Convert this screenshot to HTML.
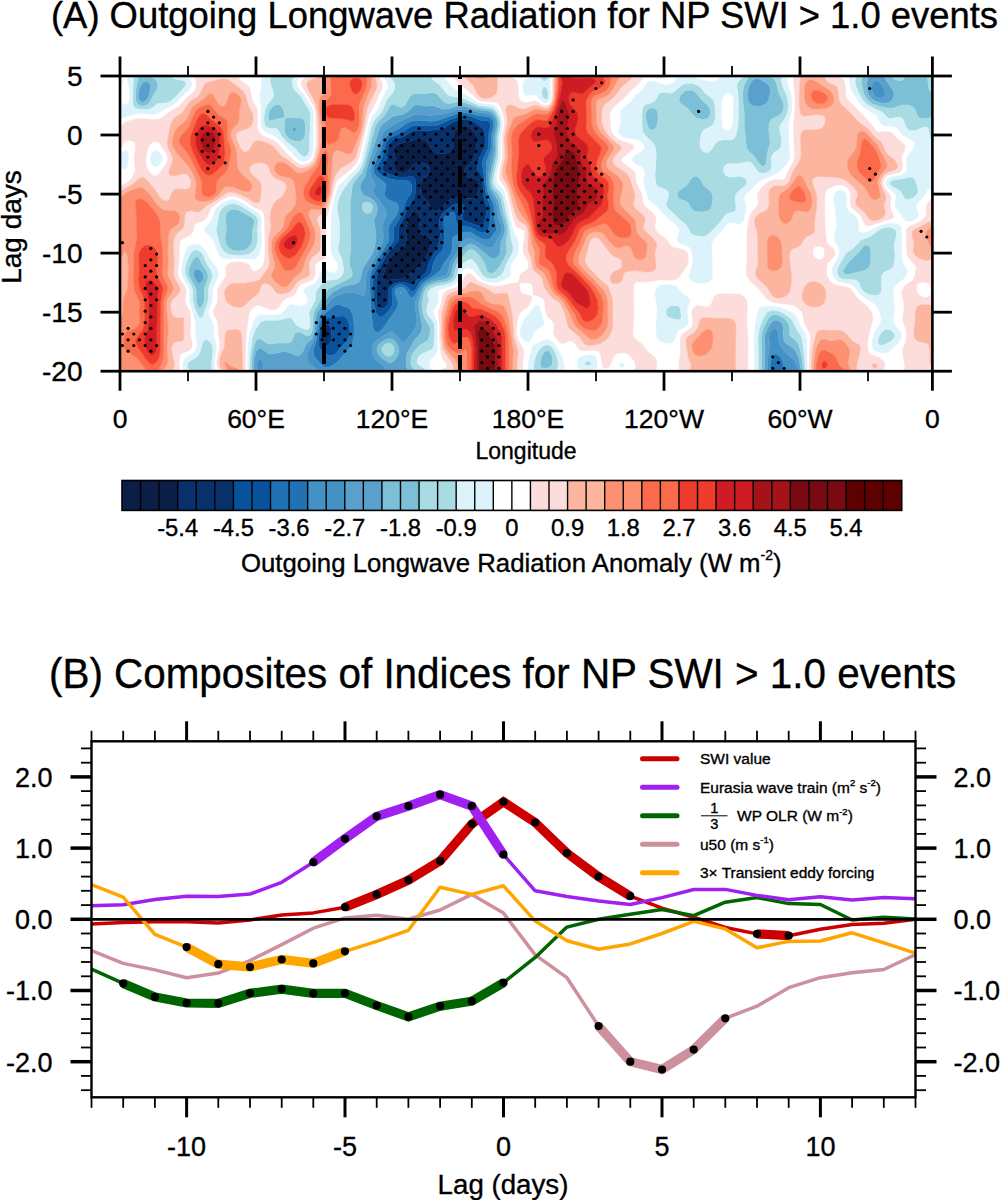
<!DOCTYPE html><html><head><meta charset="utf-8"><style>html,body{margin:0;padding:0;background:#fff;overflow:hidden}svg{display:block}</style></head><body>
<svg width="1000" height="1200" viewBox="0 0 1000 1200" >
<style>text{font-family:"Liberation Sans",sans-serif;stroke:#000;stroke-width:0.35px}</style>
<defs><clipPath id="pc"><rect x="120.0" y="76.0" width="812.4" height="295.2"/></clipPath></defs>
<g clip-path="url(#pc)"><rect x="120.0" y="76.0" width="812.4" height="295.2" fill="#ffffff"/><path fill="#0a1e48" stroke="#0a1e48" stroke-width="0.5" fill-rule="evenodd" d="M459.4 127.0 463.9 126.0 466.9 126.3 469.1 127.2 474.1 131.7 476.7 136.2 477.4 139.3 477.3 142.3 473.9 157.3 471.4 162.0 465.2 167.9 464.2 172.4 465.3 175.4 466.9 176.8 469.9 177.8 474.4 178.4 477.4 180.1 479.1 184.4 478.4 192.0 475.9 197.4 472.9 199.1 459.4 197.3 451.9 198.5 447.4 201.2 442.1 207.0 438.4 210.3 435.3 211.6 433.8 211.2 432.3 209.8 428.2 202.5 422.2 196.5 420.5 190.5 420.4 185.9 421.6 181.4 423.3 179.0 427.8 175.2 429.8 172.4 430.1 169.4 428.9 166.4 427.5 164.9 424.8 163.4 421.8 162.8 417.3 163.1 413.5 164.9 408.3 170.6 405.4 172.4 402.3 173.0 397.8 172.1 395.9 170.9 394.1 167.9 394.1 164.9 395.5 158.8 393.9 151.3 394.1 148.3 396.2 145.3 399.3 143.7 415.8 139.5 420.3 139.4 424.8 140.3 427.8 142.1 431.8 149.8 435.3 153.1 439.9 154.1 447.4 153.1 450.4 151.7 452.0 149.8 453.1 146.8 453.2 136.2 453.8 133.2 455.4 130.2 459.0 127.2ZM412.8 211.5 414.3 211.0 415.8 211.3 417.8 213.1 419.3 216.1 419.7 219.1 418.9 228.1 420.1 232.6 423.3 235.4 429.3 237.6 430.8 239.1 431.2 243.2 429.0 250.7 426.3 256.1 418.8 267.1 412.4 271.8 406.8 277.4 400.8 279.0 388.8 280.1 385.8 279.9 383.9 277.8 383.8 273.3 385.7 267.3 388.8 261.2 394.8 253.0 403.8 246.2 406.3 243.2 407.0 240.2 405.9 231.1 406.3 226.6 409.6 216.1 412.8 211.6Z"/><path fill="#08306b" stroke="#08306b" stroke-width="0.5" fill-rule="evenodd" d="M460.9 119.5 466.9 119.3 472.7 121.2 481.9 127.4 483.4 128.8 484.4 131.7 485.3 140.8 485.2 145.3 484.2 148.3 479.6 157.3 477.0 167.9 477.3 169.4 480.4 173.8 481.9 177.5 482.8 182.9 483.6 196.5 486.4 207.0 486.5 213.1 484.6 222.1 482.6 225.1 480.4 226.0 477.4 225.4 463.9 220.5 462.6 219.1 462.1 217.6 462.6 214.6 464.4 210.0 464.5 207.0 463.8 205.5 460.9 203.6 457.9 203.2 454.9 203.9 447.4 209.3 441.9 214.6 439.5 219.1 439.2 223.6 440.4 234.1 439.4 241.7 437.6 246.2 428.9 262.8 426.9 270.3 425.5 273.3 417.3 279.2 412.8 284.8 411.3 284.7 405.3 282.6 400.8 282.3 394.8 283.5 391.3 285.4 389.8 286.9 388.4 289.9 388.7 300.4 387.9 303.4 385.9 306.4 384.3 307.9 381.3 308.8 379.8 308.3 377.5 304.9 376.2 298.9 376.2 280.8 377.5 273.3 380.7 265.8 387.3 254.1 397.9 241.7 398.8 238.7 398.2 231.1 398.7 228.1 403.2 219.1 408.3 206.7 414.5 198.0 415.7 192.0 415.3 179.9 414.1 176.9 411.3 176.4 402.3 177.3 396.3 176.7 385.9 172.4 383.7 170.9 382.8 169.6 383.0 166.4 386.7 158.8 387.4 149.8 388.5 145.3 390.4 142.3 393.3 140.0 403.8 136.4 412.8 131.0 417.3 130.3 427.8 130.8 441.4 129.0 444.4 127.8 453.4 122.1 460.2 119.7ZM459.0 127.2 455.4 130.2 453.8 133.2 453.2 136.2 453.1 146.8 452.0 149.8 450.4 151.7 447.4 153.1 439.9 154.1 435.3 153.1 431.8 149.8 427.8 142.1 424.8 140.3 420.3 139.4 415.8 139.5 399.3 143.7 396.2 145.3 394.1 148.3 393.9 151.3 395.5 158.8 394.1 164.9 394.1 167.9 395.9 170.9 397.8 172.1 402.3 173.0 405.4 172.4 408.3 170.6 413.5 164.9 417.3 163.1 421.8 162.8 424.8 163.4 427.5 164.9 428.9 166.4 430.1 169.4 429.8 172.4 427.8 175.2 423.3 179.0 421.6 181.4 420.4 185.9 420.5 190.5 422.2 196.5 428.2 202.5 432.3 209.8 433.8 211.2 435.3 211.6 438.4 210.3 442.1 207.0 447.4 201.2 451.9 198.5 459.4 197.3 472.9 199.1 475.9 197.4 478.4 192.0 479.1 184.4 477.4 180.1 474.4 178.4 469.9 177.8 466.9 176.8 465.3 175.4 464.2 172.4 465.2 167.9 471.4 162.0 473.9 157.3 477.3 142.3 477.4 139.3 476.7 136.2 474.1 131.7 469.1 127.2 466.9 126.3 463.9 126.0 459.4 127.0ZM412.8 211.6 409.6 216.1 406.3 226.6 405.9 231.1 407.0 240.2 406.3 243.2 403.8 246.2 394.8 253.0 388.8 261.2 385.7 267.3 383.8 273.3 383.9 277.8 385.8 279.9 388.8 280.1 400.8 279.0 406.8 277.4 412.4 271.8 418.8 267.1 426.3 256.1 429.0 250.7 431.2 243.2 430.8 239.1 429.3 237.6 423.3 235.4 420.1 232.6 418.9 228.1 419.7 219.1 419.3 216.1 417.8 213.1 415.8 211.3 414.3 211.0 412.8 211.5ZM327.2 324.3 328.7 324.7 330.9 327.5 331.6 333.5 331.3 339.6 330.5 342.6 328.7 344.7 327.2 345.2 324.2 344.7 322.7 343.5 321.5 341.1 320.9 338.1 321.1 333.5 322.3 329.0 324.2 325.6 325.9 324.5Z"/><path fill="#08519c" stroke="#08519c" stroke-width="0.5" fill-rule="evenodd" d="M459.4 116.3 463.9 115.7 468.4 115.9 471.6 116.7 480.4 120.2 487.9 120.7 489.4 121.6 490.6 124.2 488.5 134.7 488.7 143.8 488.1 148.3 483.4 158.0 482.2 163.4 484.0 175.4 485.5 192.0 486.7 196.5 490.4 205.5 491.0 208.5 489.8 223.6 489.0 228.1 487.2 231.1 484.9 232.6 483.4 232.9 480.4 232.5 471.4 227.7 468.4 226.9 460.9 226.2 458.5 225.1 457.2 223.6 455.9 220.6 454.9 213.5 453.4 212.1 450.4 212.6 446.8 214.6 444.2 217.6 443.3 220.6 444.7 234.1 443.5 247.7 442.1 250.7 436.9 256.3 434.8 259.7 433.0 264.3 432.0 270.3 430.8 273.3 428.0 276.3 420.3 281.5 415.8 288.9 414.3 290.8 412.8 291.6 411.3 291.2 407.4 286.9 403.8 284.8 399.3 284.6 396.3 285.4 394.0 286.9 392.7 288.4 391.8 291.4 392.9 301.9 391.6 306.4 388.8 310.6 385.8 314.0 382.8 316.5 379.8 317.2 378.3 316.3 376.0 312.5 373.7 303.4 372.9 282.3 373.7 274.8 376.7 267.3 384.2 253.7 393.1 241.7 393.9 238.7 393.3 231.1 393.7 228.1 401.0 216.1 405.9 201.0 410.7 193.5 411.9 189.0 411.5 184.4 409.4 181.4 406.8 180.6 396.3 180.1 390.3 179.0 381.4 175.4 377.9 172.4 376.9 169.4 377.4 166.4 382.4 157.3 385.6 143.8 387.3 140.7 390.3 137.6 401.0 133.2 411.3 126.4 417.3 125.2 429.3 125.9 436.9 125.2 441.4 123.8 450.4 119.6 457.9 116.7ZM460.2 119.7 453.4 122.1 444.4 127.8 441.4 129.0 427.8 130.8 417.3 130.3 412.8 131.0 403.8 136.4 393.3 140.0 390.4 142.3 388.5 145.3 387.4 149.8 386.7 158.8 383.0 166.4 382.8 169.6 383.7 170.9 385.9 172.4 396.3 176.7 402.3 177.3 411.3 176.4 414.1 176.9 415.3 179.9 415.7 192.0 414.5 198.0 408.3 206.7 403.2 219.1 398.7 228.1 398.2 231.1 398.8 238.7 397.9 241.7 387.3 254.1 380.7 265.8 377.5 273.3 376.2 280.8 376.2 298.9 377.5 304.9 379.8 308.3 381.3 308.8 384.3 307.9 385.9 306.4 387.9 303.4 388.7 300.4 388.4 289.9 389.8 286.9 391.3 285.4 394.8 283.5 400.8 282.3 405.3 282.6 411.3 284.7 412.8 284.8 417.3 279.2 425.5 273.3 426.9 270.3 428.9 262.8 437.6 246.2 439.4 241.7 440.4 234.1 439.2 223.6 439.5 219.1 441.9 214.6 447.4 209.3 454.9 203.9 457.9 203.2 460.9 203.6 463.8 205.5 464.5 207.0 464.4 210.0 462.6 214.6 462.1 217.6 462.6 219.1 463.9 220.5 477.4 225.4 480.4 226.0 482.6 225.1 484.6 222.1 486.5 213.1 486.4 207.0 483.6 196.5 482.8 182.9 481.9 177.5 480.4 173.8 477.3 169.4 477.0 167.9 479.6 157.3 484.2 148.3 485.2 145.3 485.3 140.8 484.4 131.7 483.4 128.8 481.9 127.4 472.7 121.2 466.9 119.3 460.9 119.5ZM337.7 316.8 340.7 316.1 343.7 316.3 346.8 318.5 348.4 321.5 349.5 326.0 349.9 330.5 349.4 335.1 348.3 338.7 346.8 341.2 342.2 345.8 336.3 353.1 333.2 355.2 328.7 355.5 322.7 352.2 320.7 350.1 319.1 347.1 318.6 339.6 319.7 329.9 322.7 321.5 325.7 318.4 328.7 317.3 336.9 317.0ZM325.9 324.5 324.2 325.6 322.3 329.0 321.1 333.5 320.9 338.1 321.5 341.1 322.7 343.5 324.2 344.7 327.2 345.2 328.7 344.7 330.5 342.6 331.3 339.6 331.6 333.5 330.9 327.5 328.7 324.7 327.2 324.3Z"/><path fill="#2171b5" stroke="#2171b5" stroke-width="0.5" fill-rule="evenodd" d="M457.9 113.3 462.4 112.5 466.9 112.5 480.4 115.9 487.9 116.5 490.9 117.9 493.1 121.2 493.6 125.7 491.1 136.2 491.0 148.3 486.6 161.8 486.2 181.4 487.7 192.0 492.8 202.5 494.2 207.0 494.6 219.1 496.6 228.1 495.9 231.1 490.9 237.8 489.4 238.9 486.4 239.7 483.4 239.4 480.4 238.2 471.4 232.7 468.4 231.9 463.1 232.6 455.6 235.6 453.4 237.1 452.1 240.2 452.3 247.7 451.4 252.2 448.9 256.8 443.2 264.3 440.5 270.3 433.3 276.3 424.8 281.2 421.8 283.7 414.3 295.9 412.8 297.1 411.3 297.4 409.8 296.8 405.3 289.0 402.3 287.0 399.3 287.0 396.3 288.8 395.5 289.9 395.0 292.9 398.1 301.9 398.1 304.9 397.1 307.9 382.6 329.0 379.8 331.5 378.3 332.2 375.9 332.0 374.2 330.5 373.1 327.5 371.1 312.5 369.7 282.3 370.1 276.3 371.3 271.8 374.1 265.8 388.1 241.7 388.9 238.7 388.2 231.1 388.8 226.6 390.3 223.6 396.7 214.6 398.4 210.0 398.7 207.0 397.8 204.2 396.3 202.9 388.8 200.0 385.1 196.5 384.3 193.5 385.9 187.5 385.8 184.4 383.2 181.4 376.8 177.0 374.3 173.9 373.2 169.4 374.1 164.9 379.3 154.3 383.4 140.8 386.2 136.2 389.8 133.2 397.8 129.5 406.8 123.3 412.8 120.8 418.8 120.2 429.7 121.2 435.3 121.0 439.9 119.8 456.7 113.7ZM457.9 116.7 450.4 119.6 441.4 123.8 436.9 125.2 429.3 125.9 417.3 125.2 411.3 126.4 401.0 133.2 390.3 137.6 387.3 140.7 385.6 143.8 382.4 157.3 377.4 166.4 376.9 169.4 377.9 172.4 381.4 175.4 390.3 179.0 396.3 180.1 406.8 180.6 409.4 181.4 411.5 184.4 411.9 189.0 410.7 193.5 405.9 201.0 401.0 216.1 393.7 228.1 393.3 231.1 393.9 238.7 393.1 241.7 384.2 253.7 376.7 267.3 373.7 274.8 372.9 282.3 373.7 303.4 376.0 312.5 378.3 316.3 379.8 317.2 382.8 316.5 385.8 314.0 388.8 310.6 391.6 306.4 392.9 301.9 391.8 291.4 392.7 288.4 394.0 286.9 396.3 285.4 399.3 284.6 403.8 284.8 407.4 286.9 411.3 291.2 412.8 291.6 414.3 290.8 415.8 288.9 420.3 281.5 428.0 276.3 430.8 273.3 432.0 270.3 433.0 264.3 434.8 259.7 436.9 256.3 442.1 250.7 443.5 247.7 444.7 234.1 443.3 220.6 444.2 217.6 446.8 214.6 450.4 212.6 453.4 212.1 454.9 213.5 455.9 220.6 457.2 223.6 458.5 225.1 460.9 226.2 468.4 226.9 471.4 227.7 480.4 232.5 483.4 232.9 484.9 232.6 487.2 231.1 489.0 228.1 489.8 223.6 491.0 208.5 490.4 205.5 486.7 196.5 485.5 192.0 484.0 175.4 482.2 163.4 483.4 158.0 488.1 148.3 488.7 143.8 488.5 134.7 490.6 124.2 489.4 121.6 487.9 120.7 480.4 120.2 471.6 116.7 468.4 115.9 463.9 115.7 459.4 116.3ZM336.2 304.6 339.2 304.5 346.8 307.2 349.8 308.9 351.3 310.9 352.8 315.5 354.0 323.0 354.3 330.5 353.7 338.1 352.6 342.6 350.4 347.1 339.2 360.1 336.2 362.8 331.7 365.8 328.7 367.1 325.7 367.4 322.7 366.1 315.2 357.6 313.6 354.6 313.4 350.1 316.1 341.1 319.1 324.5 321.2 318.0 324.2 313.8 335.5 304.9ZM336.9 317.0 328.7 317.3 325.7 318.4 322.7 321.5 319.7 329.9 318.6 339.6 319.1 347.1 320.7 350.1 322.7 352.2 328.7 355.5 333.2 355.2 336.3 353.1 342.2 345.8 346.8 341.2 348.3 338.7 349.4 335.1 349.9 330.5 349.5 326.0 348.4 321.5 346.8 318.5 343.7 316.3 340.7 316.1 337.7 316.8ZM774.7 354.1 776.2 353.9 779.2 355.5 781.0 357.6 782.4 360.7 783.0 363.7 783.0 366.7 780.9 371.2 771.1 371.2 770.1 366.7 770.5 362.2 771.7 357.9 774.1 354.6Z"/><path fill="#4292c6" stroke="#4292c6" stroke-width="0.5" fill-rule="evenodd" d="M875.3 80.4 876.8 80.3 879.8 82.1 882.1 85.0 884.5 89.6 885.4 94.1 884.3 96.6 882.8 97.6 879.8 98.0 876.8 97.3 874.6 95.6 872.6 92.6 871.9 89.6 872.1 85.0 873.4 82.0 875.2 80.5ZM456.4 110.3 460.9 109.3 465.4 109.3 480.4 112.7 487.9 113.5 492.4 115.8 494.9 119.7 495.7 124.2 493.2 136.2 493.1 149.8 489.9 163.4 488.1 176.9 487.9 182.9 489.4 190.8 495.3 201.0 496.9 205.5 498.5 217.6 501.3 225.1 501.9 228.1 501.6 231.1 500.3 234.1 493.9 245.3 492.4 247.1 490.9 247.7 486.4 246.9 471.4 238.7 468.4 238.3 465.4 239.3 462.6 241.7 460.9 243.9 456.8 252.2 451.0 261.3 449.3 265.8 448.1 271.8 446.3 274.8 443.8 276.3 436.9 278.1 430.8 280.5 426.3 282.8 423.2 285.4 420.5 289.9 415.8 300.4 415.0 303.4 414.9 306.4 417.0 320.0 416.2 326.0 414.6 329.0 405.3 341.5 403.8 342.2 402.3 341.9 399.3 339.1 394.8 333.6 391.8 331.6 388.8 332.5 376.8 340.2 374.1 342.6 372.6 345.6 372.0 348.6 372.3 353.1 373.1 356.1 375.3 359.4 384.1 366.7 385.4 369.7 384.9 371.2 317.5 371.2 313.7 366.7 307.8 362.2 307.1 359.2 307.8 353.1 309.1 348.6 313.5 341.1 314.6 338.1 317.9 320.0 319.9 314.0 331.7 299.0 336.2 295.9 345.7 292.9 349.8 292.3 355.8 293.0 363.3 296.0 364.8 294.5 365.6 289.9 366.0 277.8 367.4 271.8 370.2 265.8 377.3 253.7 382.6 241.7 383.3 237.2 382.8 226.6 383.6 222.1 386.3 214.6 386.1 211.6 378.8 199.5 372.8 192.0 372.7 190.5 375.0 185.9 375.2 184.4 374.8 182.9 371.1 176.9 369.9 170.9 371.3 163.4 375.6 152.8 380.2 139.3 382.8 133.4 384.3 131.2 387.3 128.7 400.3 121.2 414.3 114.7 417.3 114.3 429.3 115.4 436.9 115.1 445.9 113.8 455.3 110.6ZM456.7 113.7 439.9 119.8 435.3 121.0 429.7 121.2 418.8 120.2 412.8 120.8 406.8 123.3 397.8 129.5 389.8 133.2 386.2 136.2 383.4 140.8 379.3 154.3 374.1 164.9 373.2 169.4 374.3 173.9 376.8 177.0 383.2 181.4 385.8 184.4 385.9 187.5 384.3 193.5 385.1 196.5 388.8 200.0 396.3 202.9 397.8 204.2 398.7 207.0 398.4 210.0 396.7 214.6 390.3 223.6 388.8 226.6 388.2 231.1 388.9 238.7 388.1 241.7 374.1 265.8 371.3 271.8 370.1 276.3 369.7 282.3 371.1 312.5 373.1 327.5 374.2 330.5 375.9 332.0 378.3 332.2 379.8 331.5 382.6 329.0 397.1 307.9 398.1 304.9 398.1 301.9 395.0 292.9 395.5 289.9 396.3 288.8 399.3 287.0 402.3 287.0 405.3 289.0 409.8 296.8 411.3 297.4 412.8 297.1 414.3 295.9 421.8 283.7 424.8 281.2 433.3 276.3 440.5 270.3 443.2 264.3 448.9 256.8 451.4 252.2 452.3 247.7 452.1 240.2 453.4 237.1 455.6 235.6 463.1 232.6 468.4 231.9 471.4 232.7 480.4 238.2 483.4 239.4 486.4 239.7 489.4 238.9 490.9 237.8 495.9 231.1 496.6 228.1 494.6 219.1 494.2 207.0 492.8 202.5 487.7 192.0 486.2 181.4 486.6 161.8 491.0 148.3 491.1 136.2 493.6 125.7 493.1 121.2 490.9 117.9 487.9 116.5 480.4 115.9 466.9 112.5 462.4 112.5 457.9 113.3ZM400.5 292.9 400.8 293.6 401.9 292.9 400.8 292.0ZM335.5 304.9 324.2 313.8 321.2 318.0 319.1 324.5 316.1 341.1 313.4 350.1 313.6 354.6 315.2 357.6 322.7 366.1 325.7 367.4 328.7 367.1 331.7 365.8 336.2 362.8 339.2 360.1 350.4 347.1 352.6 342.6 353.7 338.1 354.3 330.5 354.0 323.0 352.8 315.5 351.3 310.9 349.8 308.9 346.8 307.2 339.2 304.5 336.2 304.6ZM773.2 328.8 774.7 328.3 776.2 328.6 777.6 330.5 779.0 341.1 780.3 345.6 785.2 352.0 794.2 360.5 797.3 365.9 798.9 371.2 780.9 371.2 783.0 366.7 782.8 362.2 780.7 357.3 779.2 355.5 776.2 353.9 774.7 354.1 773.2 355.4 771.3 359.2 770.1 365.2 770.2 368.2 771.1 371.2 767.5 371.2 767.3 362.2 769.6 347.1 768.8 336.6 770.2 332.4 773.0 329.0ZM259.7 359.1 261.8 360.7 262.7 362.3 263.2 365.2 262.7 368.2 261.2 370.3 259.7 370.8 257.9 369.7 256.8 365.2 257.9 360.7 259.5 359.2Z"/><path fill="#5aa0cd" stroke="#5aa0cd" stroke-width="0.5" fill-rule="evenodd" d="M867.8 77.0 868.1 76.0 883.3 76.0 893.3 91.1 894.0 95.6 892.1 100.1 888.9 102.4 885.8 103.2 882.8 103.2 875.7 101.6 871.2 98.6 868.3 94.1 867.2 89.6 866.9 83.5 867.7 77.5ZM875.2 80.5 873.4 82.0 872.1 85.0 871.9 89.6 872.6 92.6 874.6 95.6 876.8 97.3 879.8 98.0 882.8 97.6 884.3 96.6 885.4 94.1 884.5 89.6 882.1 85.0 879.8 82.1 876.8 80.3 875.3 80.4ZM755.2 78.6 758.2 78.6 765.7 82.5 768.8 85.0 770.1 88.0 770.3 92.6 768.6 100.1 766.8 103.1 762.7 105.5 758.2 106.4 753.7 106.1 750.7 104.5 749.2 102.6 748.1 100.1 747.4 94.1 748.4 88.0 750.7 82.7 752.2 80.7 754.4 79.0ZM144.0 81.9 145.5 81.4 148.5 82.3 150.5 85.0 150.7 88.0 148.8 95.6 147.0 99.5 144.9 101.6 142.5 102.2 141.0 101.8 139.3 100.1 138.3 97.1 138.3 94.1 139.1 89.6 140.3 86.5 142.5 83.0 143.8 82.0ZM414.3 105.6 417.3 104.7 424.8 106.3 433.8 105.6 441.4 108.7 445.9 109.3 457.9 106.1 463.9 105.9 478.9 109.9 489.4 111.3 492.4 112.8 495.4 116.4 497.2 121.2 497.4 125.7 495.1 136.2 495.3 146.8 494.8 152.8 490.2 175.4 489.5 181.4 490.9 189.1 498.4 201.0 501.2 214.6 504.8 226.6 504.7 232.6 500.7 243.2 500.2 252.2 499.1 255.2 496.9 257.6 495.4 258.4 492.4 258.5 489.4 256.9 475.9 245.9 471.4 244.1 468.4 244.4 465.5 246.2 463.9 248.0 454.8 261.3 452.8 265.8 450.9 274.8 448.9 277.6 445.2 279.3 436.9 280.9 432.3 282.3 427.8 284.3 424.8 286.6 423.3 288.6 421.5 292.9 418.8 303.4 419.1 309.4 421.9 324.5 422.0 329.0 420.3 333.4 414.3 340.3 407.3 353.1 406.3 357.6 406.2 363.7 406.8 368.2 408.5 371.2 384.9 371.2 385.4 369.7 384.1 366.7 375.3 359.4 373.1 356.1 372.3 353.1 372.0 348.6 372.6 345.6 374.1 342.6 376.8 340.2 388.8 332.5 391.8 331.6 394.8 333.6 399.3 339.1 402.3 341.9 403.8 342.2 405.3 341.5 414.6 329.0 416.2 326.0 417.0 320.0 414.9 306.4 415.0 303.4 415.8 300.4 420.5 289.9 423.2 285.4 426.3 282.8 430.8 280.5 436.9 278.1 443.8 276.3 446.3 274.8 448.1 271.8 449.3 265.8 451.0 261.3 456.8 252.2 460.9 243.9 462.6 241.7 465.4 239.3 468.4 238.3 471.4 238.7 486.4 246.9 490.9 247.7 492.4 247.1 493.9 245.3 500.3 234.1 501.9 229.6 501.4 225.4 498.2 216.1 496.5 204.0 495.3 201.0 489.9 192.0 488.5 187.5 487.9 182.9 488.1 176.9 489.9 163.4 493.1 149.8 493.4 134.7 495.6 125.7 495.4 121.2 493.2 116.7 490.9 114.6 487.9 113.5 480.4 112.7 469.9 110.0 463.9 109.2 457.9 109.8 447.4 113.4 439.9 114.8 429.3 115.4 417.3 114.3 411.3 115.8 400.3 121.2 387.3 128.7 384.3 131.2 380.7 137.8 375.6 152.8 371.8 161.8 370.2 167.9 370.2 173.9 371.1 176.9 374.8 182.9 375.2 184.4 375.0 185.9 372.7 190.5 372.8 192.0 378.8 199.5 383.8 207.0 385.5 210.0 386.4 213.1 383.0 225.1 383.0 240.2 378.0 252.2 370.2 265.8 367.4 271.8 366.0 277.8 365.6 289.9 364.8 294.5 363.3 296.0 355.8 293.0 349.8 292.3 345.7 292.9 336.2 295.9 331.7 299.0 321.9 311.0 319.7 314.4 317.9 320.0 314.6 338.1 313.5 341.1 309.1 348.6 307.8 353.1 307.1 359.2 307.8 362.2 313.7 366.7 317.5 371.2 253.8 371.2 253.4 365.2 254.2 357.6 256.1 351.6 258.2 348.9 259.7 348.5 261.2 348.7 267.2 352.8 270.2 354.0 273.2 353.9 283.7 351.5 288.2 352.2 295.7 355.5 298.7 355.5 300.6 354.6 302.9 351.6 306.0 344.1 310.7 340.0 312.2 338.0 314.1 332.0 316.0 317.0 317.3 312.5 328.6 295.9 333.2 291.9 342.5 286.9 346.8 285.4 355.8 284.1 358.8 282.3 360.3 279.1 363.4 267.3 371.6 255.2 374.2 249.2 375.4 243.2 376.0 234.1 373.9 220.6 376.8 213.1 377.5 208.5 376.4 204.0 373.8 200.5 370.8 198.3 363.5 195.0 362.0 193.5 360.1 189.0 360.2 184.4 364.9 176.9 368.7 161.8 379.9 127.2 382.8 123.9 393.3 116.3 402.3 114.5 405.3 113.3 409.0 110.6 413.7 106.1ZM385.5 339.6 381.3 342.1 378.3 345.1 377.0 348.6 377.2 351.6 379.5 356.1 382.8 359.1 388.8 362.4 391.8 362.5 394.8 360.4 397.7 356.1 399.0 351.6 398.5 347.1 396.1 342.6 393.1 339.6 390.3 338.4 385.8 339.4ZM259.5 359.2 257.9 360.7 256.8 365.2 257.9 369.7 259.7 370.8 261.2 370.3 262.7 368.2 263.2 365.2 262.7 362.3 261.8 360.7 259.7 359.1ZM294.2 127.2 295.7 127.6 296.3 128.7 295.7 131.1 294.2 131.8 292.4 130.2 292.7 128.3 294.1 127.2ZM195.1 269.7 196.6 269.0 199.6 269.9 201.6 271.8 203.3 274.8 203.5 277.8 202.6 280.6 201.1 282.6 199.6 283.3 198.1 282.8 196.6 281.4 193.7 276.3 193.4 273.3 194.6 270.3ZM400.8 292.0 401.9 292.9 400.8 293.6 400.5 292.9ZM773.2 320.9 774.7 320.2 777.7 320.3 780.7 322.0 782.7 324.5 783.5 327.5 783.1 335.1 783.8 339.6 785.2 342.4 786.7 344.0 792.7 347.7 795.7 351.1 798.8 358.2 801.4 371.2 798.9 371.2 797.3 365.9 794.2 360.5 785.2 352.0 781.1 347.1 779.2 342.6 777.7 330.7 776.2 328.6 774.7 328.3 771.7 330.2 769.2 335.1 768.7 339.6 769.6 347.1 767.3 362.2 767.5 371.2 764.6 371.2 765.0 350.1 764.6 339.6 765.0 335.1 767.2 328.7 770.2 323.9 772.4 321.5Z"/><path fill="#7bc0d6" stroke="#7bc0d6" stroke-width="0.5" fill-rule="evenodd" d="M139.5 76.0 149.3 76.0 156.0 79.8 157.9 83.5 157.9 86.5 157.0 89.6 153.0 95.7 150.0 102.1 147.8 104.6 144.0 106.1 141.0 105.9 138.1 104.6 136.5 102.6 135.7 100.1 135.6 91.1 138.1 79.0 138.3 76.0ZM143.8 82.0 142.5 83.0 140.3 86.5 139.1 89.6 138.3 94.1 138.3 97.1 139.3 100.1 141.0 101.8 142.5 102.2 144.9 101.6 147.0 99.5 148.8 95.6 150.7 88.0 150.5 85.0 148.5 82.3 145.5 81.4 144.0 81.9ZM545.0 76.0 545.8 76.0 545.0 76.0 544.8 76.0ZM749.2 76.0 768.8 76.0 774.0 79.0 776.2 82.3 779.1 94.1 783.0 101.6 783.8 104.6 783.6 109.1 782.2 112.3 779.2 115.2 771.7 119.0 769.3 122.7 768.7 130.2 769.9 140.8 769.9 143.8 767.4 152.8 766.0 163.4 764.2 166.1 762.8 166.4 759.7 164.3 753.7 155.7 747.7 150.2 746.1 145.3 744.3 125.7 744.3 113.7 742.9 101.6 742.7 92.6 744.1 85.0 748.9 76.0ZM754.4 79.0 752.2 80.7 750.7 82.7 748.4 88.0 747.4 94.1 748.1 100.1 749.2 102.6 750.7 104.5 753.7 106.1 758.2 106.4 762.7 105.5 766.8 103.1 768.6 100.1 770.3 92.6 770.1 88.0 768.8 85.0 765.7 82.5 758.2 78.6 755.2 78.6ZM861.8 76.4 861.9 76.0 868.1 76.0 866.9 83.5 867.2 89.6 868.3 94.1 870.8 98.2 873.8 100.7 876.8 102.0 884.3 103.3 888.9 102.4 891.9 100.4 893.7 97.1 894.0 94.1 892.6 89.6 883.3 76.0 891.1 76.0 894.9 79.5 899.4 80.8 902.4 80.1 903.8 79.0 905.0 76.0 927.3 76.0 928.7 88.0 929.8 91.1 932.4 93.5 932.4 116.8 927.9 118.4 923.4 118.6 920.3 118.2 918.9 117.5 917.4 115.7 915.7 110.6 913.8 107.6 911.4 105.9 908.4 104.9 902.4 104.9 893.4 108.0 888.9 108.4 879.8 106.6 872.3 103.8 867.5 100.1 864.0 94.1 861.6 85.0 861.6 77.5ZM686.1 90.7 690.6 90.1 693.6 91.1 696.6 93.7 701.1 99.3 708.5 106.1 709.9 109.1 710.2 113.7 709.1 116.7 707.2 118.7 702.6 119.7 696.6 117.9 693.6 115.6 687.6 108.5 680.1 103.1 679.0 100.1 679.6 97.1 681.6 93.9 685.3 91.1ZM432.3 92.6 435.3 93.2 436.9 94.1 442.9 101.1 445.9 103.1 448.9 103.5 457.9 101.9 462.4 102.1 478.9 107.6 490.9 109.4 493.1 110.6 495.4 112.9 498.2 118.2 499.2 124.2 496.9 136.2 496.9 152.8 491.8 176.9 491.4 182.9 492.0 185.9 493.4 189.0 498.6 195.0 500.9 199.5 503.7 213.1 506.7 223.6 507.6 229.6 507.4 234.1 506.2 241.7 506.9 252.2 504.5 258.2 499.9 266.0 495.2 271.8 492.4 273.3 489.4 273.1 487.9 272.1 486.7 270.3 484.4 262.8 478.1 253.7 474.4 250.5 471.4 249.5 469.9 249.6 466.9 251.4 457.7 262.8 456.2 265.8 453.7 276.3 451.5 279.3 447.4 281.5 436.9 283.4 432.3 284.8 428.1 286.9 426.3 288.4 424.5 291.4 423.2 295.9 422.3 303.4 422.3 307.9 424.2 317.0 430.0 327.5 430.2 332.0 429.4 336.6 428.3 339.6 427.0 341.1 420.3 345.0 415.8 349.3 412.8 353.6 411.2 357.6 410.7 362.2 411.6 366.7 414.3 369.3 419.9 371.2 408.5 371.2 406.8 368.2 406.2 363.7 406.3 357.6 407.3 353.1 414.3 340.3 420.3 333.4 422.0 329.0 421.9 324.5 419.1 309.4 418.8 303.4 420.5 295.9 423.5 288.4 426.3 285.3 430.8 282.9 436.9 280.9 445.9 279.1 448.9 277.6 450.9 274.8 452.8 265.8 454.8 261.3 463.9 248.0 465.5 246.2 468.4 244.4 471.4 244.1 475.9 245.9 490.9 257.9 493.9 258.7 496.9 257.6 498.4 256.2 499.9 253.4 500.7 243.2 504.3 234.1 505.0 229.6 504.6 225.1 501.2 214.6 498.9 202.5 496.9 198.0 491.6 190.5 490.4 187.5 489.6 182.9 489.9 176.9 495.0 151.3 495.1 136.2 497.5 124.2 496.9 119.7 494.6 115.2 492.4 112.8 489.4 111.3 478.9 109.9 463.9 105.9 457.9 106.1 448.9 108.8 444.4 109.3 441.4 108.7 433.8 105.6 424.8 106.3 418.8 104.9 415.8 104.9 414.3 105.6 409.0 110.6 405.3 113.3 402.3 114.5 393.3 116.3 382.8 123.9 379.9 127.2 368.7 161.8 364.9 176.9 360.2 184.4 360.1 189.0 362.0 193.5 363.5 195.0 370.8 198.3 373.8 200.5 376.4 204.0 377.5 208.5 376.8 213.1 373.9 220.6 376.0 234.1 375.4 243.2 374.2 249.2 371.6 255.2 363.4 267.3 360.3 279.1 358.8 282.3 355.8 284.1 346.8 285.4 342.5 286.9 333.2 291.9 328.6 295.9 317.3 312.5 316.0 317.0 314.1 332.0 312.2 338.0 310.7 340.0 306.0 344.1 302.9 351.6 300.6 354.6 298.7 355.5 295.7 355.5 288.2 352.2 283.7 351.5 273.2 353.9 270.2 354.0 267.2 352.8 261.2 348.7 259.7 348.5 258.2 348.9 256.1 351.6 254.2 357.6 253.4 365.2 253.8 371.2 251.4 371.2 251.4 362.2 252.4 353.1 254.6 344.1 256.7 339.9 258.2 338.8 259.7 338.7 267.2 343.3 270.2 344.0 279.2 343.0 288.2 343.1 291.2 341.9 292.6 339.6 294.2 334.7 295.7 333.0 297.2 332.3 300.2 332.3 306.2 335.6 309.2 335.6 310.7 334.3 312.3 330.5 313.0 324.5 313.3 315.5 314.3 311.0 324.5 292.9 329.2 288.4 347.9 279.3 351.7 276.3 352.3 274.8 352.2 271.8 349.7 265.8 349.2 262.8 350.7 250.7 350.2 205.5 351.8 189.0 352.9 184.4 354.4 181.4 360.9 173.9 364.0 167.9 375.5 125.7 378.3 121.3 384.7 115.2 388.9 107.6 390.3 105.5 391.8 104.4 394.8 104.6 399.3 107.0 402.3 107.2 405.5 104.6 409.8 96.5 412.8 94.1 415.8 93.6 424.8 93.9 432.2 92.6ZM364.2 202.5 362.7 204.0 362.1 205.5 362.7 210.0 363.6 211.6 365.6 213.1 367.8 213.4 369.3 213.0 370.8 212.0 372.2 210.0 372.7 207.0 372.3 205.5 371.4 204.0 369.3 202.4 366.3 201.9 364.8 202.2ZM274.7 105.6 277.7 104.7 279.2 104.8 282.2 107.1 284.0 112.1 284.4 116.7 283.7 117.7 277.7 118.8 271.7 120.6 270.2 120.5 269.0 119.7 268.2 116.7 269.0 112.1 270.6 109.1 273.9 106.1ZM648.6 109.1 651.6 108.0 654.6 108.3 656.1 109.2 657.7 112.1 658.1 118.2 657.3 124.2 656.1 127.4 654.6 129.3 653.1 130.1 650.1 129.5 648.6 127.9 646.6 122.7 645.9 118.2 646.0 113.7 647.1 110.6 648.5 109.1ZM285.2 118.2 291.2 117.7 300.2 118.0 303.2 118.9 304.0 119.7 305.3 124.2 305.3 133.2 304.0 137.8 301.7 140.4 298.7 141.3 294.2 141.0 289.7 139.0 286.8 136.2 285.1 133.2 284.4 130.2 284.7 119.7 285.2 118.2ZM294.1 127.2 292.7 128.3 292.4 130.2 294.2 131.8 295.7 131.1 296.3 128.7 295.7 127.6 294.2 127.2ZM693.6 176.6 696.6 176.5 699.6 178.4 704.1 186.1 710.2 191.0 712.0 193.5 712.9 198.0 712.3 204.0 710.8 208.5 708.7 210.5 702.6 212.0 695.1 211.5 692.1 209.4 687.9 202.5 685.3 201.0 680.1 199.3 678.3 198.0 677.5 196.5 677.4 193.5 678.6 190.9 686.1 185.9 687.6 184.3 690.6 179.2 693.0 176.9ZM231.1 209.6 234.1 209.2 238.6 210.3 252.1 217.5 254.1 220.6 254.1 223.6 252.2 231.1 252.4 238.7 251.9 241.7 250.5 244.7 248.1 247.7 246.1 249.3 243.1 250.6 237.1 251.1 232.6 250.2 228.7 247.7 225.8 243.2 225.0 238.7 226.4 229.6 225.5 219.1 225.7 216.1 226.8 213.1 230.1 210.0ZM864.8 245.5 866.3 245.1 869.0 246.2 870.0 247.7 870.8 250.7 870.8 261.3 870.2 264.3 868.8 267.3 867.4 268.8 864.8 270.2 849.8 274.2 846.8 274.7 843.8 273.6 843.0 271.8 843.1 270.3 845.6 265.8 849.2 261.3 857.3 253.7 863.6 246.2ZM196.6 256.7 198.1 257.1 199.6 258.9 202.2 264.3 207.0 271.8 208.2 276.3 207.7 279.3 204.3 288.4 204.6 298.9 204.1 301.7 201.7 306.4 201.1 307.3 199.6 307.9 198.1 306.7 196.3 301.9 196.3 291.4 195.8 288.4 190.0 277.8 188.6 273.3 188.9 268.8 190.6 264.0 193.6 258.9 196.5 256.7ZM194.6 270.3 193.4 273.3 193.7 276.3 196.6 281.4 198.1 282.8 199.6 283.3 201.1 282.6 202.6 280.6 203.5 277.8 203.3 274.8 201.6 271.8 199.6 269.9 196.6 269.0 195.1 269.7ZM771.7 315.3 774.7 314.4 779.2 315.5 784.1 318.5 788.3 323.0 789.6 327.5 789.8 335.1 791.2 337.1 795.7 340.3 797.3 342.0 799.4 347.1 802.1 359.2 803.5 371.2 801.4 371.2 798.8 358.2 795.7 351.1 792.7 347.7 786.7 344.0 784.5 341.1 783.2 336.6 783.5 327.5 782.7 324.5 780.1 321.5 776.2 320.0 773.2 320.9 770.2 323.9 767.2 328.7 765.4 333.5 764.6 339.6 765.0 350.1 764.6 371.2 761.7 371.2 761.2 341.1 761.6 335.1 763.2 329.0 765.7 323.2 768.7 318.1 771.4 315.5ZM385.8 339.4 390.3 338.4 393.1 339.6 396.1 342.6 398.5 347.1 399.0 351.6 397.7 356.1 394.8 360.4 391.8 362.5 388.8 362.4 382.8 359.1 379.5 356.1 377.2 351.6 377.0 348.6 378.3 345.1 381.3 342.1 385.5 339.6ZM385.6 344.1 382.4 347.1 381.9 348.6 382.3 351.6 384.3 354.3 385.8 355.5 388.8 356.5 390.3 356.3 391.8 355.4 393.5 353.1 394.2 350.1 393.8 347.1 391.8 344.2 390.3 343.4 388.8 343.2 385.8 344.0ZM545.0 351.4 548.0 350.7 549.5 351.6 552.0 356.1 552.8 360.7 552.4 363.7 551.0 366.1 548.0 368.0 545.0 368.7 542.0 368.0 540.9 366.7 540.2 363.7 540.5 359.9 541.6 356.1 544.7 351.6Z"/><path fill="#a9dbe3" stroke="#a9dbe3" stroke-width="0.5" fill-rule="evenodd" d="M135.0 76.0 138.3 76.0 138.3 77.5 135.6 91.1 135.7 100.1 136.5 102.6 138.0 104.6 141.0 105.9 145.5 105.7 148.5 104.0 150.3 101.6 153.0 95.7 157.6 88.0 157.9 83.5 156.8 80.5 155.1 79.0 149.3 76.0 171.8 76.0 172.6 77.9 174.1 78.8 181.6 80.0 184.6 81.3 186.0 83.5 185.7 85.0 184.6 87.0 174.1 98.6 170.1 101.6 165.0 103.3 157.5 103.4 152.9 107.6 149.8 109.1 144.0 109.6 138.0 109.1 134.3 107.6 132.9 104.6 132.9 89.6 133.6 76.0ZM271.7 76.0 296.7 76.0 293.8 77.5 292.3 80.5 292.3 85.0 293.2 88.0 295.2 91.1 301.7 97.3 305.6 104.6 309.2 109.9 310.5 113.7 309.5 149.8 308.2 154.3 306.2 156.4 304.7 156.9 301.7 156.0 295.0 148.3 286.7 142.0 281.6 136.2 277.7 129.6 276.2 128.6 270.2 128.3 267.2 127.5 265.7 126.2 264.5 124.2 263.8 118.2 265.3 109.1 267.2 105.1 272.3 98.6 273.5 95.6 273.1 91.1 270.1 82.0 270.1 79.0 271.3 76.0ZM273.9 106.1 270.6 109.1 269.0 112.1 268.2 116.7 269.0 119.7 270.2 120.5 271.7 120.6 277.7 118.8 283.7 117.7 284.4 116.7 284.0 112.1 282.2 107.1 279.2 104.8 277.7 104.7 274.7 105.6ZM285.2 118.2 284.7 119.7 284.4 130.2 285.1 133.2 286.8 136.2 289.7 139.0 294.2 141.0 298.7 141.3 301.7 140.4 304.0 137.8 305.3 133.2 305.3 124.2 304.0 119.7 303.2 118.9 300.2 118.0 291.2 117.7 285.2 118.2ZM387.3 76.0 431.1 76.0 432.3 79.4 439.9 85.0 445.9 92.9 448.9 95.7 462.4 98.1 478.9 105.4 490.9 107.0 493.9 108.4 497.3 112.1 500.0 118.2 500.9 124.2 498.6 137.8 498.5 155.8 493.9 176.9 493.6 182.9 495.4 187.0 500.3 192.0 503.0 196.5 505.9 211.1 509.1 223.6 510.9 237.2 513.2 247.7 512.9 250.7 512.0 253.7 506.9 262.8 503.6 271.8 501.4 274.8 496.9 277.9 492.4 278.9 486.4 278.0 483.4 276.3 482.0 274.8 477.4 265.9 474.4 261.9 471.4 259.5 469.9 259.4 465.4 261.6 460.9 265.2 458.9 268.8 456.4 277.8 453.4 281.6 448.7 283.8 434.8 286.9 431.4 288.4 429.5 289.9 427.8 293.1 427.8 296.5 429.1 300.4 427.0 306.4 426.7 311.0 428.2 315.5 433.0 321.5 434.3 324.5 434.8 329.0 434.0 345.6 432.3 349.1 430.8 350.2 421.8 353.9 419.2 356.1 417.3 359.2 417.1 362.2 417.7 363.7 427.7 371.2 419.9 371.2 415.1 369.7 412.7 368.2 411.1 365.2 410.7 362.2 411.2 357.6 412.8 353.6 415.8 349.3 418.8 346.2 427.8 340.2 429.3 337.0 430.0 333.5 430.3 329.0 429.6 326.0 424.8 318.5 423.2 314.0 422.4 309.4 422.2 304.9 422.8 298.9 423.6 294.4 425.3 289.9 427.8 287.1 430.8 285.3 436.9 283.4 447.4 281.5 451.5 279.3 453.7 276.3 456.2 265.8 457.7 262.8 466.9 251.4 469.9 249.6 471.4 249.5 474.4 250.5 479.3 255.2 484.4 262.8 486.7 270.3 487.9 272.1 490.9 273.4 492.4 273.3 495.2 271.8 498.4 268.2 501.4 263.6 506.5 253.7 507.0 250.7 506.2 241.7 507.6 231.1 506.7 223.6 503.7 213.1 500.9 199.5 498.6 195.0 493.4 189.0 492.0 185.9 491.4 182.9 491.8 176.9 496.7 154.3 496.9 136.2 499.2 124.2 498.4 118.9 495.9 113.7 493.9 111.3 490.9 109.4 478.9 107.6 463.9 102.5 457.9 101.9 448.9 103.5 445.9 103.1 442.9 101.1 436.9 94.1 433.8 92.7 430.8 92.7 424.8 93.9 415.8 93.6 412.8 94.1 409.8 96.5 405.5 104.6 402.3 107.2 399.3 107.0 393.3 104.2 391.8 104.4 390.3 105.5 384.7 115.2 376.8 123.2 374.5 128.7 366.8 158.8 364.0 167.9 361.8 172.6 355.5 179.9 352.9 184.4 351.8 189.0 350.2 204.0 350.8 249.2 349.2 261.3 349.7 265.8 352.2 271.8 352.3 274.8 351.7 276.3 347.9 279.3 329.2 288.4 324.5 292.9 314.3 311.0 313.3 315.5 313.0 324.5 312.3 330.5 310.7 334.3 309.2 335.6 306.2 335.6 300.2 332.3 297.2 332.3 295.7 333.0 294.2 334.7 292.6 339.6 291.2 341.9 288.2 343.1 279.2 343.0 270.2 344.0 267.2 343.3 259.7 338.7 258.2 338.8 256.7 339.9 254.6 344.1 252.4 353.1 251.4 362.2 251.4 371.2 249.3 371.2 250.0 354.6 252.1 338.6 255.1 330.3 259.7 323.1 262.7 321.1 265.7 320.2 277.7 320.3 289.7 317.4 292.0 318.5 295.7 324.5 297.6 326.0 304.7 329.2 307.7 329.5 309.2 328.1 310.1 324.5 308.9 312.5 315.1 300.4 315.8 292.9 316.8 289.9 324.2 281.5 327.2 280.3 333.2 280.1 336.2 279.4 339.6 277.8 342.7 274.8 343.6 270.3 342.6 262.8 341.5 258.2 338.6 252.2 337.9 249.2 339.6 237.2 339.3 220.6 337.1 210.0 337.4 204.0 339.2 197.8 342.5 190.5 350.5 179.9 358.8 170.8 361.5 166.4 364.2 158.8 371.1 128.7 373.0 122.7 375.3 118.8 381.6 112.1 386.7 100.1 392.8 92.6 394.4 89.6 394.7 85.0 393.9 82.0 391.5 79.0 386.5 76.0ZM540.5 76.0 549.9 76.0 548.0 78.6 545.0 81.0 543.5 80.9 542.0 79.7 539.5 76.0ZM743.2 77.0 744.0 76.0 748.9 76.0 744.1 85.0 742.7 92.6 742.9 101.6 744.3 113.7 744.3 125.7 746.4 146.8 747.4 149.8 748.6 151.3 753.7 155.7 759.7 164.3 762.7 166.4 764.2 166.1 766.0 163.4 767.4 152.8 769.9 143.8 769.9 140.8 768.7 130.2 769.3 122.7 771.7 119.0 779.2 115.2 781.1 113.7 783.1 110.6 783.8 107.6 783.6 103.1 779.1 94.1 776.1 82.0 774.0 79.0 768.8 76.0 781.2 76.0 782.2 85.0 787.3 97.1 788.5 104.6 788.2 109.2 786.7 114.8 785.2 117.9 780.7 124.2 779.5 127.2 779.6 130.2 781.7 139.3 781.1 146.8 779.2 149.4 774.7 152.0 772.7 154.3 771.3 158.8 771.5 167.9 769.6 170.9 765.7 173.0 761.2 173.5 758.7 172.4 756.7 170.3 752.2 163.6 749.2 161.8 746.2 161.9 738.7 163.7 729.7 163.4 726.7 164.3 725.2 165.4 723.8 167.9 723.6 170.9 724.7 173.9 726.7 176.1 728.3 176.9 731.2 177.3 738.7 176.3 741.7 176.6 745.3 178.4 747.0 181.4 746.8 182.9 744.8 185.9 737.5 192.0 735.6 195.0 735.2 198.0 736.0 207.0 735.6 210.0 734.2 211.7 728.2 213.3 725.2 215.3 719.0 223.6 707.2 235.4 702.6 236.7 693.6 235.2 690.6 233.4 688.3 228.1 686.1 225.1 679.1 219.1 674.9 214.6 669.2 210.0 666.7 207.0 666.0 204.0 668.6 195.0 668.1 192.0 667.1 190.5 664.8 189.0 657.6 186.3 656.2 184.4 655.4 181.4 655.0 175.4 656.2 157.3 655.9 149.8 653.8 143.8 645.6 135.9 642.8 131.7 642.1 127.2 641.9 116.7 642.6 108.3 643.6 106.1 645.5 104.6 651.6 102.7 654.6 101.1 656.5 98.6 658.5 94.1 660.6 92.4 663.6 92.2 669.6 93.2 672.6 92.8 681.6 85.5 686.1 83.3 692.1 83.3 698.1 85.6 701.0 88.0 705.6 93.4 712.2 98.6 713.9 101.6 715.0 106.1 715.5 116.7 714.2 122.7 711.7 125.7 703.3 130.2 701.6 133.2 700.2 139.3 700.0 145.3 701.5 149.8 704.1 152.1 707.2 152.6 708.7 152.2 711.6 149.8 715.1 143.8 717.7 141.2 722.2 139.9 731.2 140.0 734.2 138.4 735.7 135.8 737.3 130.2 738.1 122.7 738.5 100.1 736.8 85.0 738.1 82.0 742.7 77.5ZM685.3 91.1 681.6 93.9 679.6 97.1 679.0 100.1 680.1 103.1 687.6 108.5 693.6 115.6 696.6 117.9 702.6 119.7 707.2 118.7 709.1 116.7 710.2 113.7 709.9 109.1 708.5 106.1 701.1 99.3 696.6 93.7 693.6 91.1 690.6 90.1 686.1 90.7ZM648.5 109.1 647.1 110.6 646.0 113.7 645.9 118.2 646.6 122.7 648.6 127.9 650.1 129.5 653.1 130.1 654.6 129.3 656.1 127.4 657.3 124.2 658.1 118.2 657.7 112.1 656.1 109.2 654.6 108.3 651.6 108.0 648.6 109.1ZM693.0 176.9 690.6 179.2 687.6 184.3 686.1 185.9 678.6 190.9 677.4 193.5 677.5 196.5 678.3 198.0 680.1 199.3 685.3 201.0 687.9 202.5 692.1 209.4 695.1 211.5 702.6 212.0 708.7 210.5 710.8 208.5 712.3 204.0 712.9 198.0 712.0 193.5 710.2 191.0 704.1 186.1 699.6 178.4 696.6 176.5 693.6 176.6ZM857.3 76.0 861.9 76.0 861.4 83.5 864.0 94.1 867.5 100.1 872.3 103.8 879.8 106.6 888.9 108.4 893.4 108.0 902.4 104.9 908.4 104.9 911.4 105.9 913.8 107.6 915.7 110.6 917.4 115.7 918.9 117.5 920.3 118.2 923.4 118.6 927.9 118.4 932.4 116.8 932.4 141.2 930.9 139.8 930.0 137.8 928.4 128.7 926.7 127.2 923.4 127.3 914.4 130.8 909.9 130.7 908.4 130.0 906.0 127.2 903.2 119.7 902.1 118.2 900.9 117.4 897.9 117.1 891.9 118.4 888.9 118.4 887.4 117.6 882.0 112.1 870.8 106.9 865.3 103.1 861.7 98.6 855.9 86.5 855.1 80.5 856.5 76.0ZM891.9 76.0 905.0 76.0 903.8 79.0 902.4 80.1 899.4 80.8 894.9 79.5 891.1 76.0ZM927.9 76.0 932.4 76.0 932.4 93.5 929.8 91.1 928.7 88.0 927.3 76.0ZM543.5 87.0 545.0 86.7 546.5 88.1 548.0 91.2 548.2 97.1 546.5 99.3 545.0 99.3 543.9 98.6 542.0 95.6 541.7 91.1 542.8 88.0ZM905.4 178.2 909.9 177.0 912.9 177.5 914.4 179.0 915.9 181.9 918.1 189.0 917.9 192.0 916.5 195.0 912.9 197.9 908.4 199.5 905.4 199.3 900.8 192.0 897.9 189.6 891.1 185.9 889.9 184.4 889.5 182.9 890.4 181.2 893.2 179.9 904.6 178.4ZM364.8 202.2 366.3 201.9 369.3 202.4 371.4 204.0 372.3 205.5 372.7 207.0 372.2 210.0 370.8 212.0 369.3 213.0 367.8 213.4 365.6 213.1 363.6 211.6 362.7 210.0 362.1 205.5 362.7 204.0 364.2 202.5ZM229.6 203.9 234.1 203.6 240.1 205.5 254.6 214.6 257.4 217.6 258.3 222.1 257.4 229.6 257.8 240.2 257.4 243.2 255.7 247.7 253.7 250.7 249.1 254.0 244.6 255.1 238.6 255.4 232.6 255.1 228.1 254.2 223.6 251.4 220.5 246.2 218.5 240.2 216.1 229.6 219.0 214.6 219.9 211.6 221.9 208.5 225.1 205.9 229.3 204.0ZM230.1 210.0 226.8 213.1 225.7 216.1 225.5 219.1 226.4 229.6 225.0 238.7 225.8 243.2 228.7 247.7 232.6 250.2 237.1 251.1 243.1 250.6 246.1 249.3 248.1 247.7 250.5 244.7 251.9 241.7 252.4 238.7 252.2 231.1 254.1 223.6 254.1 220.6 252.1 217.5 238.6 210.3 234.1 209.2 231.1 209.6ZM884.3 227.7 888.9 227.1 891.9 227.6 894.9 229.3 896.1 231.1 896.4 235.6 894.2 244.7 895.0 255.2 894.3 262.8 893.4 266.5 891.9 268.6 884.3 272.1 882.0 274.8 881.2 279.3 881.9 288.4 880.7 292.9 878.3 294.9 875.3 295.5 872.3 295.2 867.8 294.0 863.5 291.4 861.2 288.4 858.8 282.7 857.2 280.8 854.3 279.8 843.8 279.4 839.8 277.8 837.5 274.8 837.0 270.3 838.7 265.8 845.3 254.4 846.8 252.6 852.8 248.8 860.6 240.2 870.8 236.2 879.7 229.6 883.1 228.1ZM863.6 246.2 857.3 253.7 849.2 261.3 845.6 265.8 843.1 270.3 843.0 271.8 843.8 273.6 846.8 274.7 849.8 274.2 864.8 270.2 867.4 268.8 868.8 267.3 870.2 264.3 870.8 261.3 870.8 250.7 870.0 247.7 869.0 246.2 866.3 245.1 864.8 245.5ZM193.6 250.4 195.1 249.8 198.1 249.9 201.5 252.2 203.3 255.2 207.1 264.2 211.1 270.3 212.6 274.8 212.4 277.8 208.4 288.4 208.6 298.9 208.0 301.9 202.6 317.2 201.1 318.1 199.6 317.4 198.1 315.8 195.1 309.5 192.7 300.4 192.8 291.4 192.3 288.4 190.6 284.4 186.5 277.8 185.0 273.3 185.2 267.3 186.8 261.3 190.2 253.7 193.0 250.7ZM196.5 256.7 193.6 258.9 190.6 264.0 188.9 268.8 188.6 273.3 190.0 277.8 195.8 288.4 196.3 291.4 196.3 301.9 198.1 306.7 199.6 307.9 201.1 307.3 201.7 306.4 204.1 301.7 204.6 298.9 204.3 288.4 207.7 279.3 208.2 276.3 207.0 271.8 202.2 264.3 199.6 258.9 198.1 257.1 196.6 256.7ZM671.1 306.1 677.1 305.8 678.6 306.4 680.0 307.9 681.2 315.5 680.9 318.5 680.1 319.5 677.1 319.7 671.1 318.4 668.1 317.1 666.6 315.5 665.8 312.5 666.4 309.4 668.1 307.4 669.9 306.4ZM770.2 310.7 774.7 310.2 780.7 311.8 789.3 317.0 793.2 321.5 796.5 329.0 801.1 336.6 802.3 339.6 804.8 359.2 805.4 371.2 803.5 371.2 801.8 356.9 798.8 345.0 795.7 340.3 791.2 337.1 789.8 335.1 789.6 327.5 788.3 323.0 785.9 320.0 782.0 317.0 777.7 314.9 774.7 314.4 771.7 315.3 768.7 318.1 765.1 324.5 762.6 330.5 761.2 339.6 761.7 371.2 758.4 371.2 757.9 341.1 758.6 332.0 760.6 324.5 763.8 317.0 767.0 312.5 769.5 311.0ZM884.3 330.1 887.4 329.2 891.2 330.5 894.3 333.5 894.9 336.6 893.1 339.6 888.9 342.6 882.8 345.2 879.8 345.1 878.4 344.1 877.8 342.6 878.3 338.1 880.7 333.5 883.8 330.5ZM205.6 339.4 207.1 339.7 210.1 341.9 211.6 344.0 212.8 347.1 213.0 351.6 211.6 365.2 211.8 368.2 212.9 371.2 191.9 371.2 189.0 369.7 187.7 368.2 187.2 366.7 187.5 363.7 189.1 361.6 195.8 357.6 198.1 355.5 200.2 351.6 202.8 342.6 204.1 340.2 205.3 339.6ZM385.8 344.0 388.8 343.2 390.3 343.4 391.8 344.2 393.8 347.1 394.2 350.1 393.5 353.1 391.8 355.4 390.3 356.3 388.8 356.5 385.8 355.5 384.3 354.3 382.3 351.6 381.9 348.6 382.4 347.1 385.6 344.1ZM545.0 345.1 548.0 344.7 551.0 346.2 554.0 350.1 556.1 354.6 557.9 360.7 558.3 365.2 557.6 368.2 555.0 371.2 533.9 371.2 533.8 363.7 535.7 356.1 539.0 350.0 541.7 347.1 544.0 345.6ZM544.7 351.6 541.6 356.1 540.5 359.9 540.2 363.7 540.9 366.7 542.0 368.0 545.0 368.7 548.0 368.0 551.0 366.1 552.4 363.7 552.8 360.7 552.0 356.1 549.5 351.6 548.0 350.7 545.0 351.4ZM585.5 362.0 588.5 360.8 590.9 362.2 591.0 363.7 589.9 365.2 587.0 365.6 585.7 365.2 584.8 363.7 585.3 362.2Z"/><path fill="#ddf3fb" stroke="#ddf3fb" stroke-width="0.5" fill-rule="evenodd" d="M121.5 76.0 122.1 76.0 122.7 79.0 121.0 94.1 121.2 100.1 122.1 103.1 123.0 104.4 124.5 105.0 126.0 104.8 127.5 103.8 129.0 101.6 129.9 97.1 129.9 92.6 127.6 80.5 127.8 77.5 128.4 76.0 133.6 76.0 132.9 89.6 132.9 104.6 134.3 107.6 136.5 108.8 139.5 109.4 145.5 109.6 150.0 109.1 152.9 107.6 157.5 103.4 166.6 103.0 171.1 101.1 174.1 98.6 185.0 86.5 186.0 83.5 185.4 82.0 183.3 80.5 174.1 78.8 172.6 77.9 171.8 76.0 181.9 76.0 187.6 77.5 190.0 79.0 191.1 80.5 191.6 85.0 189.4 89.6 183.1 95.2 175.8 103.1 172.6 105.3 163.5 109.4 157.5 113.2 153.0 114.5 142.5 113.4 136.5 113.7 120.0 118.2 120.0 76.0ZM262.7 76.0 271.3 76.0 270.1 79.0 270.1 82.0 273.7 94.1 272.3 98.6 267.2 105.1 265.3 109.1 263.8 118.2 264.5 124.2 265.7 126.2 267.2 127.5 270.2 128.3 276.2 128.6 277.7 129.6 281.6 136.2 285.4 140.8 295.0 148.3 301.4 155.8 304.7 156.9 307.7 155.1 309.3 151.3 310.5 113.7 309.2 109.9 305.6 104.6 301.7 97.3 294.0 89.6 292.7 86.5 292.1 82.0 292.7 79.0 293.8 77.5 295.7 76.4 296.7 76.0 303.4 76.0 298.2 79.0 296.8 82.0 297.0 85.0 298.5 88.0 304.3 95.6 311.8 107.6 313.0 110.6 313.6 115.2 313.1 149.8 312.2 154.3 311.0 157.3 307.7 160.5 303.2 161.5 298.7 159.9 277.7 137.9 273.2 134.9 265.7 132.1 262.2 128.7 261.1 125.7 260.7 122.7 261.3 107.6 259.9 95.6 261.4 86.5 262.2 76.0ZM382.8 76.0 386.5 76.0 391.5 79.0 393.0 80.5 394.7 85.0 394.4 89.6 392.8 92.6 386.7 100.1 381.6 112.1 375.3 118.8 373.0 122.7 371.1 128.7 364.2 158.8 361.5 166.4 358.8 170.8 350.5 179.9 342.5 190.5 339.2 197.8 337.4 204.0 337.1 210.0 339.3 220.6 339.6 237.2 337.9 249.2 338.6 252.2 341.5 258.2 342.6 262.8 343.6 270.3 342.7 274.8 339.6 277.8 336.2 279.4 333.2 280.1 327.2 280.3 324.2 281.5 316.8 289.9 315.8 292.9 315.1 300.4 308.9 312.5 310.1 324.5 309.2 328.1 307.7 329.5 304.7 329.2 297.6 326.0 295.7 324.5 292.0 318.5 289.7 317.4 277.7 320.3 265.7 320.2 262.7 321.1 259.7 323.1 255.1 330.3 252.3 338.1 250.0 354.6 249.3 371.2 247.3 371.2 248.0 351.6 249.2 336.6 253.1 323.0 255.1 318.6 256.4 317.0 258.2 315.7 261.2 314.8 274.7 315.4 279.2 314.6 283.1 312.5 288.2 306.2 291.2 304.6 300.2 306.2 304.7 304.9 306.4 303.4 307.9 300.4 307.2 297.4 303.9 291.4 304.1 289.9 305.0 288.4 312.2 284.9 315.9 282.3 318.2 279.3 321.2 272.6 322.7 270.8 325.7 270.6 333.2 273.2 336.2 272.2 337.6 270.3 338.2 267.3 337.8 264.3 336.5 261.3 332.2 255.2 330.9 249.2 331.3 220.6 332.0 211.6 333.2 203.6 337.4 189.0 339.2 185.2 355.8 169.3 358.8 165.3 360.5 161.8 362.0 157.3 370.8 119.7 373.3 115.2 378.3 109.1 382.4 98.6 387.7 88.0 388.0 85.0 387.2 82.0 385.0 79.0 381.5 76.0ZM432.3 76.0 441.4 76.0 445.9 79.7 451.4 86.5 454.9 89.6 465.4 94.7 477.4 102.5 481.9 103.8 490.9 104.4 493.9 105.3 496.9 107.5 498.9 110.6 501.9 118.2 502.6 124.2 500.4 137.8 500.6 155.8 496.6 175.4 496.4 181.4 497.8 184.4 502.9 189.8 504.9 193.5 513.3 231.1 517.9 240.1 518.5 244.7 518.0 250.7 517.1 255.2 511.1 264.3 510.5 267.3 510.5 274.8 509.7 276.3 507.9 277.8 501.6 280.8 496.9 282.3 492.4 282.6 487.9 281.8 483.4 280.3 480.4 278.4 472.9 269.5 469.9 268.1 466.9 268.0 463.9 269.5 462.4 271.3 459.2 279.3 456.4 283.2 451.9 285.7 441.4 288.7 439.1 289.9 437.8 291.4 437.5 292.9 438.5 298.9 438.2 301.9 436.9 304.9 433.6 309.4 433.0 312.5 436.3 320.0 437.3 324.5 437.4 350.1 435.6 354.6 430.6 359.2 429.0 362.2 429.6 366.7 433.0 371.2 427.7 371.2 418.8 364.8 417.3 362.9 417.0 360.7 418.1 357.6 420.3 355.0 423.3 353.0 431.0 350.1 432.7 348.6 434.0 345.6 434.8 329.0 434.3 324.5 433.0 321.5 428.2 315.5 426.7 311.0 427.0 306.4 429.1 300.4 427.7 294.4 427.9 292.9 429.3 290.1 431.4 288.4 434.8 286.9 448.7 283.8 453.4 281.6 456.4 277.8 458.9 268.8 460.9 265.2 465.4 261.6 469.9 259.4 471.4 259.5 472.9 260.4 475.9 263.7 481.0 273.3 483.4 276.3 486.4 278.0 489.4 278.8 493.9 278.7 497.0 277.8 501.4 274.8 503.6 271.8 506.9 262.8 512.0 253.7 512.9 250.7 513.2 247.7 510.9 237.2 509.1 223.6 505.9 211.1 503.0 196.5 500.3 192.0 495.4 187.0 493.6 182.9 493.9 176.9 498.5 155.8 498.6 137.8 500.9 124.2 500.4 119.7 498.4 114.2 495.4 109.7 492.4 107.5 489.4 106.7 478.9 105.4 462.4 98.1 448.9 95.7 445.9 92.9 439.9 85.0 432.3 79.4 431.1 76.0ZM533.0 77.5 534.7 76.0 539.5 76.0 542.0 79.7 543.5 80.9 545.0 81.0 548.0 78.6 549.9 76.0 551.7 76.0 550.0 80.5 549.6 83.5 550.7 92.6 550.5 97.1 549.5 100.6 548.0 102.3 546.5 103.0 543.5 102.5 540.4 100.1 536.0 95.1 533.0 94.7 527.0 95.8 524.5 94.1 523.3 91.1 522.9 88.0 523.1 83.5 523.9 80.9 526.3 79.0 532.9 77.5ZM542.8 88.0 541.7 91.1 542.0 95.6 543.9 98.6 545.0 99.3 546.5 99.3 548.2 97.1 548.0 91.2 546.5 88.1 545.0 86.7 543.5 87.0ZM677.1 76.0 690.4 76.0 695.1 78.3 710.2 81.9 716.2 80.6 723.3 76.0 744.0 76.0 738.1 82.0 736.8 85.0 738.5 100.1 738.1 122.7 737.3 130.2 735.7 135.8 734.2 138.4 731.2 140.0 722.2 139.9 717.7 141.2 715.1 143.8 711.6 149.8 708.7 152.2 707.2 152.6 704.1 152.1 701.5 149.8 700.0 145.3 700.2 139.3 701.6 133.2 703.3 130.2 711.7 125.7 714.2 122.7 715.5 116.7 715.0 106.1 713.9 101.6 712.2 98.6 705.6 93.4 701.0 88.0 698.1 85.6 692.1 83.3 686.1 83.3 681.6 85.5 672.6 92.8 669.6 93.2 663.6 92.2 660.6 92.4 658.5 94.1 656.5 98.6 654.6 101.1 651.6 102.7 645.5 104.6 643.6 106.1 642.4 109.1 641.9 113.7 642.0 125.7 642.8 131.7 645.6 135.9 653.1 142.8 654.6 145.3 655.6 148.3 656.2 157.3 655.0 175.4 656.1 184.3 657.6 186.3 666.6 190.0 668.1 191.9 668.6 193.5 668.4 196.5 666.0 204.0 666.7 207.0 669.2 210.0 674.9 214.6 679.1 219.1 686.1 225.1 688.3 228.1 690.2 232.6 691.4 234.1 695.4 235.6 702.6 236.7 706.6 235.6 710.2 232.9 719.2 223.4 726.0 214.6 728.2 213.3 734.2 211.7 735.6 210.0 736.0 207.0 735.2 198.0 735.6 195.0 737.5 192.0 744.8 185.9 746.8 182.9 746.5 179.9 745.3 178.4 742.7 176.9 738.7 176.3 729.7 177.2 726.7 176.1 724.7 173.9 723.6 170.9 723.8 167.9 725.2 165.4 726.7 164.3 729.7 163.4 738.7 163.7 746.2 161.9 749.2 161.8 752.2 163.6 757.1 170.9 759.7 173.0 762.7 173.6 765.7 173.0 768.7 171.5 770.9 169.4 771.6 166.4 771.3 158.8 772.0 155.8 773.9 152.8 779.2 149.4 781.1 146.8 781.7 139.3 779.6 130.2 779.5 127.2 780.7 124.2 783.7 120.2 786.6 115.2 788.4 107.6 788.1 100.1 786.7 95.6 782.6 86.5 781.4 80.5 781.2 76.0 788.8 76.0 787.4 79.0 787.1 82.0 787.6 85.0 791.1 95.6 791.9 104.6 791.2 112.1 788.3 125.7 788.7 145.3 790.0 155.8 789.0 160.3 786.7 163.8 779.2 172.1 758.8 181.4 745.2 195.0 744.5 196.5 744.2 199.5 745.9 205.5 745.8 210.0 744.3 217.6 743.2 220.6 741.7 222.7 738.7 224.0 731.2 222.3 728.2 223.1 713.1 240.2 711.7 243.2 711.3 246.2 712.0 255.2 712.3 276.3 711.3 279.3 710.0 280.8 707.2 282.3 704.1 283.0 699.6 283.2 695.1 282.3 692.1 280.8 689.3 277.8 689.2 274.8 691.8 267.3 692.7 262.8 692.6 255.2 691.4 249.2 689.1 246.7 680.1 243.4 677.9 241.7 677.1 238.7 679.8 231.1 679.1 228.1 676.4 225.1 668.1 218.3 656.0 205.5 650.1 200.9 648.0 198.0 643.5 181.4 645.1 173.9 644.5 169.4 642.6 167.2 635.0 163.4 632.5 160.3 632.5 158.8 634.6 155.8 644.0 149.8 644.8 148.3 644.3 145.3 642.2 142.3 638.1 139.4 626.2 137.8 622.1 136.2 620.0 134.7 618.6 131.7 619.0 128.7 621.1 122.7 620.6 113.7 621.3 110.6 623.7 107.6 630.6 102.1 635.5 95.6 642.6 89.9 647.1 82.4 648.6 81.5 651.6 81.0 654.6 81.6 662.1 84.5 666.6 85.0 669.6 84.6 672.6 83.2 675.3 80.5 676.2 79.0 676.8 76.0ZM725.1 94.1 722.8 97.1 721.4 101.6 721.0 115.2 722.2 127.2 723.7 129.5 726.7 130.7 729.7 129.9 731.0 128.7 733.0 124.2 733.4 119.7 733.1 110.6 733.9 101.6 733.1 97.1 731.2 94.1 728.2 92.9 725.2 94.0ZM849.8 76.0 856.5 76.0 855.4 79.0 855.0 82.0 856.4 88.0 862.6 100.1 867.8 105.1 882.0 112.1 887.4 117.6 888.9 118.4 891.9 118.4 897.9 117.1 900.9 117.4 902.1 118.2 903.2 119.7 906.0 127.2 908.4 130.0 909.9 130.7 914.4 130.8 924.9 127.0 926.7 127.2 928.4 128.7 930.0 137.8 930.9 139.8 932.4 141.2 932.4 189.4 929.4 188.3 927.9 189.1 923.6 196.5 916.8 204.0 915.9 207.0 918.2 213.1 918.2 216.1 917.4 217.6 914.4 219.8 911.4 220.9 908.4 221.2 905.4 220.6 903.9 219.3 901.2 214.6 895.5 207.0 895.1 204.0 896.1 198.0 895.7 195.0 893.4 192.1 887.5 187.5 885.9 184.4 885.6 182.9 886.6 179.9 888.9 177.9 891.9 176.9 900.9 175.4 903.8 173.9 905.4 172.4 906.4 170.9 907.0 167.9 906.4 160.3 906.9 157.6 908.4 154.9 914.0 148.3 914.8 145.3 914.1 142.3 912.8 140.8 902.6 134.7 897.9 128.7 896.4 127.6 893.4 126.6 884.3 125.7 881.5 124.2 876.3 115.2 864.8 108.2 860.6 104.6 851.8 91.1 850.5 86.5 848.9 76.0ZM904.6 178.4 893.2 179.9 890.4 181.2 889.5 182.9 889.9 184.4 891.1 185.9 897.9 189.6 900.8 192.0 905.4 199.3 908.4 199.5 912.9 197.9 916.5 195.0 917.9 192.0 918.1 189.0 915.9 181.9 914.4 179.0 912.9 177.5 909.9 177.0 905.4 178.2ZM124.5 150.9 126.0 150.6 127.5 151.5 128.4 157.3 127.5 166.0 126.0 169.0 124.5 169.5 120.0 165.7 120.0 154.6 124.0 151.3ZM154.5 150.9 156.0 150.8 159.0 152.3 160.8 154.3 162.2 157.3 162.1 160.3 160.5 163.1 158.8 164.9 156.0 166.3 154.5 166.3 153.0 165.5 151.5 163.4 150.7 160.3 150.7 157.3 151.5 154.3 153.8 151.3ZM839.3 190.3 842.4 190.5 844.6 192.0 845.7 193.5 846.5 196.5 846.1 205.5 846.9 208.5 849.1 211.6 854.3 215.1 856.8 217.6 858.2 222.1 858.3 229.6 858.9 231.1 860.3 232.3 863.3 232.9 866.3 232.4 878.3 226.5 884.3 224.4 888.9 223.5 893.4 223.4 897.9 224.3 899.4 225.1 900.9 227.3 901.6 232.6 901.4 249.2 901.8 258.2 902.9 262.8 906.3 268.8 907.0 271.8 906.4 274.8 904.5 277.8 894.9 285.4 893.4 288.4 893.0 294.4 894.6 307.9 893.0 320.0 894.6 324.5 900.6 332.0 901.4 336.6 900.5 339.6 897.9 343.4 890.4 350.6 887.4 352.3 882.8 352.7 876.8 351.5 873.8 349.5 872.3 346.4 872.2 341.1 873.7 335.1 875.8 330.5 880.5 323.0 881.3 320.0 880.6 314.0 878.0 307.9 875.5 304.9 872.3 302.2 863.3 296.7 860.5 294.4 853.3 285.4 849.8 283.8 841.2 282.3 837.8 281.1 834.8 278.7 832.8 274.8 832.2 270.3 832.7 267.3 838.0 258.2 839.7 252.2 839.0 247.7 834.6 240.2 834.1 237.2 836.3 228.1 836.6 223.6 835.6 211.6 833.9 201.0 833.9 196.5 834.8 193.8 836.2 192.0 838.9 190.5ZM883.1 228.1 879.7 229.6 870.8 236.2 860.6 240.2 852.8 248.8 846.8 252.6 845.3 254.4 838.7 265.8 837.0 270.3 837.5 274.8 839.8 277.8 843.8 279.4 854.3 279.8 857.2 280.8 858.8 282.7 861.2 288.4 863.5 291.4 867.8 294.0 872.3 295.2 875.3 295.5 878.3 294.9 880.7 292.9 881.9 288.4 881.2 279.3 882.0 274.8 884.3 272.1 891.9 268.6 893.4 266.5 894.3 262.8 895.0 255.2 894.2 244.7 896.4 235.6 896.1 231.1 894.9 229.3 891.9 227.6 888.9 227.1 884.3 227.7ZM883.8 330.5 880.7 333.5 878.3 338.1 877.8 342.6 878.4 344.1 879.8 345.1 882.8 345.2 888.9 342.6 893.1 339.6 894.9 336.6 894.3 333.5 891.2 330.5 887.4 329.2 884.3 330.1ZM226.6 200.9 232.6 199.6 235.6 200.1 240.1 201.7 244.2 204.0 250.6 208.8 258.0 213.1 260.4 216.1 261.4 220.6 260.9 229.6 261.6 240.2 261.3 244.7 260.3 249.2 258.2 255.2 256.7 257.6 255.1 258.7 252.1 259.1 241.6 258.5 226.6 258.7 222.1 258.0 220.4 256.7 218.5 253.7 213.1 240.0 211.0 237.2 205.9 232.6 204.8 231.1 204.6 229.6 205.0 228.1 210.7 222.1 212.6 219.1 214.7 211.6 216.2 208.5 220.6 204.4 226.4 201.0ZM229.3 204.0 225.1 205.9 221.9 208.5 219.9 211.6 219.0 214.6 216.1 229.6 218.5 240.2 220.5 246.2 223.6 251.4 228.1 254.2 232.6 255.1 238.6 255.4 244.6 255.1 249.1 254.0 253.7 250.7 255.7 247.7 257.4 243.2 257.8 240.2 257.4 229.6 258.3 222.1 257.4 217.6 254.6 214.6 240.1 205.5 234.1 203.6 229.6 203.9ZM192.1 244.5 195.1 244.2 198.1 244.7 201.1 246.1 203.1 247.7 206.4 252.2 210.1 259.9 216.3 267.3 218.1 271.8 218.4 274.8 217.7 277.8 212.5 288.4 212.4 300.4 208.7 309.4 208.2 312.5 208.6 315.5 212.8 323.0 213.5 326.0 213.4 335.1 215.7 342.6 216.4 347.1 214.5 360.7 214.4 365.2 214.9 368.2 216.6 371.2 212.9 371.2 211.8 368.2 211.7 362.2 213.0 350.1 212.3 345.6 210.1 341.9 207.1 339.7 205.6 339.4 204.1 340.2 202.8 342.6 200.2 351.6 198.1 355.5 195.8 357.6 189.1 361.6 187.5 363.7 187.2 366.7 187.7 368.2 189.0 369.7 191.9 371.2 184.8 371.2 183.2 368.2 182.9 363.7 184.6 359.2 186.1 357.6 193.6 353.0 195.8 350.1 197.0 345.6 195.7 335.1 195.9 324.5 193.0 312.5 189.8 301.9 189.6 289.9 187.9 285.4 182.9 277.8 181.5 271.8 182.4 262.8 185.7 250.7 187.6 247.1 189.1 245.7 191.3 244.7ZM193.0 250.7 190.2 253.7 186.8 261.3 185.2 267.3 185.0 273.3 186.5 277.8 190.6 284.4 192.3 288.4 192.8 291.4 192.7 300.4 195.1 309.5 198.1 315.8 199.6 317.4 201.1 318.1 202.6 317.2 208.0 301.9 208.6 298.9 208.4 288.4 212.4 277.8 212.6 274.8 211.1 270.3 207.1 264.2 203.3 255.2 201.5 252.2 198.1 249.9 195.1 249.8 193.6 250.4ZM662.1 285.1 669.6 284.6 675.6 286.1 678.1 288.4 681.6 292.9 688.4 297.4 689.6 300.4 686.8 311.0 688.2 321.5 687.5 324.5 684.6 327.1 678.3 330.5 677.1 332.5 674.1 340.8 672.6 342.3 669.6 343.2 665.1 342.8 660.1 341.1 657.6 338.5 656.6 335.1 656.0 326.0 657.4 309.4 655.1 292.9 656.6 288.4 658.2 286.9 661.2 285.4ZM669.9 306.4 668.1 307.4 666.4 309.4 665.8 312.5 666.6 315.5 668.1 317.1 671.1 318.4 677.1 319.7 680.1 319.5 680.9 318.5 681.2 315.5 680.0 307.9 678.6 306.4 677.1 305.8 671.1 306.1ZM536.0 305.7 537.5 305.3 539.0 306.3 539.8 307.9 543.6 321.5 543.5 324.5 542.5 326.0 537.4 329.0 534.5 331.9 530.0 341.5 528.5 342.0 527.0 341.8 523.9 340.2 520.9 336.3 520.2 332.0 520.9 327.5 522.5 323.0 525.0 318.5 535.0 306.4ZM762.7 306.4 771.7 306.2 780.7 307.7 791.2 312.2 795.7 315.8 797.3 318.5 800.3 326.0 805.7 335.1 806.6 338.1 807.3 371.2 805.4 371.2 804.8 359.2 802.3 339.6 801.1 336.6 796.5 329.0 793.2 321.5 789.7 317.4 783.7 313.4 777.7 310.7 773.2 310.2 768.7 311.3 765.7 313.9 763.1 318.5 760.1 326.0 758.6 332.0 758.0 338.1 758.4 371.2 754.5 371.2 754.2 339.6 755.0 327.5 756.6 317.0 758.2 311.0 759.9 307.9 762.4 306.4ZM548.0 339.6 551.0 340.7 554.0 343.4 561.2 354.6 563.4 360.7 564.8 371.2 555.0 371.2 557.0 369.3 558.1 366.7 558.3 363.7 557.6 359.2 555.5 353.1 553.0 348.6 551.0 346.2 548.0 344.7 543.5 345.8 538.9 350.1 536.3 354.6 534.3 360.7 533.5 366.7 533.9 371.2 528.7 371.2 528.2 366.7 528.6 362.2 532.2 347.1 534.5 344.8 543.5 340.4 547.0 339.6ZM584.0 355.8 591.5 354.8 594.8 356.1 596.6 359.2 597.1 362.2 597.1 365.2 595.8 368.2 593.0 369.5 587.0 370.0 582.5 369.7 579.0 368.2 577.3 365.2 577.4 360.7 579.5 357.6 582.7 356.1ZM585.3 362.2 584.8 363.7 585.7 365.2 587.0 365.6 589.9 365.2 591.0 363.7 590.9 362.2 588.5 360.8 585.5 362.0ZM620.1 363.5 621.6 363.0 623.6 363.7 624.5 365.2 623.9 366.7 621.6 367.3 620.1 366.9 619.2 365.2 619.8 363.7Z"/><path fill="#fddcdc" stroke="#fddcdc" stroke-width="0.5" fill-rule="evenodd" d="M193.6 76.0 238.3 76.0 239.4 79.0 240.7 80.5 247.4 85.0 249.6 88.0 252.1 99.5 256.5 107.6 257.5 110.6 257.4 127.2 257.9 130.2 259.5 133.2 262.7 135.7 271.7 139.4 276.2 142.1 279.6 145.3 286.0 152.8 295.5 161.8 298.7 164.0 303.2 164.9 307.7 163.8 310.7 162.0 313.1 158.8 314.6 154.3 316.2 143.8 315.9 118.2 315.3 110.6 313.9 106.1 302.0 86.5 301.1 83.5 301.3 82.0 303.6 79.0 308.6 76.0 317.8 76.0 317.5 77.5 316.7 78.2 309.2 80.6 307.6 82.0 306.7 85.0 307.6 88.0 316.1 104.6 317.3 110.6 318.3 119.7 318.6 145.3 316.4 155.8 313.7 162.3 310.7 165.3 306.2 167.6 301.7 168.4 298.7 167.8 295.7 166.2 288.2 160.3 281.1 155.8 279.2 154.0 275.2 148.3 271.7 145.3 264.9 142.3 259.7 140.8 256.7 140.8 254.1 142.3 249.3 149.8 247.6 151.5 244.6 152.3 243.1 151.7 240.5 148.3 237.3 140.8 236.2 137.8 236.0 134.7 236.8 133.2 238.6 131.6 247.6 128.5 250.6 126.4 252.1 123.7 253.1 119.7 252.7 113.7 248.5 106.1 245.6 95.6 243.0 91.1 240.1 88.4 228.1 79.7 225.1 78.9 220.6 79.0 208.6 82.2 205.5 83.5 204.1 85.1 200.9 92.6 199.0 95.6 196.6 97.7 192.0 100.1 189.1 102.3 183.1 111.9 174.1 118.4 172.2 121.2 170.4 125.7 167.7 139.3 167.3 143.8 168.3 148.3 172.2 155.8 173.0 160.3 169.0 170.9 169.3 173.9 171.1 175.5 174.1 176.0 183.1 173.7 186.1 173.9 187.6 174.7 190.3 178.4 191.2 181.4 190.7 185.9 189.1 188.3 186.1 189.6 178.6 188.8 175.6 189.1 174.1 189.9 172.2 192.0 169.3 199.5 168.1 200.6 165.0 201.0 162.0 199.5 160.5 198.2 155.6 190.5 148.1 181.4 145.5 178.7 142.5 177.1 139.5 178.2 132.2 184.4 120.0 191.4 120.0 186.2 126.7 182.9 130.2 179.9 134.1 173.9 135.3 169.4 134.2 158.8 135.6 146.8 135.0 143.8 134.2 142.3 132.3 140.8 130.5 140.2 126.0 140.6 124.5 141.7 123.0 143.9 120.0 149.7 120.0 128.7 121.5 125.7 123.0 123.7 126.0 121.7 135.0 119.3 141.0 118.6 153.0 119.7 159.0 119.2 162.0 117.8 169.0 112.1 177.2 107.6 180.1 105.3 186.1 98.0 193.3 92.6 195.4 89.6 196.5 85.0 196.2 80.5 194.8 77.5 192.7 76.0ZM152.8 142.3 149.4 145.3 147.4 149.8 146.1 155.8 145.9 163.4 146.9 167.9 149.7 172.4 153.0 175.4 156.0 176.0 159.0 173.7 165.0 165.6 167.1 161.8 167.7 158.8 167.1 155.8 165.7 152.8 159.0 142.4 156.0 141.4 153.0 142.1ZM375.3 76.0 377.7 76.0 381.1 80.5 382.3 83.5 382.2 88.0 374.6 104.6 368.9 115.2 358.8 158.5 356.2 163.4 352.8 167.3 346.8 172.8 337.7 179.7 336.2 182.1 334.9 185.9 329.4 208.5 325.5 220.6 326.2 252.2 325.7 257.0 324.2 259.2 318.2 261.8 315.7 264.3 315.1 267.3 315.1 274.8 314.0 277.8 312.7 279.3 310.5 280.8 303.2 283.2 300.2 285.0 298.6 286.9 294.8 294.4 292.7 295.9 286.7 298.2 283.7 300.1 277.7 308.2 274.7 309.5 270.2 309.5 258.2 305.1 255.1 305.9 251.5 309.4 249.7 312.5 248.7 315.5 246.3 333.5 245.2 371.2 242.8 371.2 241.4 335.1 240.1 331.1 238.6 329.8 237.1 329.5 228.1 330.2 226.1 332.0 225.2 335.1 224.5 347.1 220.6 356.0 219.5 362.2 220.2 366.7 223.4 371.2 219.9 371.2 217.8 368.2 216.9 365.2 216.9 360.7 219.7 347.1 219.8 342.6 218.7 335.1 218.0 323.0 217.0 320.0 213.6 314.0 213.2 311.0 217.6 301.9 217.9 298.9 217.5 291.4 218.0 288.4 226.0 276.3 225.8 267.3 227.8 264.3 230.9 262.8 235.6 261.9 240.1 261.8 244.6 262.4 248.3 264.3 249.7 265.8 252.1 270.0 253.6 271.3 255.1 271.5 259.7 269.1 263.7 264.3 264.7 259.7 265.0 241.7 264.6 219.1 263.6 213.1 261.2 210.1 253.5 207.0 245.3 201.0 240.1 198.2 234.1 196.2 231.1 196.0 228.1 196.5 222.1 199.7 212.0 207.0 209.9 210.0 207.7 216.1 205.6 218.9 202.6 220.9 195.7 223.6 194.3 225.1 193.1 231.1 191.6 234.1 189.5 235.6 183.1 238.5 181.1 240.2 180.1 241.9 179.4 244.7 179.2 255.2 177.9 273.3 179.0 277.8 184.9 286.9 186.1 289.9 186.2 292.9 184.8 300.4 185.7 303.4 189.1 309.9 190.2 314.0 190.7 320.0 190.2 333.5 192.1 342.6 192.2 345.6 191.1 348.6 189.7 350.1 187.6 351.3 182.0 353.1 180.1 354.9 179.0 360.7 179.6 371.2 170.0 371.2 172.7 369.7 174.2 366.7 174.1 362.2 171.6 350.1 172.1 345.6 174.1 342.6 177.1 341.4 181.6 340.9 183.1 339.9 183.7 338.1 183.5 318.5 183.1 317.7 177.1 318.1 174.0 317.0 172.6 315.5 171.2 312.5 170.3 306.4 170.6 303.4 171.8 300.4 179.1 292.9 180.2 289.9 179.4 286.9 175.0 279.3 173.5 274.8 174.1 262.8 173.2 247.7 173.7 240.2 174.5 237.2 176.3 234.1 183.2 228.1 184.1 225.1 184.7 216.1 186.1 212.6 187.6 211.3 189.1 210.9 198.1 212.0 199.6 211.7 207.0 205.5 216.1 200.4 225.1 193.7 229.6 192.0 232.6 192.0 237.1 193.2 247.5 198.0 255.1 202.8 258.2 202.6 259.7 201.0 260.6 198.0 261.6 189.0 261.2 184.4 258.3 179.9 250.5 172.4 249.2 169.4 249.5 167.9 252.1 164.9 256.7 163.1 262.7 162.7 265.7 163.5 267.2 164.6 268.7 167.0 272.0 175.4 274.7 177.8 283.7 181.9 285.2 183.2 286.3 185.9 285.6 190.5 283.7 194.5 282.2 196.5 274.5 202.5 272.6 205.5 270.7 211.6 270.0 219.1 271.3 226.6 269.1 235.6 268.3 244.7 268.5 252.2 269.8 261.3 269.3 265.8 259.7 280.1 244.6 283.5 235.6 283.2 231.1 284.1 228.1 286.0 225.9 288.4 224.7 291.4 224.8 295.9 226.6 301.3 229.6 304.6 235.6 307.1 240.1 307.4 244.6 305.5 250.6 299.4 257.3 294.4 259.4 291.4 261.2 285.7 262.7 283.4 265.7 283.2 270.2 285.1 273.2 288.0 276.2 292.4 279.2 294.1 285.2 293.3 289.7 291.4 291.5 289.9 297.2 281.9 300.2 279.7 307.7 276.6 309.2 274.9 309.6 271.8 308.9 265.8 309.7 261.3 312.2 257.1 318.2 252.6 319.6 250.7 320.4 246.2 320.5 231.1 319.7 227.6 316.9 220.6 316.9 217.6 324.2 212.4 327.2 207.1 330.8 195.0 333.2 181.0 334.7 176.5 336.2 173.8 342.2 167.1 348.3 164.1 352.8 160.8 356.1 155.8 363.2 130.2 366.9 109.1 369.3 103.1 375.3 91.1 376.8 86.5 376.7 82.0 374.2 76.0ZM453.4 76.0 464.6 76.0 466.9 79.2 473.2 85.0 478.7 95.6 481.9 97.8 484.9 98.4 491.9 97.1 494.5 95.6 495.8 94.1 497.2 89.6 497.3 79.0 497.8 76.0 508.5 76.0 514.9 79.0 516.7 80.5 517.9 84.8 518.7 97.1 520.2 100.1 521.7 101.6 525.4 102.9 534.5 100.9 537.5 101.9 542.0 104.7 545.0 105.7 546.5 105.7 548.6 104.6 550.0 103.1 551.5 100.1 552.3 94.1 552.1 80.5 553.1 76.0 554.5 76.0 553.8 82.0 553.8 92.6 553.3 98.6 551.1 104.6 548.0 107.7 546.5 108.2 543.5 108.0 537.5 105.7 534.5 105.4 525.4 108.9 522.4 109.2 519.4 108.5 513.4 105.6 510.4 104.9 507.4 105.9 506.3 107.6 505.8 110.6 507.2 118.2 507.5 122.7 504.6 136.2 504.4 140.8 505.2 155.8 504.6 160.3 502.3 169.4 502.1 173.9 502.9 177.4 507.4 185.3 509.5 190.5 513.4 207.0 516.4 216.1 519.3 220.6 525.4 225.0 527.3 228.1 528.3 234.1 527.9 249.2 531.1 258.2 532.6 267.3 533.7 270.3 541.1 276.3 542.5 279.3 544.0 286.9 550.6 295.9 552.5 297.9 558.6 301.9 561.5 305.4 564.5 312.6 567.3 324.5 568.6 327.5 571.4 330.5 579.2 336.6 584.5 344.1 587.0 345.2 590.0 345.4 599.0 343.9 603.5 341.8 606.5 339.3 608.9 336.6 611.2 332.0 612.4 327.5 612.9 323.0 612.5 300.4 608.4 286.9 607.4 285.4 600.5 280.2 588.5 267.6 586.1 264.3 585.0 261.3 585.3 256.7 587.4 250.7 589.0 243.2 591.4 238.7 594.5 237.1 596.0 237.2 599.0 238.5 611.0 253.9 614.0 256.2 620.1 259.1 621.5 261.3 622.1 265.8 621.1 268.8 614.0 271.6 612.0 273.3 611.1 274.8 610.4 279.3 611.0 281.6 612.5 283.0 617.1 283.6 620.4 282.3 622.4 279.3 624.0 273.3 626.1 271.4 635.1 270.6 645.6 272.1 651.2 271.8 654.6 270.3 655.7 268.8 656.2 265.8 654.7 253.7 656.5 246.2 656.4 243.2 653.5 238.7 643.6 229.6 643.2 226.6 644.9 220.6 644.7 217.6 642.6 214.6 636.7 210.0 634.2 207.0 633.6 205.5 633.5 202.5 635.2 195.0 632.1 186.8 629.8 178.4 626.8 173.9 615.5 166.1 613.0 163.4 612.6 160.3 613.7 157.3 620.4 149.8 621.2 148.3 620.9 146.8 619.5 145.3 607.5 134.7 603.8 128.7 602.0 124.2 601.3 119.7 601.5 113.7 602.5 107.6 605.0 103.8 614.0 97.1 621.8 86.5 630.6 79.3 632.6 76.0 668.5 76.0 666.6 77.6 663.6 78.5 648.6 77.3 645.6 77.5 642.6 78.7 638.1 84.1 630.6 90.9 624.6 97.6 613.2 107.6 610.8 110.6 609.5 115.2 610.6 128.7 611.4 131.7 613.1 134.7 618.6 139.4 623.1 141.5 630.5 143.8 632.9 145.3 633.6 146.8 633.3 148.3 630.8 151.3 622.6 157.3 621.5 158.8 621.4 160.3 623.5 163.4 632.1 169.5 634.8 172.4 636.3 182.9 641.6 193.5 643.3 204.0 645.6 206.9 653.0 213.1 655.8 217.6 656.0 220.6 654.8 226.6 655.4 229.6 657.6 232.7 665.7 238.7 671.1 246.2 674.1 247.7 681.6 249.2 684.6 250.3 686.8 252.2 688.2 255.2 688.4 261.3 687.0 265.8 679.7 276.3 677.1 278.9 672.6 280.0 659.1 280.1 648.6 281.8 636.6 282.1 635.1 282.7 633.6 285.3 633.8 320.0 632.8 330.5 633.1 335.1 634.6 338.1 635.9 339.6 642.6 344.6 647.4 351.6 655.0 357.6 656.3 360.7 656.8 363.7 656.7 368.2 655.9 371.2 633.6 371.2 634.8 369.7 635.7 366.7 635.3 363.7 634.0 360.7 629.1 354.9 626.1 353.3 623.1 352.7 618.6 353.2 615.5 354.7 613.3 357.6 609.5 366.7 608.0 367.8 605.0 368.2 603.5 367.4 602.2 365.2 601.0 356.1 600.1 353.1 597.5 350.8 593.0 350.0 584.0 350.8 581.0 350.4 578.3 348.6 575.0 343.4 572.0 341.0 569.0 341.1 563.0 343.6 560.0 342.6 557.0 339.3 554.2 335.1 553.5 332.0 554.1 326.0 553.6 323.0 552.7 321.5 548.0 316.9 546.3 314.0 545.2 309.4 544.7 301.9 543.5 298.9 540.5 296.7 534.5 295.3 533.1 294.4 532.8 286.9 531.5 283.8 530.0 283.1 525.4 282.7 520.9 282.9 519.5 283.8 519.7 288.4 520.6 291.4 521.7 292.9 523.9 294.3 531.1 295.9 531.8 297.4 531.3 300.4 529.1 304.9 526.5 307.9 520.0 312.5 517.9 318.0 516.3 329.0 516.4 335.1 517.9 340.0 523.0 348.6 523.8 353.1 522.5 365.2 523.4 371.2 517.5 371.2 516.7 365.2 518.0 351.6 513.6 336.6 512.4 315.5 507.9 294.4 505.9 293.3 504.4 293.2 496.9 293.9 493.9 293.4 486.2 288.4 471.4 282.5 469.9 282.5 463.9 288.4 450.4 293.2 448.5 294.4 446.4 297.4 442.0 314.0 441.7 339.6 442.8 347.1 444.2 351.6 445.9 354.5 451.8 362.2 453.5 366.7 453.8 369.7 453.3 371.2 440.3 371.2 441.4 369.6 445.9 367.9 446.9 366.7 447.0 365.2 445.9 362.8 442.8 359.2 441.3 354.6 439.6 339.6 439.6 324.5 438.3 314.0 438.6 311.0 441.5 303.4 442.7 295.9 443.8 292.9 447.4 290.3 456.4 287.4 459.4 285.7 462.1 282.3 465.4 275.2 468.4 273.4 471.4 274.2 477.4 280.2 480.4 282.2 492.4 286.3 499.9 286.3 510.4 283.6 517.9 282.4 519.0 280.8 520.1 274.8 522.4 272.4 527.0 269.9 528.5 267.4 528.7 265.8 528.1 261.3 524.3 255.2 523.1 252.2 523.1 246.2 524.9 235.6 524.3 231.1 522.4 229.1 517.9 227.8 516.4 226.6 514.9 223.8 510.4 207.3 507.3 192.0 504.4 186.2 500.6 181.4 499.4 178.4 499.6 170.9 502.6 157.3 502.3 137.8 504.7 122.7 503.7 116.7 500.8 107.6 498.4 103.5 495.4 102.0 483.4 101.6 480.4 100.9 477.4 99.5 468.4 90.8 458.8 83.5 452.8 76.0ZM680.0 258.2 680.1 258.6 681.0 258.2 680.1 257.9ZM794.2 76.0 801.0 76.0 799.7 85.0 799.2 101.6 799.9 110.6 801.7 115.2 804.8 116.1 815.3 114.6 821.3 114.8 822.8 115.2 824.9 116.7 825.5 118.2 825.5 121.2 824.7 124.2 823.1 127.2 819.8 129.5 815.3 130.1 806.3 129.8 803.3 130.6 802.1 131.7 800.9 134.7 800.5 137.8 801.2 152.8 800.8 157.3 799.2 161.8 792.7 172.2 789.3 181.4 786.7 184.5 783.7 186.0 774.7 185.9 771.6 187.5 769.6 190.5 768.7 193.5 769.2 204.0 768.0 208.5 765.7 210.7 758.2 214.5 755.3 217.6 754.5 220.6 754.6 223.6 756.9 231.1 757.8 237.2 757.7 250.7 758.3 259.7 757.9 264.3 755.7 271.8 755.8 274.8 758.2 279.2 766.9 286.9 771.3 294.4 774.7 297.4 779.2 298.0 782.7 297.4 785.9 295.9 788.8 292.9 790.4 288.4 791.4 279.3 791.2 271.8 789.5 259.7 789.5 255.2 790.1 252.2 791.2 250.1 792.7 248.8 798.8 246.4 800.3 245.3 804.8 238.3 807.8 235.9 812.3 234.0 813.7 232.6 814.4 231.1 814.8 219.1 816.5 208.5 816.9 199.5 816.2 193.5 812.8 184.4 812.2 181.4 813.2 178.4 815.3 176.9 819.8 176.3 839.3 177.7 843.8 179.2 848.3 182.1 854.1 187.5 857.4 192.0 857.9 195.0 856.2 199.5 855.6 202.5 856.6 205.5 863.8 211.6 867.8 217.6 870.8 220.2 875.3 220.5 879.8 219.2 882.9 217.6 885.2 214.6 885.4 213.1 883.6 205.5 885.7 199.5 885.8 196.5 881.5 187.5 880.7 184.4 880.7 181.4 882.4 176.9 885.8 173.3 896.4 168.7 897.4 166.4 896.9 163.4 894.9 160.3 887.4 154.3 884.6 149.8 881.3 142.3 875.3 137.6 867.8 128.8 859.3 122.7 846.8 109.5 840.8 104.2 839.0 100.1 837.5 88.0 836.5 86.5 834.8 85.4 827.2 82.0 824.9 79.0 825.0 77.5 826.0 76.0 836.0 76.0 842.3 78.9 843.9 80.5 845.2 85.0 845.5 95.6 846.6 98.6 870.8 123.7 875.5 130.2 878.3 132.3 887.4 131.4 891.9 132.7 897.9 139.3 903.9 143.8 905.5 146.8 901.6 157.3 902.6 166.4 902.1 169.4 901.2 170.9 897.9 172.9 890.4 174.4 887.4 175.6 884.4 178.4 883.2 181.4 883.2 184.4 884.3 187.5 889.2 193.5 890.8 196.5 890.2 207.0 893.6 216.1 893.1 217.6 891.9 218.4 870.8 225.5 867.8 225.9 865.3 225.1 864.2 223.6 861.1 216.1 858.8 213.5 852.8 208.8 851.3 206.7 850.4 202.5 850.9 195.0 849.5 190.5 846.8 187.4 842.3 185.1 839.3 184.8 834.8 185.5 827.6 189.0 825.5 192.0 824.7 196.5 824.9 226.6 826.6 241.7 828.3 244.7 833.3 248.6 834.9 252.2 834.6 255.2 833.3 257.6 827.9 262.8 827.2 264.3 826.2 271.8 827.0 276.3 829.6 280.8 833.3 284.2 836.3 285.3 846.2 286.9 849.8 288.5 851.4 289.9 857.3 297.9 867.4 306.4 871.0 311.0 872.3 314.1 872.9 318.5 868.3 336.6 867.5 344.1 867.8 349.5 869.2 353.1 870.7 354.6 879.8 357.9 883.3 360.7 884.6 363.7 884.7 366.7 883.6 369.7 882.0 371.2 856.8 371.2 856.5 365.2 859.5 354.6 860.3 350.1 860.1 347.1 858.8 344.7 852.8 341.4 845.3 333.2 842.3 331.1 839.3 330.4 830.3 330.7 822.8 330.0 818.3 331.0 816.8 332.7 815.8 335.1 812.4 351.6 811.4 371.2 809.3 371.2 809.6 351.6 810.6 336.6 809.4 332.0 804.7 324.5 802.7 314.0 801.8 311.9 797.3 307.3 792.7 304.9 774.7 302.7 768.7 300.4 765.5 297.4 758.3 288.4 750.0 280.8 747.0 276.3 746.4 271.8 747.0 261.3 746.8 237.2 747.2 231.1 749.0 219.1 750.4 214.6 752.2 211.6 756.6 207.0 758.3 204.0 758.3 201.0 757.4 196.5 757.8 193.5 759.5 190.5 763.3 185.9 769.0 181.4 774.7 179.5 782.2 180.0 785.2 178.4 789.1 169.4 792.7 163.1 794.4 158.8 794.9 154.3 794.0 145.3 793.6 124.2 795.0 110.6 795.2 101.6 793.8 82.0 794.1 76.0ZM813.8 247.7 813.0 249.2 812.8 252.2 814.3 256.7 815.7 258.2 818.3 259.5 821.3 259.5 822.8 258.8 824.1 256.7 824.6 253.7 824.3 249.6 823.3 247.7 819.8 246.3 815.3 246.8ZM809.6 282.3 806.3 284.5 803.2 289.9 801.9 295.9 802.9 300.4 806.3 304.4 810.8 306.7 815.3 307.1 819.8 306.1 822.8 304.2 825.0 300.4 826.0 294.4 825.3 289.9 822.8 285.7 819.8 283.3 815.3 281.8 810.8 282.0ZM873.7 363.7 872.3 365.2 872.3 366.7 873.8 368.0 875.3 368.1 877.2 366.7 877.3 365.2 875.9 363.7 873.8 363.6ZM930.9 199.4 932.4 198.5 932.4 221.2 929.4 222.0 914.4 229.4 912.6 231.1 912.0 234.1 914.2 241.7 913.2 250.7 914.1 253.7 915.3 255.2 920.4 258.5 924.9 260.0 927.9 260.1 932.4 258.1 932.4 306.2 927.9 304.8 921.9 304.7 918.9 305.6 916.4 307.9 915.1 312.5 915.2 323.0 913.7 333.5 914.4 337.9 915.9 340.0 918.9 341.4 926.4 343.1 928.9 345.6 929.8 350.1 929.8 362.2 930.7 365.2 932.4 367.5 932.4 371.2 904.0 371.2 904.8 368.2 904.9 365.2 902.3 351.6 902.8 348.6 906.0 341.1 906.8 335.1 906.0 329.0 903.4 323.0 902.7 320.0 904.2 306.4 903.7 301.9 901.8 294.4 901.8 291.4 903.9 286.9 906.9 284.3 912.4 280.8 913.7 279.3 915.1 274.8 916.1 268.8 915.6 265.8 908.9 258.2 906.9 253.7 906.3 231.1 907.5 228.1 909.2 226.6 919.6 222.1 925.0 217.6 926.3 214.6 926.4 205.5 928.1 202.5 930.8 199.5ZM920.5 282.3 917.4 283.8 916.7 285.4 916.6 289.9 917.6 292.9 918.9 294.7 921.9 296.7 924.9 297.5 927.9 297.3 929.8 295.9 930.7 292.9 930.7 288.4 929.9 285.4 927.9 283.0 924.9 282.1 921.9 282.1ZM717.7 294.3 720.7 293.8 738.7 294.0 743.2 295.9 744.8 297.4 746.6 300.4 747.4 306.4 746.6 321.5 748.0 339.6 747.6 371.2 735.4 371.2 735.5 339.6 736.0 327.5 735.7 324.4 734.2 321.0 731.2 318.8 728.2 318.2 713.2 318.3 704.1 317.6 702.6 317.6 701.0 318.5 697.7 327.5 695.1 331.8 687.8 336.6 686.1 339.6 686.1 342.6 688.1 356.1 689.1 360.3 691.3 365.2 691.3 366.7 688.9 371.2 679.3 371.2 679.0 363.7 680.5 351.6 680.5 338.1 681.6 335.1 682.8 333.5 689.9 329.0 692.2 326.0 692.9 321.5 691.8 312.5 692.7 309.4 695.1 306.5 696.6 305.8 699.6 305.7 705.6 307.2 709.5 306.4 711.6 303.4 713.7 297.4 714.8 295.9 717.4 294.4Z"/><path fill="#fcb6a0" stroke="#fcb6a0" stroke-width="0.5" fill-rule="evenodd" d="M318.2 76.0 326.0 76.0 326.5 85.0 326.1 89.6 324.9 92.6 320.6 97.1 319.3 100.1 319.5 112.1 321.7 125.7 321.6 143.8 320.5 149.8 316.0 163.4 313.7 166.5 309.2 169.9 303.2 173.0 300.2 173.6 297.2 173.1 295.7 172.2 288.2 165.1 283.7 162.9 280.7 162.3 277.7 162.7 276.2 163.6 274.7 166.4 275.1 170.9 277.7 174.2 280.7 175.6 289.7 177.8 293.1 179.9 294.9 184.4 296.4 198.0 296.2 202.5 295.1 205.5 292.7 208.9 285.6 216.1 283.3 226.6 281.4 229.6 273.8 237.2 272.4 240.2 271.8 243.2 272.0 252.2 274.7 262.8 275.0 265.8 274.4 268.8 271.6 274.8 271.4 276.3 273.2 279.3 279.2 284.8 282.2 286.6 283.7 286.9 286.7 286.3 288.2 285.1 293.9 277.8 301.1 271.8 302.6 268.8 305.8 258.2 313.7 244.7 315.1 238.7 315.2 232.6 314.5 229.6 309.1 217.6 308.5 214.6 308.8 211.6 309.6 210.0 312.2 209.0 318.2 209.8 321.2 209.4 324.2 207.0 325.9 204.0 328.0 198.0 329.6 190.5 331.8 169.4 332.2 157.3 333.2 153.1 334.7 151.1 337.7 150.2 340.7 150.9 345.2 153.3 348.3 154.0 351.2 152.8 352.8 150.8 358.8 136.0 361.0 128.7 362.1 122.7 363.0 109.1 363.9 104.6 371.1 86.5 371.6 82.0 370.5 76.0 374.2 76.0 376.2 80.5 377.0 85.0 376.0 89.6 369.3 103.1 366.9 109.1 363.2 130.2 355.8 156.7 354.3 159.1 351.3 162.1 340.7 168.3 336.2 173.8 334.7 176.5 333.2 181.0 330.8 195.0 327.2 207.1 324.2 212.4 316.9 217.6 316.9 220.6 319.7 227.6 320.5 231.1 320.3 247.7 319.7 250.3 318.6 252.2 312.2 257.1 309.7 261.3 308.9 265.8 309.6 271.8 309.3 274.8 307.7 276.6 300.2 279.7 297.2 281.9 291.5 289.9 289.7 291.4 286.7 292.8 282.2 293.9 277.7 293.6 276.2 292.4 272.2 286.9 268.7 284.2 265.7 283.2 262.7 283.4 261.2 285.7 259.4 291.4 257.3 294.4 250.6 299.4 244.6 305.5 241.6 307.1 237.1 307.3 232.6 306.1 228.2 303.4 226.2 300.4 224.8 295.9 224.7 291.4 225.9 288.4 228.1 286.0 231.1 284.1 234.1 283.3 244.6 283.5 259.7 280.1 268.5 267.3 269.8 262.8 268.4 250.7 268.4 241.7 269.1 235.6 271.3 226.6 270.0 219.1 270.7 211.6 273.4 204.0 276.2 200.8 282.2 196.5 284.2 193.5 286.0 189.0 286.3 185.9 285.0 182.9 283.0 181.4 276.2 178.6 273.2 176.7 271.1 173.9 268.7 167.0 267.2 164.6 264.2 163.0 261.2 162.6 256.7 163.1 253.6 164.1 250.4 166.4 249.5 167.9 249.6 170.9 251.8 173.9 259.6 181.4 261.5 185.9 260.6 198.0 259.7 201.0 258.4 202.5 255.1 202.8 246.1 197.3 235.6 192.7 231.1 191.9 226.6 192.8 216.1 200.4 207.0 205.5 199.6 211.7 196.6 211.9 190.6 210.8 187.2 211.6 185.8 213.1 184.7 216.1 184.1 225.1 183.2 228.1 176.3 234.1 174.5 237.2 173.2 244.7 174.1 261.3 173.5 274.8 175.0 279.3 179.4 286.9 180.2 289.9 179.1 292.9 171.8 300.4 170.6 303.4 170.4 307.9 171.8 314.0 174.1 317.1 177.1 318.1 183.1 317.7 183.5 318.5 183.8 336.6 183.1 339.9 181.6 340.9 175.6 341.8 174.1 342.6 172.1 345.6 171.5 348.6 171.7 351.6 174.2 363.7 173.7 368.2 172.6 369.8 170.0 371.2 162.5 371.2 166.6 365.2 167.7 360.7 166.9 345.6 168.4 330.5 166.4 307.9 166.5 301.9 168.1 297.7 172.2 291.4 173.1 288.4 172.5 285.4 167.9 276.3 167.3 273.3 168.2 262.8 167.8 250.7 168.5 235.6 169.1 232.6 170.5 229.6 176.9 225.1 178.6 223.0 179.6 219.1 179.5 216.1 178.3 213.1 175.6 211.1 166.6 211.1 162.0 209.1 156.5 204.0 150.0 194.8 145.5 190.3 142.5 188.2 141.0 187.7 138.0 188.0 130.5 190.7 125.2 193.5 120.0 197.7 120.0 191.4 132.2 184.4 139.5 178.2 142.5 177.1 145.5 178.7 148.1 181.4 155.6 190.5 160.5 198.2 162.0 199.5 165.0 201.0 168.1 200.6 169.3 199.5 172.2 192.0 174.1 189.9 175.6 189.1 178.6 188.8 186.1 189.6 189.1 188.3 190.7 185.9 191.2 181.4 190.3 178.4 187.6 174.7 186.1 173.9 183.1 173.7 174.1 176.0 171.1 175.5 169.3 173.9 169.0 170.9 173.0 160.3 172.2 155.8 168.3 148.3 167.3 143.8 167.7 139.3 170.4 125.7 172.2 121.2 174.1 118.4 183.1 111.9 189.1 102.3 192.0 100.1 196.6 97.7 199.0 95.6 200.9 92.6 204.1 85.1 205.5 83.5 208.6 82.2 220.6 79.0 225.1 78.9 228.1 79.7 240.1 88.4 243.0 91.1 245.6 95.6 248.5 106.1 252.7 113.7 253.1 119.7 252.1 123.7 250.6 126.4 247.6 128.5 238.6 131.6 236.8 133.2 236.0 134.7 236.2 137.8 237.1 140.4 240.1 147.6 242.7 151.3 244.6 152.3 247.6 151.5 249.3 149.8 253.6 142.7 255.1 141.4 258.2 140.7 261.2 141.1 268.7 143.7 273.2 146.3 281.1 155.8 288.2 160.3 297.2 167.2 300.2 168.3 303.2 168.3 309.2 166.2 312.2 164.1 314.0 161.8 316.0 157.3 317.6 151.3 318.7 143.8 318.6 125.7 317.5 112.1 316.1 104.6 307.6 88.0 306.7 85.0 306.8 83.5 307.6 82.0 309.4 80.5 316.7 78.2 317.5 77.5 317.8 76.0ZM232.5 92.6 231.1 93.1 229.6 94.6 225.6 104.6 223.6 106.2 222.1 106.4 219.1 104.9 217.6 103.1 213.1 95.1 211.6 94.0 210.1 93.9 208.6 94.4 202.5 100.1 193.6 106.3 191.6 109.1 188.3 116.7 186.1 120.3 177.1 128.1 175.5 130.2 173.6 134.7 172.3 142.3 173.1 146.8 177.1 153.0 189.1 166.8 194.1 175.4 196.5 182.9 195.1 197.2 196.3 199.5 199.3 201.0 205.6 201.3 210.1 200.3 213.1 199.0 218.4 195.0 223.6 187.8 226.6 186.2 232.6 186.7 243.1 190.9 246.1 191.5 249.1 191.2 250.3 190.5 251.9 187.5 251.7 184.4 250.0 181.4 241.4 173.9 238.1 169.4 237.0 164.9 236.5 154.3 235.5 148.3 230.7 136.2 230.7 133.2 231.6 130.2 233.8 127.2 237.1 124.2 238.9 121.2 239.3 118.2 238.9 112.1 241.2 101.6 240.7 98.6 238.6 95.2 235.6 93.1 232.6 92.5ZM465.4 76.0 474.0 76.0 477.4 77.5 481.9 78.2 484.9 77.7 488.1 76.0 497.8 76.0 497.3 79.0 497.2 89.6 495.8 94.1 492.4 96.8 487.9 98.2 483.4 98.2 480.4 97.1 477.6 94.1 473.2 85.0 466.9 79.2 464.6 76.0ZM555.5 76.0 555.9 76.0 555.3 91.1 554.6 98.6 552.5 105.2 549.5 109.3 548.0 110.4 545.0 111.1 537.5 109.4 534.5 109.7 525.4 114.5 516.3 116.7 514.0 118.2 513.0 119.7 508.9 130.4 507.4 136.2 507.2 140.8 508.2 157.3 505.9 167.9 505.7 172.4 510.4 184.8 517.9 208.0 521.2 214.6 527.0 221.6 529.3 226.6 531.9 243.2 534.7 252.2 534.9 261.3 536.0 266.1 537.5 268.2 542.7 271.8 545.4 274.8 550.9 288.4 553.5 292.9 561.5 299.5 563.5 301.9 570.1 314.0 575.3 326.0 578.0 329.0 588.5 337.6 590.0 338.6 593.0 339.4 597.5 338.3 600.5 336.3 604.5 332.0 606.9 327.5 608.0 321.5 607.4 312.5 607.6 301.9 606.3 295.9 603.0 289.9 593.0 278.9 583.9 270.3 580.2 265.8 578.5 262.8 578.0 259.7 578.9 255.2 587.0 236.2 590.0 233.3 593.0 232.1 597.5 231.7 601.7 232.6 603.8 234.1 611.0 243.3 615.5 247.3 618.6 247.8 626.1 245.5 629.1 246.3 631.5 249.2 635.1 258.0 638.1 259.4 641.1 259.5 644.3 258.2 645.6 256.3 646.8 250.7 647.1 246.2 646.6 243.2 644.5 240.2 639.6 236.4 637.7 234.1 636.5 231.1 635.4 222.1 634.2 219.1 623.2 208.5 620.0 204.0 619.6 201.0 620.0 198.0 622.7 187.5 622.4 182.9 620.8 179.9 617.0 175.4 608.0 169.1 606.5 166.9 606.1 164.9 606.9 160.3 613.1 149.8 613.5 146.8 611.7 143.8 603.7 136.2 600.2 131.7 597.1 125.7 596.1 121.2 596.4 112.1 595.8 104.6 596.4 101.6 597.3 100.1 599.6 98.6 606.5 95.9 609.5 93.6 612.6 89.6 617.1 80.6 620.1 77.5 622.4 76.0 632.6 76.0 630.6 79.3 621.8 86.5 614.0 97.1 603.5 105.4 601.8 110.6 601.4 121.2 603.1 127.2 606.4 133.2 610.4 137.8 620.9 146.8 621.2 148.3 620.4 149.8 613.7 157.3 612.6 160.3 612.6 161.8 614.1 164.9 626.8 173.9 629.8 178.4 632.1 186.8 635.2 195.0 633.5 202.5 633.6 205.5 634.2 207.0 636.7 210.0 642.6 214.6 644.7 217.6 644.9 220.6 643.2 226.6 643.6 229.6 653.5 238.7 656.4 243.2 656.5 246.2 654.7 253.7 656.1 267.3 654.6 270.3 650.1 272.0 645.6 272.1 635.1 270.6 626.1 271.4 624.0 273.3 622.4 279.3 620.4 282.3 617.1 283.6 612.5 283.0 611.0 281.6 610.4 279.3 611.1 274.8 612.0 273.3 614.0 271.6 621.1 268.8 622.1 265.8 621.5 261.3 620.1 259.1 614.0 256.2 611.0 253.9 599.0 238.5 596.0 237.2 594.5 237.1 591.4 238.7 589.5 241.7 587.4 250.7 585.3 256.7 584.9 259.7 585.4 262.8 588.3 267.3 599.6 279.3 608.0 286.2 611.9 297.4 612.7 303.4 612.4 312.5 612.8 324.5 612.1 329.0 610.5 333.5 608.0 337.7 604.5 341.1 600.5 343.4 594.5 345.0 588.5 345.4 584.5 344.1 579.2 336.6 569.8 329.0 567.8 326.0 564.5 312.6 561.5 305.4 558.6 301.9 552.5 297.9 550.6 295.9 544.0 286.9 542.5 279.3 541.1 276.3 533.7 270.3 532.6 267.3 531.1 258.2 527.9 249.2 528.3 234.1 527.3 228.1 525.4 225.0 519.4 220.8 517.1 217.6 513.4 207.0 509.0 189.0 507.0 184.4 503.4 178.4 502.3 175.4 502.3 169.4 504.6 160.3 505.2 155.8 504.4 140.8 504.6 136.2 507.5 122.7 507.2 118.2 505.8 110.6 506.3 107.6 507.4 105.9 510.4 104.9 513.4 105.6 519.4 108.5 522.4 109.2 525.4 108.9 534.5 105.4 537.5 105.7 543.5 108.0 546.5 108.2 548.0 107.7 551.1 104.6 553.3 98.6 553.8 92.6 553.8 82.0 554.5 76.0ZM801.8 76.0 826.0 76.0 825.0 77.5 824.9 79.0 825.8 80.7 828.8 83.0 834.8 85.4 836.5 86.5 837.5 88.0 839.0 100.1 840.8 104.2 846.8 109.5 859.3 122.7 867.8 128.8 875.3 137.6 881.3 142.3 885.8 152.2 888.9 155.8 894.9 160.3 896.9 163.4 897.4 166.4 897.0 167.9 895.5 169.4 888.9 171.7 885.8 173.3 883.6 175.4 881.6 178.4 880.7 181.4 881.0 185.9 885.8 196.5 885.7 199.5 883.6 205.5 885.4 213.1 885.2 214.6 882.9 217.6 879.8 219.2 875.3 220.5 872.3 220.6 869.3 219.3 863.8 211.6 856.6 205.5 855.6 202.5 856.2 199.5 857.9 195.0 857.4 192.0 852.7 185.9 846.8 181.0 842.3 178.6 837.8 177.5 818.3 176.4 815.3 176.9 813.2 178.4 812.4 179.9 812.4 182.9 816.2 193.5 816.9 199.5 816.5 208.5 814.8 219.1 814.4 231.1 813.7 232.6 812.3 234.0 807.8 235.9 804.8 238.3 800.3 245.3 798.8 246.4 792.7 248.8 790.8 250.7 789.7 253.5 789.4 256.7 791.4 276.3 791.1 283.8 790.1 289.9 788.8 292.9 785.9 295.9 782.2 297.6 777.7 298.0 774.7 297.4 772.6 295.9 766.9 286.9 758.3 279.3 755.8 274.8 755.7 271.8 757.9 264.3 758.3 261.3 757.7 250.7 757.9 238.7 757.3 232.6 755.0 225.1 754.5 220.6 755.3 217.6 756.7 215.7 759.7 213.6 765.7 210.7 768.0 208.5 769.2 204.0 768.7 193.5 769.6 190.5 771.6 187.5 774.7 185.9 783.7 186.0 786.7 184.5 789.3 181.4 792.7 172.2 799.2 161.8 800.8 157.3 801.2 152.8 800.5 137.8 800.9 134.7 802.1 131.7 803.3 130.6 806.3 129.8 815.3 130.1 819.8 129.5 822.8 127.6 824.7 124.2 825.5 121.2 825.5 118.2 824.9 116.7 822.8 115.2 816.8 114.5 804.8 116.1 801.8 115.2 800.8 113.7 799.5 107.6 799.2 98.6 799.8 83.5 801.0 76.0ZM808.5 80.5 806.7 82.0 805.3 85.0 804.3 92.6 805.2 101.6 807.6 106.1 809.8 107.6 812.3 108.4 818.3 108.9 825.8 108.1 830.9 106.1 833.0 103.1 833.6 100.1 833.0 95.6 831.6 92.6 828.3 89.6 813.8 80.6 810.8 79.9 809.3 80.1ZM860.1 131.7 858.8 132.5 857.6 134.7 856.7 145.3 855.8 149.0 854.3 151.8 849.4 157.3 848.0 160.3 847.5 163.4 847.8 167.9 849.6 172.4 853.0 176.9 865.2 187.5 870.8 197.8 873.8 199.5 876.8 199.3 879.0 198.0 880.4 195.0 878.0 185.9 877.7 182.9 878.2 179.9 880.2 175.4 886.4 167.9 887.1 164.9 886.0 161.8 877.3 145.3 866.3 133.1 863.3 131.6 860.3 131.6ZM798.7 175.4 797.3 176.4 789.7 187.2 781.1 193.5 779.2 196.5 778.8 199.5 778.9 216.1 780.6 220.6 783.7 223.3 786.7 223.6 789.7 221.8 791.5 219.1 793.8 213.1 795.7 211.0 798.8 210.5 804.8 211.8 807.8 211.5 809.7 210.0 811.3 207.0 812.2 201.0 810.8 193.5 802.1 176.9 800.3 175.4 798.8 175.4ZM771.0 235.6 768.7 237.4 767.2 241.7 767.6 265.8 768.7 268.6 770.2 270.0 773.2 270.8 776.2 270.6 779.8 268.8 780.9 267.3 781.8 264.3 782.1 258.2 781.3 244.7 780.0 240.2 777.8 237.2 774.7 235.4 771.7 235.4ZM929.4 222.0 932.4 221.2 932.4 226.4 927.9 229.6 926.7 231.1 925.9 234.1 929.4 244.5 930.5 246.2 932.4 247.7 932.4 258.1 929.4 259.7 926.4 260.2 923.4 259.7 918.9 257.8 915.9 255.7 914.1 253.7 913.2 250.7 914.2 241.7 912.2 235.6 912.1 232.6 912.6 231.1 914.4 229.4 929.3 222.1ZM124.5 251.6 126.0 251.5 126.4 252.2 127.5 254.9 128.0 258.2 128.4 267.3 128.1 285.4 127.4 289.9 123.9 297.4 123.2 300.4 123.1 312.5 122.1 315.5 120.0 318.1 120.0 259.0 124.1 252.2ZM680.1 257.9 681.0 258.2 680.1 258.6 680.0 258.2ZM810.8 282.0 815.3 281.8 819.8 283.3 822.8 285.7 825.3 289.9 826.0 294.4 825.0 300.4 822.8 304.2 819.8 306.1 815.3 307.1 810.8 306.7 806.3 304.4 802.9 300.4 801.9 295.9 803.2 289.9 806.3 284.5 809.6 282.3ZM469.9 282.5 471.4 282.5 486.2 288.4 493.9 293.4 496.9 293.9 504.4 293.2 505.9 293.3 507.9 294.4 512.4 315.5 513.6 336.6 518.0 351.6 516.7 365.2 517.5 371.2 512.7 371.2 512.3 365.2 513.2 353.1 512.9 348.6 508.9 321.4 507.4 314.8 505.5 309.4 503.5 306.4 501.4 305.0 492.4 304.2 487.9 302.3 484.5 298.9 481.3 292.9 478.9 291.4 475.9 290.9 468.4 292.1 453.4 296.2 450.0 298.9 447.6 304.9 444.9 315.5 443.8 323.0 443.5 335.1 444.6 344.1 445.9 348.1 447.4 350.9 454.8 359.2 459.4 366.6 462.9 371.2 453.3 371.2 453.8 368.2 452.6 363.7 450.9 360.7 445.0 353.1 442.8 347.1 441.4 335.1 442.0 314.0 445.9 298.9 447.4 295.6 451.1 292.9 460.7 289.9 463.9 288.4 465.9 286.9 468.4 283.8ZM921.9 304.7 927.9 304.8 932.4 306.2 932.4 367.5 930.7 365.2 929.8 362.2 929.8 350.1 928.9 345.6 926.4 343.1 918.9 341.4 915.9 340.0 914.0 336.6 913.8 332.0 915.2 323.0 915.3 311.0 917.4 306.6 920.6 304.9ZM701.1 318.3 704.1 317.6 713.2 318.3 728.2 318.2 732.7 319.6 734.5 321.5 735.7 324.5 736.0 327.5 735.5 339.6 735.4 371.2 688.9 371.2 691.3 366.7 691.3 365.2 688.4 357.6 686.1 342.6 686.1 339.6 687.8 336.6 693.6 333.1 696.1 330.5 697.7 327.5 701.0 318.5ZM704.5 330.5 694.2 341.1 692.4 344.1 692.1 347.1 693.0 351.6 695.1 354.6 696.6 355.5 701.1 355.9 705.6 354.4 709.3 351.6 711.9 347.1 713.0 339.6 712.8 335.1 712.1 332.0 711.0 330.5 708.7 329.3 705.6 329.8ZM228.1 330.2 237.1 329.5 239.6 330.5 240.6 332.0 241.7 338.1 242.8 371.2 239.1 371.2 237.1 368.6 229.6 365.9 226.6 362.4 225.1 362.3 224.9 363.7 227.1 368.2 228.0 371.2 223.4 371.2 220.2 366.7 219.5 363.7 219.8 359.2 220.6 356.0 224.5 347.1 225.2 335.1 226.1 332.0 227.5 330.5ZM819.8 330.4 822.8 330.0 831.8 330.7 837.8 330.3 842.3 331.1 845.3 333.2 852.8 341.4 858.8 344.7 860.1 347.1 860.3 350.1 859.5 354.6 856.5 365.2 856.8 371.2 850.8 371.2 849.4 368.2 847.8 362.2 849.5 353.1 849.3 350.1 847.2 345.6 843.8 341.8 842.3 340.6 839.3 339.8 831.8 341.6 822.8 339.6 819.8 341.4 816.8 347.4 814.5 357.6 813.9 371.2 811.4 371.2 812.1 354.6 813.3 345.6 816.4 333.5 817.2 332.0 819.3 330.5ZM873.8 363.6 875.9 363.7 877.3 365.2 877.2 366.7 875.3 368.1 873.8 368.0 872.3 366.7 872.3 365.2 873.7 363.7ZM121.1 368.2 122.4 371.2 120.0 371.2 120.0 367.4Z"/><path fill="#fc9070" stroke="#fc9070" stroke-width="0.5" fill-rule="evenodd" d="M327.2 76.0 331.0 76.0 330.7 80.5 331.2 94.1 329.9 97.1 324.2 102.2 322.7 104.4 321.7 110.6 322.7 116.8 326.1 125.7 325.3 134.7 325.7 139.2 327.2 143.3 328.7 144.2 334.6 142.3 337.7 139.7 338.7 137.8 340.2 130.2 342.2 127.7 343.7 127.3 346.8 128.1 352.8 132.3 354.3 132.4 355.8 131.5 357.5 128.7 359.1 122.7 359.4 103.1 365.0 91.1 366.6 85.0 366.6 79.0 365.1 76.0 370.5 76.0 371.6 82.0 371.1 86.5 363.9 104.6 363.0 109.1 362.1 122.7 361.0 128.7 358.8 136.0 352.8 150.8 351.2 152.8 348.3 154.0 345.2 153.3 340.7 150.9 337.7 150.2 334.7 151.1 333.4 152.8 332.2 157.3 331.8 169.4 329.6 190.5 328.0 198.0 325.9 204.0 324.2 207.0 321.2 209.4 318.2 209.8 312.2 209.0 309.6 210.0 308.8 211.6 308.5 214.6 309.1 217.6 314.5 229.6 315.2 232.6 315.1 238.7 313.7 244.7 305.8 258.2 302.6 268.8 301.1 271.8 293.9 277.8 287.9 285.4 285.2 286.8 283.2 286.9 280.7 285.9 277.7 283.5 273.2 279.3 271.4 276.3 271.6 274.8 274.4 268.8 275.0 265.8 274.7 262.8 272.0 252.2 271.8 243.2 272.4 240.2 273.8 237.2 281.4 229.6 283.3 226.6 285.6 216.1 292.7 208.9 295.1 205.5 296.2 202.5 296.4 198.0 294.9 184.4 293.1 179.9 289.7 177.8 280.7 175.6 277.7 174.2 275.1 170.9 274.7 166.4 276.2 163.6 277.7 162.7 280.7 162.3 283.7 162.9 288.2 165.1 295.7 172.2 297.2 173.1 300.2 173.6 303.2 173.0 309.2 169.9 313.7 166.5 316.0 163.4 320.5 149.8 321.6 143.8 321.7 125.7 319.5 112.1 319.3 100.1 320.6 97.1 324.2 93.7 325.7 90.8 326.5 85.0 326.0 76.0ZM324.2 151.3 321.2 156.6 318.3 166.4 311.3 175.4 309.1 179.9 305.0 185.9 303.7 190.5 304.1 196.5 306.2 200.5 309.4 202.5 318.2 205.4 321.2 204.9 324.2 201.8 326.3 196.5 327.8 189.0 328.0 181.4 326.9 169.4 328.1 160.3 328.0 155.8 326.8 151.3 325.7 150.4 324.2 151.2ZM298.2 213.1 295.7 214.6 292.8 217.6 287.7 228.1 277.7 238.5 275.4 243.2 275.0 249.2 276.6 255.2 283.7 268.9 286.7 270.8 291.2 270.1 294.2 268.2 296.4 265.8 306.9 246.2 309.8 238.7 310.1 232.6 308.4 226.6 303.2 215.5 301.7 213.5 300.2 212.7 298.7 212.8ZM474.4 76.0 488.1 76.0 484.9 77.7 481.9 78.2 477.4 77.5 474.0 76.0ZM557.0 76.0 557.2 85.0 555.9 98.6 554.0 105.5 551.0 110.9 549.5 112.7 546.5 114.6 543.5 114.8 537.5 113.7 533.3 115.2 518.9 124.2 515.8 127.2 513.0 131.7 511.8 134.7 511.3 139.3 512.2 152.8 511.8 173.9 513.2 182.9 516.4 193.2 523.6 207.0 530.0 221.6 534.0 238.7 539.2 247.7 540.0 252.2 539.0 259.7 539.3 262.8 540.5 264.7 546.5 268.0 548.7 270.3 550.7 274.8 553.3 285.4 555.2 289.9 557.7 292.9 563.3 297.4 565.9 300.4 573.8 312.5 578.0 321.9 581.0 325.9 585.5 328.5 591.5 330.4 594.5 330.4 597.5 328.7 600.5 325.3 602.2 321.5 603.2 306.4 602.4 298.9 598.4 291.4 591.5 282.7 584.0 275.7 576.1 267.3 573.1 262.8 572.6 259.7 573.5 255.2 580.0 241.7 583.5 232.6 585.5 230.3 588.5 228.6 596.0 226.3 602.0 223.8 605.0 223.2 608.0 224.9 614.0 233.6 618.6 236.9 623.1 237.8 627.6 237.2 629.8 235.6 631.0 232.6 630.8 228.1 629.1 223.6 626.3 220.6 616.1 211.6 614.0 208.0 612.8 199.5 613.8 185.9 613.5 182.9 612.4 179.9 610.0 176.9 603.5 172.4 602.0 170.7 600.9 167.9 601.5 161.8 603.5 157.3 608.0 149.8 608.2 146.8 606.3 143.8 599.6 137.8 595.8 133.2 593.0 128.7 591.6 124.2 591.5 112.1 590.7 103.1 591.5 99.2 594.5 95.4 603.5 91.9 606.9 89.6 609.0 86.5 610.2 83.5 611.0 79.0 610.6 76.0 622.4 76.0 618.6 78.8 617.1 80.5 612.6 89.6 609.5 93.6 606.5 95.9 599.0 98.9 597.3 100.1 596.4 101.6 595.8 104.6 596.4 112.1 596.1 121.2 596.6 124.2 598.4 128.7 601.2 133.2 611.7 143.8 613.5 146.8 613.1 149.8 606.9 160.3 606.1 164.9 606.5 166.9 608.0 169.1 617.0 175.4 620.8 179.9 622.4 182.9 622.7 187.5 619.7 199.5 620.1 204.1 623.2 208.5 634.2 219.1 635.4 222.1 636.5 231.1 637.7 234.1 639.6 236.4 645.6 241.4 647.0 244.7 646.8 250.7 645.4 256.7 644.1 258.4 642.6 259.2 638.1 259.4 635.1 258.0 631.5 249.2 629.1 246.3 626.1 245.5 618.6 247.8 615.5 247.3 611.0 243.3 603.8 234.1 601.7 232.6 597.5 231.7 593.0 232.1 588.8 234.1 586.5 237.2 578.9 255.2 578.0 259.7 578.5 262.8 580.2 265.8 583.9 270.3 593.0 278.9 603.0 289.9 606.3 295.9 607.6 301.9 607.4 312.5 608.0 321.5 606.9 327.5 605.0 331.2 601.9 335.1 598.0 338.1 594.5 339.3 591.5 339.2 589.2 338.1 576.5 327.5 574.4 324.5 570.1 314.0 563.5 301.9 561.5 299.5 553.5 292.9 550.9 288.4 545.4 274.8 542.7 271.8 537.5 268.2 536.0 266.1 534.9 261.3 534.7 252.2 531.9 243.2 529.3 226.6 527.0 221.6 521.2 214.6 517.9 208.0 510.4 184.8 505.7 172.4 505.9 167.9 508.2 157.3 507.2 140.8 507.4 136.2 508.9 130.4 513.0 119.7 514.0 118.2 516.3 116.7 525.4 114.5 534.5 109.7 537.5 109.4 545.0 111.1 548.0 110.4 549.5 109.3 552.5 105.2 554.6 98.6 555.9 76.0ZM809.3 80.1 810.8 79.9 813.8 80.6 828.3 89.6 831.6 92.6 833.0 95.6 833.6 100.1 833.0 103.1 830.9 106.1 825.8 108.1 818.3 108.9 812.3 108.4 809.8 107.6 807.6 106.1 805.2 101.6 804.3 92.6 805.3 85.0 806.7 82.0 808.5 80.5ZM813.2 91.1 811.9 92.6 811.3 95.6 811.8 98.6 813.8 101.6 816.8 103.3 819.8 103.8 823.7 103.1 826.2 101.6 827.3 100.1 827.6 98.6 827.3 96.9 825.1 94.1 819.8 91.2 816.8 90.5 813.8 90.7ZM232.6 92.5 235.6 93.1 238.6 95.2 240.7 98.6 241.2 101.6 238.9 112.1 239.3 118.2 238.9 121.2 237.1 124.2 233.8 127.2 231.6 130.2 230.7 133.2 230.7 136.2 235.5 148.3 236.5 154.3 237.0 164.9 238.1 169.4 241.4 173.9 250.0 181.4 251.7 184.4 251.9 187.5 250.3 190.5 249.1 191.2 246.1 191.5 243.1 190.9 232.6 186.7 226.6 186.2 223.6 187.8 218.4 195.0 213.1 199.0 210.1 200.3 205.6 201.3 199.3 201.0 196.3 199.5 195.1 197.2 196.5 182.9 194.1 175.4 189.1 166.8 177.1 153.0 173.1 146.8 172.3 142.3 173.6 134.7 175.5 130.2 177.1 128.1 186.1 120.3 188.3 116.7 191.6 109.1 193.6 106.3 202.5 100.1 208.6 94.4 210.1 93.9 211.6 94.0 213.1 95.1 217.6 103.1 219.1 104.9 222.1 106.4 223.6 106.2 225.6 104.6 229.6 94.6 231.1 93.1 232.5 92.6ZM207.3 104.6 199.9 107.6 196.3 110.6 194.5 113.7 189.1 126.2 186.1 130.5 180.6 136.2 179.2 140.8 179.9 143.8 180.7 145.3 186.1 151.1 190.6 158.0 201.3 179.9 202.2 182.9 201.7 190.5 202.2 193.5 203.1 195.0 205.2 196.5 208.6 197.0 211.6 196.1 214.8 193.5 216.2 190.5 216.3 182.9 217.4 179.9 220.0 176.9 225.4 172.4 227.3 169.4 229.0 163.4 230.9 151.3 230.6 148.3 227.9 140.8 226.9 136.2 227.3 124.2 226.8 121.2 225.1 119.3 218.5 115.2 211.6 106.4 210.1 105.1 208.6 104.5ZM860.3 131.6 863.3 131.6 866.3 133.1 877.3 145.3 886.0 161.8 887.1 164.9 886.4 167.9 880.2 175.4 878.2 179.9 877.7 182.9 878.0 185.9 880.4 195.0 879.0 198.0 876.8 199.3 873.8 199.5 870.8 197.8 865.2 187.5 853.0 176.9 849.6 172.4 847.8 167.9 847.5 163.4 848.0 160.3 849.4 157.3 854.3 151.8 855.8 149.0 856.7 145.3 857.6 134.7 858.8 132.5 860.1 131.7ZM863.7 139.3 861.9 142.3 860.3 153.4 857.3 161.8 857.1 166.4 858.7 170.9 860.9 173.9 867.8 180.1 870.8 181.8 872.3 181.4 873.8 179.7 879.8 169.4 880.8 166.4 880.7 163.4 876.8 152.9 874.3 148.3 867.8 140.8 864.8 138.9ZM798.8 175.4 800.3 175.4 802.1 176.9 810.8 193.5 812.2 201.0 811.3 207.0 809.7 210.0 807.8 211.5 804.8 211.8 798.8 210.5 795.7 211.0 793.8 213.1 791.5 219.1 789.7 221.8 786.7 223.6 783.7 223.3 780.6 220.6 778.9 216.1 778.8 199.5 779.2 196.5 781.1 193.5 789.7 187.2 797.3 176.4 798.7 175.4ZM796.0 187.5 790.5 193.5 789.4 196.5 789.7 198.2 791.2 199.9 794.2 201.1 801.8 202.5 804.8 201.6 805.8 198.0 804.0 192.0 800.3 187.2 798.8 186.5 797.3 186.7ZM136.5 188.5 141.0 187.7 144.0 189.1 150.0 194.8 156.0 203.4 160.5 207.9 163.5 210.0 166.6 211.1 175.6 211.1 178.3 213.1 179.5 216.1 179.6 219.1 178.6 223.0 176.9 225.1 170.5 229.6 169.1 232.6 168.5 235.6 167.8 250.7 168.2 262.8 167.3 273.3 167.9 276.3 172.5 285.4 173.1 288.4 172.2 291.4 168.1 297.7 166.5 301.9 166.4 307.9 168.4 330.5 166.9 345.6 167.7 360.7 166.6 365.2 162.5 371.2 157.8 371.2 162.0 362.2 163.2 357.6 163.5 350.1 163.4 301.9 164.4 297.4 166.9 291.4 167.6 288.4 167.0 285.4 162.4 276.3 161.8 273.3 162.7 255.2 162.0 246.6 160.1 235.6 160.0 222.1 157.9 216.1 148.5 204.0 145.5 200.8 141.0 198.8 137.2 199.5 135.7 202.5 136.8 219.1 136.6 228.1 137.1 237.2 134.3 250.7 133.8 259.7 134.1 286.9 135.4 292.9 139.8 301.9 139.4 312.5 140.2 321.5 139.4 324.5 136.5 327.8 126.0 332.5 124.1 336.6 123.6 342.6 124.2 347.1 125.9 350.1 136.6 357.6 142.5 364.5 146.8 371.2 122.4 371.2 121.5 368.7 120.0 367.4 120.0 318.1 122.1 315.5 123.1 312.5 123.4 298.9 127.7 288.4 128.4 268.8 127.8 256.7 126.0 251.5 124.5 251.6 120.0 259.0 120.0 197.7 127.5 192.1 135.0 189.0ZM932.4 226.4 932.4 247.7 930.5 246.2 929.4 244.5 925.9 234.1 926.7 231.1 931.9 226.6ZM771.7 235.4 774.7 235.4 777.8 237.2 780.0 240.2 781.3 244.7 782.1 258.2 781.8 264.3 780.9 267.3 779.8 268.8 776.2 270.6 773.2 270.8 770.2 270.0 768.7 268.6 767.6 265.8 767.2 241.7 768.7 237.4 771.0 235.6ZM472.9 291.2 477.4 291.0 480.4 292.1 482.4 294.4 484.5 298.9 487.3 301.9 492.4 304.2 501.4 305.0 503.5 306.4 505.5 309.4 507.4 314.8 508.9 321.4 512.9 348.6 513.2 353.1 512.3 365.2 512.7 371.2 508.7 371.2 508.9 348.6 508.1 335.1 506.3 326.0 502.9 316.7 501.4 314.3 499.4 312.5 489.4 308.5 482.4 304.9 474.4 298.8 471.4 297.5 465.4 297.2 459.4 298.1 454.9 299.9 452.6 301.9 450.4 306.3 447.4 316.9 445.7 327.5 445.8 335.1 446.6 341.1 448.1 345.6 450.2 348.6 453.4 351.2 457.9 353.4 460.9 353.0 463.9 349.9 465.4 349.1 466.9 351.1 467.1 363.7 468.1 371.2 462.9 371.2 459.4 366.6 454.8 359.2 447.9 351.6 446.1 348.6 444.6 344.1 443.7 338.1 443.7 324.5 444.9 315.5 448.9 301.0 450.4 298.5 454.0 295.9 471.8 291.4ZM705.6 329.8 708.7 329.3 711.0 330.5 712.1 332.0 712.8 335.1 713.0 339.6 711.9 347.1 709.3 351.6 705.6 354.4 701.1 355.9 696.6 355.5 695.1 354.6 693.0 351.6 692.1 347.1 692.4 344.1 694.2 341.1 704.5 330.5ZM821.3 340.1 824.3 339.6 831.8 341.6 839.3 339.8 842.3 340.6 845.3 343.3 848.1 347.1 849.3 350.1 849.5 353.1 847.8 362.2 848.8 366.7 850.8 371.2 845.8 371.2 839.0 365.2 835.6 357.6 833.3 354.7 828.3 351.6 824.3 350.3 821.3 351.1 819.6 353.1 818.2 356.1 817.0 362.2 817.1 371.2 813.9 371.2 814.1 362.2 815.3 352.8 817.5 345.6 820.1 341.1ZM225.1 362.3 226.6 362.4 229.6 365.9 237.1 368.6 239.1 371.2 228.0 371.2 227.1 368.2 224.9 363.7Z"/><path fill="#fb6a4a" stroke="#fb6a4a" stroke-width="0.5" fill-rule="evenodd" d="M331.7 76.0 365.1 76.0 366.6 79.0 366.9 82.0 365.5 89.6 359.4 103.1 359.0 107.6 359.2 121.2 358.8 124.9 357.3 129.4 355.8 131.5 354.3 132.4 352.8 132.3 346.8 128.1 343.7 127.3 342.2 127.7 340.2 130.2 338.7 137.8 337.7 139.7 334.6 142.3 328.7 144.2 327.2 143.3 325.7 139.2 325.3 134.7 326.1 125.7 322.7 116.7 321.7 109.1 322.2 106.1 323.5 103.1 328.6 98.6 330.7 95.6 331.3 92.6 330.7 80.5 331.0 76.0ZM352.2 79.0 350.6 80.5 350.0 82.0 350.2 86.5 352.8 92.3 354.3 93.6 355.8 94.0 358.8 92.3 360.6 89.6 361.8 86.5 361.9 82.0 360.3 79.2 358.8 78.5 355.8 78.1 352.8 78.8ZM333.0 104.6 328.7 105.7 325.7 108.4 325.1 110.6 325.5 113.7 327.7 116.7 330.2 117.9 343.7 118.7 351.3 121.1 352.8 121.0 353.9 119.7 354.5 116.7 354.1 112.1 352.8 108.4 351.3 106.5 349.8 105.5 346.8 104.9 333.2 104.6ZM558.5 76.0 559.0 76.0 559.2 77.5 559.2 85.0 557.1 100.1 554.8 107.6 549.5 118.1 546.5 120.7 543.5 120.7 537.5 119.7 533.6 121.2 529.6 124.2 525.0 128.7 521.1 133.2 519.4 136.2 518.7 140.8 519.1 152.8 516.8 175.4 516.8 181.4 517.8 185.9 519.4 189.9 526.2 199.5 528.4 204.0 532.4 220.6 534.5 231.8 536.0 236.3 539.0 239.9 544.4 243.2 545.4 244.7 545.6 247.7 545.1 253.7 545.6 256.7 546.5 258.5 552.5 263.2 555.5 268.8 556.8 273.3 556.7 283.8 557.9 288.4 560.0 291.0 567.4 297.4 572.0 304.3 579.1 312.5 583.2 320.0 585.5 321.5 587.0 321.7 591.5 320.2 595.4 317.0 597.6 312.5 598.1 304.9 596.1 297.4 592.3 289.9 589.1 285.4 576.5 272.6 568.7 265.8 566.3 261.3 565.8 256.7 566.8 253.7 575.0 240.5 578.8 231.1 580.6 228.1 584.0 225.4 591.5 222.6 595.1 220.6 606.5 211.6 607.9 208.5 608.2 204.0 607.5 195.0 608.6 187.5 608.3 182.9 606.5 179.9 598.2 173.9 596.2 169.4 596.6 161.8 600.7 151.3 601.2 148.3 599.5 145.3 589.0 134.7 587.0 131.7 586.1 127.2 586.3 113.7 585.7 104.6 586.9 98.6 590.0 93.7 594.5 90.2 602.0 86.9 604.7 83.5 605.0 80.5 604.4 79.0 603.0 77.5 600.2 76.0 610.6 76.0 611.0 79.0 610.2 83.5 609.0 86.5 606.9 89.6 603.5 91.9 594.5 95.4 591.5 99.2 590.7 103.1 591.5 112.1 591.6 124.2 593.0 128.7 595.8 133.2 599.6 137.8 606.3 143.8 608.2 146.8 608.0 149.8 603.5 157.3 601.5 161.8 600.9 167.9 602.1 170.9 610.0 176.9 613.0 181.4 613.8 187.5 612.8 199.5 614.0 208.0 616.1 211.6 626.3 220.6 629.1 223.6 630.5 226.6 631.1 231.1 630.6 234.3 629.1 236.4 626.1 237.6 623.1 237.8 618.6 236.9 615.5 235.1 613.2 232.6 608.0 224.9 605.0 223.2 602.0 223.8 596.0 226.3 588.5 228.6 585.5 230.3 583.5 232.6 579.5 242.9 574.1 253.7 572.6 259.7 573.7 264.3 582.5 274.2 591.2 282.3 595.1 286.9 600.4 294.4 602.8 300.4 603.2 306.4 602.0 322.2 600.5 325.3 598.7 327.5 596.0 329.7 593.6 330.5 590.0 330.1 585.5 328.5 582.5 327.0 579.5 324.3 577.8 321.5 574.7 314.0 565.9 300.4 563.3 297.4 557.7 292.9 555.2 289.9 553.3 285.4 550.7 274.8 548.7 270.3 546.5 268.0 542.0 265.8 540.1 264.3 539.0 261.3 540.0 252.2 539.2 247.7 534.5 239.8 530.0 221.6 523.6 207.0 516.4 193.2 513.6 184.4 512.4 178.4 511.7 170.9 512.2 151.3 511.3 139.3 511.8 134.7 513.0 131.7 515.8 127.2 518.9 124.2 533.3 115.2 537.5 113.7 543.5 114.8 546.5 114.6 549.5 112.7 551.0 110.9 554.0 105.5 555.9 98.6 557.0 88.0 557.3 76.0ZM813.8 90.7 816.8 90.5 819.8 91.2 825.1 94.1 827.3 96.9 827.6 98.6 827.3 100.1 826.2 101.6 823.7 103.1 819.8 103.8 816.8 103.3 813.8 101.6 811.8 98.6 811.3 95.6 811.9 92.6 813.2 91.1ZM208.6 104.5 210.1 105.1 211.6 106.4 218.5 115.2 225.1 119.3 226.8 121.2 227.3 124.2 226.9 136.2 227.9 140.8 230.6 148.3 230.9 151.3 229.0 163.4 227.3 169.4 225.4 172.4 220.0 176.9 217.4 179.9 216.3 182.9 216.2 190.5 214.8 193.5 211.6 196.1 208.6 197.0 205.2 196.5 203.1 195.0 202.2 193.5 201.7 190.5 202.2 182.9 201.3 179.9 190.6 158.0 186.1 151.1 180.7 145.3 179.9 143.8 179.2 140.8 180.6 136.2 186.1 130.5 189.1 126.2 194.5 113.7 196.3 110.6 199.9 107.6 207.3 104.6ZM203.7 113.7 201.1 114.3 199.6 115.5 197.9 118.2 191.6 133.2 190.5 137.8 190.2 142.3 192.1 149.8 201.1 168.8 202.6 171.1 205.6 173.9 207.1 174.7 210.1 175.0 213.1 173.6 218.2 169.4 222.1 164.9 223.6 161.7 224.6 157.3 224.9 152.8 223.5 136.2 222.4 130.2 220.6 126.9 211.2 119.7 206.9 115.2 204.1 113.6ZM864.8 138.9 867.8 140.8 874.3 148.3 876.8 152.9 880.7 163.4 880.8 166.4 879.8 169.4 873.8 179.7 872.3 181.4 870.8 181.8 867.8 180.1 860.9 173.9 858.7 170.9 857.1 166.4 857.3 161.8 860.3 153.4 861.9 142.3 863.7 139.3ZM324.2 151.2 325.7 150.4 326.8 151.3 328.0 155.8 328.1 160.3 326.9 169.4 328.0 181.4 327.8 189.0 326.3 196.5 324.2 201.8 321.2 204.9 318.2 205.4 309.4 202.5 306.2 200.5 304.1 196.5 303.7 190.5 305.0 185.9 309.1 179.9 311.3 175.4 318.3 166.4 321.2 156.6 324.2 151.3ZM318.3 176.9 310.2 189.0 309.0 193.5 310.0 196.5 311.3 198.0 315.2 200.4 318.2 201.2 321.2 200.3 323.1 198.0 324.7 193.5 325.5 187.5 325.3 182.9 324.2 178.8 322.7 176.6 321.2 175.9 319.7 176.0ZM797.3 186.7 798.8 186.5 800.3 187.2 804.0 192.0 805.8 198.0 804.8 201.6 801.8 202.5 794.2 201.1 791.2 199.9 789.7 198.2 789.4 196.5 790.5 193.5 796.0 187.5ZM138.0 199.0 142.5 199.2 147.0 202.2 157.9 216.1 160.0 222.1 160.1 235.6 162.0 246.6 162.7 255.2 161.8 273.3 162.4 276.3 167.0 285.4 167.6 288.4 166.9 291.4 164.4 297.4 163.4 301.9 163.5 350.1 163.2 357.6 162.0 362.2 157.8 371.2 146.8 371.2 142.5 364.5 136.6 357.6 125.9 350.1 124.5 347.9 123.7 344.1 123.9 338.1 125.2 333.5 127.5 331.4 133.5 329.4 136.9 327.5 139.4 324.5 140.2 321.5 139.4 312.5 139.8 301.9 134.9 291.4 133.9 283.8 134.0 253.7 137.1 237.2 136.6 228.1 136.8 219.1 135.6 204.0 136.0 201.0 137.2 199.5ZM144.1 246.2 140.9 249.2 139.5 252.2 139.0 255.2 139.3 270.3 138.9 282.3 139.7 288.4 143.9 297.4 144.8 300.4 144.8 323.0 144.0 326.7 142.5 330.2 136.7 338.1 136.1 339.6 135.9 342.6 137.9 347.1 146.0 359.2 150.0 363.3 153.0 364.4 154.5 363.9 157.5 360.3 159.3 356.1 160.2 351.6 160.5 301.9 162.9 288.4 162.0 285.4 157.7 277.8 156.7 274.8 156.5 270.3 157.8 258.2 157.4 253.7 156.5 250.7 154.5 247.8 151.5 245.9 148.5 245.2 145.5 245.6ZM298.7 212.8 300.2 212.7 301.7 213.5 303.2 215.5 308.4 226.6 310.1 232.6 309.8 238.7 306.9 246.2 296.4 265.8 294.2 268.2 291.2 270.1 286.7 270.8 283.7 268.9 276.6 255.2 275.0 249.2 275.4 243.2 277.7 238.5 287.7 228.1 292.8 217.6 295.7 214.6 298.2 213.1ZM296.6 223.6 292.1 229.6 281.9 238.7 279.3 243.2 278.9 247.7 280.3 252.2 283.7 256.0 286.7 257.8 289.7 258.2 291.2 257.8 294.2 255.9 297.2 252.9 301.4 246.2 304.3 238.7 305.1 232.6 303.4 226.6 301.7 223.8 300.2 222.5 298.7 222.3 297.2 223.0ZM463.9 297.3 468.4 297.1 472.9 298.0 482.4 304.9 490.9 309.1 498.4 311.9 502.2 315.5 505.9 324.8 508.1 335.1 508.9 348.6 508.7 371.2 505.3 371.2 505.4 336.6 503.6 329.0 499.9 321.4 496.9 317.7 492.4 314.7 483.4 310.3 472.9 308.2 467.9 303.4 465.4 302.2 460.9 302.0 457.9 302.8 456.4 303.7 454.0 306.4 451.9 311.4 449.1 321.5 448.5 326.0 448.5 332.0 450.4 340.0 451.9 342.3 453.4 343.3 456.4 343.2 463.9 336.9 466.9 336.9 469.3 339.6 470.9 344.1 471.6 348.6 471.2 371.2 468.1 371.2 467.1 363.7 467.1 353.1 466.3 350.1 465.4 349.1 463.9 349.9 460.9 353.0 457.9 353.4 451.9 350.1 448.9 347.0 447.4 343.9 446.3 339.6 445.6 329.0 446.6 320.0 449.9 307.9 451.6 303.4 454.2 300.4 457.9 298.5 463.1 297.4ZM821.3 351.1 822.8 350.4 825.8 350.6 833.2 354.6 835.6 357.6 839.0 365.2 845.8 371.2 817.1 371.2 816.7 365.2 817.5 359.2 818.8 354.6 820.8 351.6ZM822.7 362.2 821.9 365.2 822.1 366.7 822.8 367.9 824.8 368.2 826.7 366.7 827.2 365.2 827.0 363.7 825.8 361.8 824.3 361.2 822.8 362.0Z"/><path fill="#ef3b2c" stroke="#ef3b2c" stroke-width="0.5" fill-rule="evenodd" d="M560.0 76.0 561.7 76.0 562.0 77.5 561.8 86.5 557.7 104.6 551.3 124.2 549.5 126.6 546.5 128.0 539.0 127.0 536.0 127.6 533.0 130.2 531.0 134.7 531.1 137.8 533.0 140.8 534.5 141.4 537.5 141.5 543.5 139.9 546.5 139.8 549.5 141.3 551.2 143.8 551.9 148.3 551.0 151.2 545.7 155.8 543.7 158.8 544.0 161.8 546.0 167.9 545.9 170.9 544.2 173.9 542.0 175.7 539.0 176.7 537.5 176.4 534.7 173.9 531.5 167.9 530.0 166.0 527.0 164.6 525.4 165.0 523.9 166.3 522.4 169.4 521.3 175.4 521.4 179.9 522.1 182.9 523.6 185.9 531.0 193.5 533.1 198.0 534.8 211.6 535.7 226.6 537.5 233.2 540.5 236.3 548.0 237.7 551.0 238.8 552.6 240.2 555.7 244.7 557.6 246.2 561.5 246.1 566.0 243.4 570.5 237.1 575.7 226.6 578.0 223.6 581.0 221.5 589.0 217.6 595.9 210.0 601.1 205.5 602.6 201.0 603.3 185.9 601.7 182.9 594.6 178.4 592.6 175.4 590.0 165.2 586.6 157.3 588.2 149.8 587.2 145.3 584.7 142.3 578.4 137.8 576.0 134.7 575.2 131.7 575.3 128.7 577.9 119.7 577.8 115.2 576.7 112.1 570.5 105.0 569.2 101.6 568.7 98.6 569.8 94.1 572.0 92.2 575.0 92.1 581.0 94.0 584.0 92.7 590.0 86.8 594.5 83.5 595.7 82.0 595.7 80.5 594.1 79.0 591.5 78.2 587.0 77.8 575.0 78.3 570.5 77.4 567.7 76.0 600.2 76.0 603.0 77.5 605.0 80.5 605.0 82.2 603.9 85.0 600.5 87.8 594.5 90.2 591.5 92.2 588.6 95.6 586.3 100.1 585.7 104.6 586.3 113.7 586.1 127.2 586.5 130.2 587.8 133.2 599.5 145.3 601.2 148.3 600.7 151.3 596.6 161.8 596.2 169.4 598.2 173.9 606.5 179.9 608.3 182.9 608.6 187.5 607.5 195.0 608.2 204.0 607.9 208.5 606.5 211.6 595.1 220.6 591.5 222.6 584.0 225.4 580.6 228.1 578.8 231.1 575.0 240.5 566.8 253.7 565.8 256.7 566.3 261.3 568.7 265.8 576.5 272.6 590.0 286.5 594.0 292.9 597.2 300.4 598.1 307.9 597.6 312.5 596.4 315.5 594.5 318.0 591.9 320.0 587.0 321.7 584.0 320.7 582.5 319.2 579.1 312.5 572.0 304.3 567.4 297.4 560.0 291.0 557.9 288.4 556.7 283.8 556.8 273.3 555.5 268.8 552.5 263.2 546.5 258.5 545.6 256.7 545.1 253.7 545.6 247.7 545.4 244.7 544.4 243.2 539.0 239.9 536.0 236.3 534.5 231.8 532.4 220.6 528.4 204.0 526.2 199.5 519.4 189.9 517.8 185.9 516.8 181.4 516.8 175.4 519.1 152.8 518.7 140.8 519.4 136.2 521.1 133.2 525.0 128.7 529.6 124.2 533.6 121.2 537.5 119.7 543.5 120.7 546.5 120.7 549.5 118.1 554.0 109.6 556.7 101.6 559.1 86.5 559.0 76.0ZM565.5 273.3 564.2 274.8 561.8 280.8 561.2 283.8 561.8 286.9 563.0 288.4 569.2 292.9 573.5 299.6 576.5 302.8 585.5 307.7 587.0 308.0 588.5 307.6 589.9 304.9 589.9 300.4 589.0 294.4 587.0 289.5 573.5 274.8 569.0 272.7 566.0 273.0ZM352.8 78.8 355.8 78.1 358.8 78.5 360.3 79.2 361.9 82.0 361.8 86.5 360.6 89.6 358.8 92.3 355.8 94.0 354.3 93.6 352.8 92.3 350.2 86.5 350.0 82.0 350.6 80.5 352.2 79.0ZM333.2 104.6 346.8 104.9 349.8 105.5 351.3 106.5 352.8 108.4 354.1 112.1 354.5 116.7 353.9 119.7 352.8 121.0 351.3 121.1 343.7 118.7 330.2 117.9 327.7 116.7 325.5 113.7 325.1 110.6 325.7 108.4 328.7 105.7 333.0 104.6ZM204.1 113.6 206.9 115.2 211.2 119.7 220.6 126.9 222.4 130.2 223.5 136.2 224.9 152.8 224.6 157.3 223.6 161.7 222.1 164.9 218.2 169.4 213.1 173.6 210.1 175.0 207.1 174.7 205.6 173.9 202.6 171.1 201.1 168.8 192.1 149.8 190.2 142.3 190.5 137.8 191.6 133.2 197.9 118.2 199.6 115.5 201.1 114.3 203.7 113.7ZM202.3 125.7 199.1 128.7 196.4 134.7 195.6 140.8 196.4 146.8 199.6 154.3 204.1 160.9 207.1 163.9 208.6 164.7 211.6 164.7 216.1 161.6 218.4 157.3 219.9 139.3 219.6 134.7 217.6 130.7 214.6 128.1 207.1 125.4 202.6 125.6ZM319.7 176.0 321.2 175.9 322.7 176.6 324.2 178.8 325.3 182.9 325.5 187.5 324.7 193.5 323.1 198.0 321.2 200.3 318.2 201.2 315.2 200.4 311.3 198.0 310.0 196.5 309.0 193.5 310.2 189.0 318.3 176.9ZM317.7 187.5 315.6 190.5 315.1 193.5 316.3 195.0 318.2 195.5 319.7 195.0 320.9 193.5 321.7 189.0 321.2 186.8 319.7 186.0 318.2 186.9ZM297.2 223.0 298.7 222.3 300.2 222.5 301.7 223.8 303.4 226.6 305.1 232.6 304.3 238.7 301.4 246.2 297.2 252.9 294.2 255.9 291.2 257.8 289.7 258.2 286.7 257.8 283.7 256.0 280.3 252.2 278.9 247.7 279.3 243.2 281.9 238.7 292.1 229.6 296.6 223.6ZM293.6 235.6 288.2 237.9 284.6 241.7 283.9 244.7 284.2 246.2 285.2 247.8 286.7 248.9 288.2 249.3 291.2 248.9 294.2 247.1 296.0 244.7 297.5 240.2 297.2 237.2 295.7 235.7 294.2 235.5ZM145.5 245.6 148.5 245.2 151.5 245.9 154.5 247.8 156.5 250.7 157.4 253.7 157.8 258.2 156.5 270.3 156.7 274.8 157.7 277.8 162.0 285.4 162.9 288.4 160.5 301.9 160.2 351.6 159.3 356.1 157.5 360.3 154.5 363.9 153.0 364.4 150.0 363.3 146.0 359.2 137.9 347.1 135.9 342.6 136.1 339.6 136.7 338.1 142.5 330.2 144.0 326.7 144.8 323.0 144.8 300.4 143.9 297.4 139.7 288.4 138.9 282.3 139.3 270.3 139.0 255.2 139.5 252.2 140.9 249.2 144.1 246.2ZM147.3 280.8 145.7 283.8 145.4 286.9 149.2 301.9 148.9 321.5 147.9 329.0 145.1 338.1 144.8 342.6 145.7 347.1 147.8 351.6 150.0 354.1 151.5 354.9 153.0 354.9 154.5 353.9 155.9 351.6 156.9 347.1 156.5 333.5 157.3 315.5 157.0 303.4 158.2 289.9 157.3 286.9 154.5 283.2 151.5 280.9 148.5 280.2ZM462.4 301.9 465.4 302.2 467.9 303.4 472.9 308.2 481.9 309.8 488.2 312.5 496.0 317.0 499.9 321.4 503.6 329.0 505.4 336.6 505.3 371.2 502.1 371.2 502.1 341.1 501.3 335.1 498.7 329.0 494.9 323.0 492.0 320.0 487.9 317.2 483.4 315.2 480.4 314.8 472.9 316.8 469.9 316.9 466.9 314.3 463.9 309.3 460.9 307.5 458.6 307.9 456.8 309.4 454.2 315.5 452.9 324.5 453.4 327.7 454.9 330.1 456.4 330.6 463.9 329.0 466.9 329.3 469.9 331.7 471.4 334.7 473.1 341.1 474.2 348.6 473.7 371.2 471.2 371.2 471.6 348.6 470.5 342.6 468.4 338.1 466.9 336.9 463.9 336.9 462.0 338.1 457.9 342.1 454.9 343.6 453.4 343.3 451.0 341.1 449.3 336.6 448.4 330.5 448.6 324.5 450.3 317.0 452.5 309.4 454.9 305.1 457.9 302.8 461.5 301.9ZM822.8 362.0 824.3 361.2 825.8 361.8 827.0 363.7 827.2 365.2 826.7 366.7 824.8 368.2 822.8 367.9 822.1 366.7 821.9 365.2 822.7 362.2Z"/><path fill="#cf1c23" stroke="#cf1c23" stroke-width="0.5" fill-rule="evenodd" d="M563.0 76.0 567.7 76.0 570.5 77.4 575.0 78.3 590.0 78.0 594.1 79.0 595.7 80.5 595.7 82.0 594.5 83.5 590.0 86.8 584.0 92.7 581.0 94.0 575.0 92.1 572.0 92.2 569.8 94.1 568.7 98.6 569.2 101.6 570.5 105.0 576.7 112.1 577.8 115.2 577.9 119.7 575.3 128.7 575.2 131.7 576.0 134.7 578.4 137.8 584.7 142.3 587.2 145.3 588.2 149.8 586.6 157.3 590.0 165.2 592.6 175.4 594.6 178.4 602.0 183.3 603.3 185.9 603.4 189.0 602.6 201.0 601.1 205.5 595.9 210.0 589.0 217.6 581.0 221.5 578.0 223.6 575.7 226.6 572.0 234.4 567.5 241.7 563.0 245.5 558.5 246.5 557.0 246.0 555.7 244.7 552.6 240.2 551.0 238.8 548.0 237.7 540.5 236.3 537.5 233.2 535.7 226.6 534.8 211.6 533.1 198.0 531.0 193.5 525.4 188.1 522.7 184.4 521.6 181.4 521.2 176.9 521.7 172.4 523.0 167.9 525.4 165.0 527.0 164.6 528.5 165.0 530.3 166.4 534.7 173.9 537.5 176.4 539.0 176.7 542.0 175.7 545.3 172.4 545.9 170.9 546.0 167.9 544.0 161.8 543.7 158.8 545.7 155.8 551.0 151.2 551.9 148.3 551.2 143.8 549.5 141.3 546.5 139.8 543.5 139.9 537.5 141.5 534.5 141.4 533.0 140.8 531.1 137.8 531.0 134.7 533.0 130.2 536.0 127.6 539.0 127.0 546.5 128.0 549.5 126.6 551.3 124.2 557.7 104.6 561.0 91.1 562.2 83.5 561.7 76.0ZM562.9 100.1 561.5 101.2 558.5 109.9 556.4 124.2 553.9 133.2 554.2 136.2 556.7 145.3 557.4 154.3 556.4 157.3 552.5 162.7 551.0 170.9 549.5 175.4 544.2 182.9 543.0 185.9 543.7 195.0 542.5 205.5 543.1 213.1 542.4 216.1 539.2 222.1 538.7 225.1 539.4 229.6 540.5 231.3 542.0 232.3 545.0 232.9 552.5 233.1 560.0 235.1 563.0 234.1 566.0 231.4 574.2 219.1 583.3 213.1 588.5 204.6 596.0 199.5 597.5 196.6 597.9 193.5 597.6 190.5 596.0 187.9 589.3 184.4 587.8 182.9 587.0 180.4 585.9 170.9 581.0 161.5 579.4 151.3 578.4 148.3 576.5 146.1 570.5 141.3 567.7 136.2 567.0 133.2 566.8 128.7 568.8 118.2 568.9 113.7 566.0 105.0 564.5 101.6 563.0 100.1ZM202.6 125.6 207.1 125.4 214.6 128.1 217.6 130.7 219.6 134.7 219.9 139.3 218.4 157.3 216.1 161.6 211.6 164.7 208.6 164.7 207.1 163.9 204.1 160.9 199.6 154.3 196.4 146.8 195.6 140.8 196.4 134.7 199.1 128.7 202.3 125.7ZM205.6 131.7 203.4 133.2 201.5 136.2 200.9 139.3 201.0 143.8 202.6 148.3 204.1 150.4 207.1 152.7 210.1 153.0 211.6 152.1 213.1 150.0 214.6 145.7 215.6 140.8 215.4 136.2 213.4 133.2 211.6 132.1 208.6 131.3 205.6 131.7ZM318.2 186.9 319.7 186.0 321.2 186.8 321.7 189.0 320.9 193.5 319.7 195.0 318.2 195.5 316.3 195.0 315.1 193.5 315.6 190.5 317.7 187.5ZM294.2 235.5 295.7 235.7 297.2 237.2 297.5 240.2 296.0 244.7 294.2 247.1 291.2 248.9 288.2 249.3 286.7 248.9 285.2 247.8 284.2 246.2 283.9 244.7 284.6 241.7 288.2 237.9 293.6 235.6ZM566.0 273.0 569.0 272.7 573.5 274.8 587.0 289.5 589.0 294.4 589.9 300.4 589.9 304.9 588.5 307.6 587.0 308.0 585.5 307.7 576.5 302.8 573.5 299.6 569.2 292.9 563.0 288.4 561.8 286.9 561.2 283.8 561.8 280.8 564.2 274.8 565.5 273.3ZM148.5 280.2 151.5 280.9 154.5 283.2 157.3 286.9 158.2 289.9 157.0 303.4 157.3 315.5 156.5 333.5 156.9 347.1 155.9 351.6 154.5 353.9 153.0 354.9 151.5 354.9 150.0 354.1 147.8 351.6 145.7 347.1 144.8 342.6 145.1 338.1 147.9 329.0 148.9 321.5 149.2 301.9 145.4 286.9 145.7 283.8 147.3 280.8ZM459.4 307.6 462.1 307.9 463.9 309.3 466.9 314.3 469.9 316.9 472.9 316.8 478.9 315.0 483.4 315.2 490.9 319.2 496.0 324.5 500.2 332.0 501.9 338.1 502.1 371.2 498.9 371.2 498.9 348.6 498.4 343.6 497.4 339.6 491.4 327.5 489.4 324.6 486.4 322.2 481.9 320.7 477.4 321.9 474.7 324.5 474.1 326.0 474.0 330.5 476.3 345.6 476.6 353.1 476.1 371.2 473.7 371.2 474.2 348.6 473.1 341.1 471.4 334.7 469.9 331.7 466.9 329.3 463.9 329.0 456.4 330.6 454.9 330.1 453.3 327.5 453.1 321.5 454.6 314.0 456.4 310.0 458.6 307.9Z"/><path fill="#a51218" stroke="#a51218" stroke-width="0.5" fill-rule="evenodd" d="M563.0 100.1 564.5 101.6 566.0 105.0 568.9 113.7 568.8 118.2 566.8 128.7 567.0 133.2 567.7 136.2 570.5 141.3 576.5 146.1 578.4 148.3 579.4 151.3 581.0 161.5 585.9 170.9 587.0 180.4 587.8 182.9 589.3 184.4 596.0 187.9 597.6 190.5 597.9 193.5 597.5 196.6 596.0 199.5 588.5 204.6 583.3 213.1 574.2 219.1 566.0 231.4 563.0 234.1 560.0 235.1 552.5 233.1 545.0 232.9 542.0 232.3 540.5 231.3 539.4 229.6 538.7 225.1 539.2 222.1 542.4 216.1 543.1 213.1 542.5 205.5 543.7 195.0 543.0 185.9 544.2 182.9 549.5 175.4 551.0 170.9 552.5 162.7 556.4 157.3 557.4 154.3 556.7 145.3 554.2 136.2 553.9 133.2 556.4 124.2 558.5 109.9 561.5 101.2 562.9 100.1ZM565.6 151.3 562.4 160.3 557.6 166.4 556.0 169.4 552.3 184.4 553.3 199.5 552.8 220.6 553.9 223.6 557.0 225.3 561.5 224.8 564.5 222.6 570.3 214.6 577.1 208.5 578.8 204.0 577.3 192.0 579.5 175.9 579.0 170.9 575.3 155.8 573.7 152.8 570.5 150.5 567.5 150.1 566.0 150.7ZM205.6 131.7 208.6 131.3 211.6 132.1 213.4 133.2 215.4 136.2 215.6 140.8 214.6 145.7 213.1 150.0 211.6 152.1 210.1 153.0 207.1 152.7 204.1 150.4 202.6 148.3 201.0 143.8 200.9 139.3 201.5 136.2 203.4 133.2 205.6 131.7ZM478.9 321.2 483.4 320.9 486.4 322.2 489.3 324.5 491.4 327.5 497.4 339.6 498.4 343.6 498.9 348.6 498.9 371.2 495.5 371.2 495.1 365.2 495.8 351.6 495.3 347.1 494.4 344.1 486.4 329.8 484.9 328.4 481.9 327.4 480.4 327.9 478.9 329.5 477.9 333.5 479.0 350.1 478.6 371.2 476.1 371.2 476.5 348.6 473.9 327.5 474.7 324.5 478.2 321.5Z"/><path fill="#7a0a12" stroke="#7a0a12" stroke-width="0.5" fill-rule="evenodd" d="M566.0 150.7 567.5 150.1 570.5 150.5 573.7 152.8 575.3 155.8 579.0 170.9 579.5 175.9 577.3 192.0 578.8 204.0 577.1 208.5 570.3 214.6 564.5 222.6 561.5 224.8 557.0 225.3 553.9 223.6 552.8 220.6 553.3 199.5 552.3 184.4 556.0 169.4 557.6 166.4 562.4 160.3 565.6 151.3ZM481.9 327.4 484.9 328.4 486.9 330.5 495.0 345.6 495.8 351.6 495.1 365.2 495.5 371.2 478.6 371.2 479.0 350.1 477.9 333.5 478.9 329.5 480.4 327.9 481.5 327.5ZM486.2 351.6 486.4 354.6 487.0 353.1 486.4 350.4Z"/><path fill="#5f0000" stroke="#5f0000" stroke-width="0.5" fill-rule="evenodd" d="M486.4 350.4 487.0 353.1 486.4 354.6 486.2 351.6Z"/></g>
<g fill="#000"><circle cx="601.6" cy="82.8" r="1.6"/><circle cx="595.9" cy="88.5" r="1.6"/><circle cx="869.7" cy="88.5" r="1.6"/><circle cx="573.1" cy="99.9" r="1.6"/><circle cx="207.9" cy="111.4" r="1.6"/><circle cx="470.4" cy="111.4" r="1.6"/><circle cx="561.6" cy="111.4" r="1.6"/><circle cx="573.1" cy="111.4" r="1.6"/><circle cx="698.6" cy="111.4" r="1.6"/><circle cx="213.6" cy="117.1" r="1.6"/><circle cx="464.7" cy="117.1" r="1.6"/><circle cx="555.9" cy="117.1" r="1.6"/><circle cx="567.4" cy="117.1" r="1.6"/><circle cx="207.9" cy="122.8" r="1.6"/><circle cx="219.3" cy="122.8" r="1.6"/><circle cx="470.4" cy="122.8" r="1.6"/><circle cx="550.2" cy="122.8" r="1.6"/><circle cx="561.6" cy="122.8" r="1.6"/><circle cx="202.2" cy="128.5" r="1.6"/><circle cx="213.6" cy="128.5" r="1.6"/><circle cx="419.0" cy="128.5" r="1.6"/><circle cx="441.8" cy="128.5" r="1.6"/><circle cx="453.3" cy="128.5" r="1.6"/><circle cx="464.7" cy="128.5" r="1.6"/><circle cx="476.1" cy="128.5" r="1.6"/><circle cx="555.9" cy="128.5" r="1.6"/><circle cx="567.4" cy="128.5" r="1.6"/><circle cx="196.5" cy="134.2" r="1.6"/><circle cx="207.9" cy="134.2" r="1.6"/><circle cx="219.3" cy="134.2" r="1.6"/><circle cx="390.5" cy="134.2" r="1.6"/><circle cx="401.9" cy="134.2" r="1.6"/><circle cx="413.3" cy="134.2" r="1.6"/><circle cx="424.7" cy="134.2" r="1.6"/><circle cx="436.1" cy="134.2" r="1.6"/><circle cx="447.6" cy="134.2" r="1.6"/><circle cx="459.0" cy="134.2" r="1.6"/><circle cx="470.4" cy="134.2" r="1.6"/><circle cx="481.8" cy="134.2" r="1.6"/><circle cx="538.8" cy="134.2" r="1.6"/><circle cx="561.6" cy="134.2" r="1.6"/><circle cx="573.1" cy="134.2" r="1.6"/><circle cx="202.2" cy="139.9" r="1.6"/><circle cx="213.6" cy="139.9" r="1.6"/><circle cx="384.8" cy="139.9" r="1.6"/><circle cx="396.2" cy="139.9" r="1.6"/><circle cx="407.6" cy="139.9" r="1.6"/><circle cx="419.0" cy="139.9" r="1.6"/><circle cx="430.4" cy="139.9" r="1.6"/><circle cx="441.8" cy="139.9" r="1.6"/><circle cx="453.3" cy="139.9" r="1.6"/><circle cx="464.7" cy="139.9" r="1.6"/><circle cx="476.1" cy="139.9" r="1.6"/><circle cx="567.4" cy="139.9" r="1.6"/><circle cx="207.9" cy="145.6" r="1.6"/><circle cx="219.3" cy="145.6" r="1.6"/><circle cx="379.1" cy="145.6" r="1.6"/><circle cx="390.5" cy="145.6" r="1.6"/><circle cx="401.9" cy="145.6" r="1.6"/><circle cx="413.3" cy="145.6" r="1.6"/><circle cx="424.7" cy="145.6" r="1.6"/><circle cx="436.1" cy="145.6" r="1.6"/><circle cx="447.6" cy="145.6" r="1.6"/><circle cx="459.0" cy="145.6" r="1.6"/><circle cx="470.4" cy="145.6" r="1.6"/><circle cx="481.8" cy="145.6" r="1.6"/><circle cx="538.8" cy="145.6" r="1.6"/><circle cx="561.6" cy="145.6" r="1.6"/><circle cx="573.1" cy="145.6" r="1.6"/><circle cx="202.2" cy="151.3" r="1.6"/><circle cx="213.6" cy="151.3" r="1.6"/><circle cx="384.8" cy="151.3" r="1.6"/><circle cx="396.2" cy="151.3" r="1.6"/><circle cx="407.6" cy="151.3" r="1.6"/><circle cx="419.0" cy="151.3" r="1.6"/><circle cx="430.4" cy="151.3" r="1.6"/><circle cx="441.8" cy="151.3" r="1.6"/><circle cx="453.3" cy="151.3" r="1.6"/><circle cx="464.7" cy="151.3" r="1.6"/><circle cx="476.1" cy="151.3" r="1.6"/><circle cx="567.4" cy="151.3" r="1.6"/><circle cx="578.8" cy="151.3" r="1.6"/><circle cx="207.9" cy="157.0" r="1.6"/><circle cx="219.3" cy="157.0" r="1.6"/><circle cx="379.1" cy="157.0" r="1.6"/><circle cx="390.5" cy="157.0" r="1.6"/><circle cx="401.9" cy="157.0" r="1.6"/><circle cx="413.3" cy="157.0" r="1.6"/><circle cx="424.7" cy="157.0" r="1.6"/><circle cx="436.1" cy="157.0" r="1.6"/><circle cx="447.6" cy="157.0" r="1.6"/><circle cx="459.0" cy="157.0" r="1.6"/><circle cx="470.4" cy="157.0" r="1.6"/><circle cx="561.6" cy="157.0" r="1.6"/><circle cx="573.1" cy="157.0" r="1.6"/><circle cx="584.5" cy="157.0" r="1.6"/><circle cx="213.6" cy="162.8" r="1.6"/><circle cx="225.1" cy="162.8" r="1.6"/><circle cx="373.4" cy="162.8" r="1.6"/><circle cx="384.8" cy="162.8" r="1.6"/><circle cx="396.2" cy="162.8" r="1.6"/><circle cx="407.6" cy="162.8" r="1.6"/><circle cx="419.0" cy="162.8" r="1.6"/><circle cx="430.4" cy="162.8" r="1.6"/><circle cx="441.8" cy="162.8" r="1.6"/><circle cx="453.3" cy="162.8" r="1.6"/><circle cx="464.7" cy="162.8" r="1.6"/><circle cx="476.1" cy="162.8" r="1.6"/><circle cx="555.9" cy="162.8" r="1.6"/><circle cx="567.4" cy="162.8" r="1.6"/><circle cx="578.8" cy="162.8" r="1.6"/><circle cx="590.2" cy="162.8" r="1.6"/><circle cx="207.9" cy="168.5" r="1.6"/><circle cx="379.1" cy="168.5" r="1.6"/><circle cx="390.5" cy="168.5" r="1.6"/><circle cx="401.9" cy="168.5" r="1.6"/><circle cx="413.3" cy="168.5" r="1.6"/><circle cx="424.7" cy="168.5" r="1.6"/><circle cx="436.1" cy="168.5" r="1.6"/><circle cx="447.6" cy="168.5" r="1.6"/><circle cx="459.0" cy="168.5" r="1.6"/><circle cx="470.4" cy="168.5" r="1.6"/><circle cx="538.8" cy="168.5" r="1.6"/><circle cx="561.6" cy="168.5" r="1.6"/><circle cx="573.1" cy="168.5" r="1.6"/><circle cx="584.5" cy="168.5" r="1.6"/><circle cx="595.9" cy="168.5" r="1.6"/><circle cx="869.7" cy="168.5" r="1.6"/><circle cx="384.8" cy="174.2" r="1.6"/><circle cx="396.2" cy="174.2" r="1.6"/><circle cx="419.0" cy="174.2" r="1.6"/><circle cx="430.4" cy="174.2" r="1.6"/><circle cx="441.8" cy="174.2" r="1.6"/><circle cx="453.3" cy="174.2" r="1.6"/><circle cx="464.7" cy="174.2" r="1.6"/><circle cx="476.1" cy="174.2" r="1.6"/><circle cx="533.1" cy="174.2" r="1.6"/><circle cx="544.5" cy="174.2" r="1.6"/><circle cx="555.9" cy="174.2" r="1.6"/><circle cx="567.4" cy="174.2" r="1.6"/><circle cx="578.8" cy="174.2" r="1.6"/><circle cx="590.2" cy="174.2" r="1.6"/><circle cx="601.6" cy="174.2" r="1.6"/><circle cx="875.4" cy="174.2" r="1.6"/><circle cx="424.7" cy="179.9" r="1.6"/><circle cx="436.1" cy="179.9" r="1.6"/><circle cx="447.6" cy="179.9" r="1.6"/><circle cx="459.0" cy="179.9" r="1.6"/><circle cx="470.4" cy="179.9" r="1.6"/><circle cx="481.8" cy="179.9" r="1.6"/><circle cx="527.4" cy="179.9" r="1.6"/><circle cx="538.8" cy="179.9" r="1.6"/><circle cx="550.2" cy="179.9" r="1.6"/><circle cx="561.6" cy="179.9" r="1.6"/><circle cx="573.1" cy="179.9" r="1.6"/><circle cx="584.5" cy="179.9" r="1.6"/><circle cx="595.9" cy="179.9" r="1.6"/><circle cx="869.7" cy="179.9" r="1.6"/><circle cx="419.0" cy="185.6" r="1.6"/><circle cx="430.4" cy="185.6" r="1.6"/><circle cx="441.8" cy="185.6" r="1.6"/><circle cx="453.3" cy="185.6" r="1.6"/><circle cx="464.7" cy="185.6" r="1.6"/><circle cx="476.1" cy="185.6" r="1.6"/><circle cx="544.5" cy="185.6" r="1.6"/><circle cx="555.9" cy="185.6" r="1.6"/><circle cx="567.4" cy="185.6" r="1.6"/><circle cx="578.8" cy="185.6" r="1.6"/><circle cx="590.2" cy="185.6" r="1.6"/><circle cx="601.6" cy="185.6" r="1.6"/><circle cx="424.7" cy="191.3" r="1.6"/><circle cx="436.1" cy="191.3" r="1.6"/><circle cx="447.6" cy="191.3" r="1.6"/><circle cx="459.0" cy="191.3" r="1.6"/><circle cx="470.4" cy="191.3" r="1.6"/><circle cx="481.8" cy="191.3" r="1.6"/><circle cx="538.8" cy="191.3" r="1.6"/><circle cx="550.2" cy="191.3" r="1.6"/><circle cx="561.6" cy="191.3" r="1.6"/><circle cx="573.1" cy="191.3" r="1.6"/><circle cx="584.5" cy="191.3" r="1.6"/><circle cx="595.9" cy="191.3" r="1.6"/><circle cx="419.0" cy="197.0" r="1.6"/><circle cx="430.4" cy="197.0" r="1.6"/><circle cx="441.8" cy="197.0" r="1.6"/><circle cx="453.3" cy="197.0" r="1.6"/><circle cx="464.7" cy="197.0" r="1.6"/><circle cx="476.1" cy="197.0" r="1.6"/><circle cx="487.5" cy="197.0" r="1.6"/><circle cx="544.5" cy="197.0" r="1.6"/><circle cx="555.9" cy="197.0" r="1.6"/><circle cx="567.4" cy="197.0" r="1.6"/><circle cx="578.8" cy="197.0" r="1.6"/><circle cx="590.2" cy="197.0" r="1.6"/><circle cx="601.6" cy="197.0" r="1.6"/><circle cx="413.3" cy="202.7" r="1.6"/><circle cx="424.7" cy="202.7" r="1.6"/><circle cx="447.6" cy="202.7" r="1.6"/><circle cx="459.0" cy="202.7" r="1.6"/><circle cx="470.4" cy="202.7" r="1.6"/><circle cx="481.8" cy="202.7" r="1.6"/><circle cx="538.8" cy="202.7" r="1.6"/><circle cx="550.2" cy="202.7" r="1.6"/><circle cx="561.6" cy="202.7" r="1.6"/><circle cx="573.1" cy="202.7" r="1.6"/><circle cx="584.5" cy="202.7" r="1.6"/><circle cx="595.9" cy="202.7" r="1.6"/><circle cx="407.6" cy="208.4" r="1.6"/><circle cx="419.0" cy="208.4" r="1.6"/><circle cx="430.4" cy="208.4" r="1.6"/><circle cx="441.8" cy="208.4" r="1.6"/><circle cx="453.3" cy="208.4" r="1.6"/><circle cx="464.7" cy="208.4" r="1.6"/><circle cx="476.1" cy="208.4" r="1.6"/><circle cx="487.5" cy="208.4" r="1.6"/><circle cx="544.5" cy="208.4" r="1.6"/><circle cx="555.9" cy="208.4" r="1.6"/><circle cx="567.4" cy="208.4" r="1.6"/><circle cx="578.8" cy="208.4" r="1.6"/><circle cx="401.9" cy="214.1" r="1.6"/><circle cx="413.3" cy="214.1" r="1.6"/><circle cx="424.7" cy="214.1" r="1.6"/><circle cx="436.1" cy="214.1" r="1.6"/><circle cx="447.6" cy="214.1" r="1.6"/><circle cx="459.0" cy="214.1" r="1.6"/><circle cx="470.4" cy="214.1" r="1.6"/><circle cx="481.8" cy="214.1" r="1.6"/><circle cx="493.2" cy="214.1" r="1.6"/><circle cx="538.8" cy="214.1" r="1.6"/><circle cx="550.2" cy="214.1" r="1.6"/><circle cx="561.6" cy="214.1" r="1.6"/><circle cx="573.1" cy="214.1" r="1.6"/><circle cx="407.6" cy="219.8" r="1.6"/><circle cx="419.0" cy="219.8" r="1.6"/><circle cx="430.4" cy="219.8" r="1.6"/><circle cx="441.8" cy="219.8" r="1.6"/><circle cx="476.1" cy="219.8" r="1.6"/><circle cx="487.5" cy="219.8" r="1.6"/><circle cx="544.5" cy="219.8" r="1.6"/><circle cx="555.9" cy="219.8" r="1.6"/><circle cx="567.4" cy="219.8" r="1.6"/><circle cx="401.9" cy="225.6" r="1.6"/><circle cx="413.3" cy="225.6" r="1.6"/><circle cx="424.7" cy="225.6" r="1.6"/><circle cx="436.1" cy="225.6" r="1.6"/><circle cx="481.8" cy="225.6" r="1.6"/><circle cx="493.2" cy="225.6" r="1.6"/><circle cx="538.8" cy="225.6" r="1.6"/><circle cx="550.2" cy="225.6" r="1.6"/><circle cx="561.6" cy="225.6" r="1.6"/><circle cx="407.6" cy="231.3" r="1.6"/><circle cx="419.0" cy="231.3" r="1.6"/><circle cx="430.4" cy="231.3" r="1.6"/><circle cx="441.8" cy="231.3" r="1.6"/><circle cx="487.5" cy="231.3" r="1.6"/><circle cx="544.5" cy="231.3" r="1.6"/><circle cx="555.9" cy="231.3" r="1.6"/><circle cx="921.1" cy="231.3" r="1.6"/><circle cx="401.9" cy="237.0" r="1.6"/><circle cx="413.3" cy="237.0" r="1.6"/><circle cx="424.7" cy="237.0" r="1.6"/><circle cx="436.1" cy="237.0" r="1.6"/><circle cx="550.2" cy="237.0" r="1.6"/><circle cx="926.8" cy="237.0" r="1.6"/><circle cx="122.4" cy="242.7" r="1.6"/><circle cx="293.5" cy="242.7" r="1.6"/><circle cx="407.6" cy="242.7" r="1.6"/><circle cx="419.0" cy="242.7" r="1.6"/><circle cx="430.4" cy="242.7" r="1.6"/><circle cx="441.8" cy="242.7" r="1.6"/><circle cx="150.9" cy="248.4" r="1.6"/><circle cx="379.1" cy="248.4" r="1.6"/><circle cx="390.5" cy="248.4" r="1.6"/><circle cx="401.9" cy="248.4" r="1.6"/><circle cx="413.3" cy="248.4" r="1.6"/><circle cx="424.7" cy="248.4" r="1.6"/><circle cx="436.1" cy="248.4" r="1.6"/><circle cx="156.6" cy="254.1" r="1.6"/><circle cx="384.8" cy="254.1" r="1.6"/><circle cx="396.2" cy="254.1" r="1.6"/><circle cx="407.6" cy="254.1" r="1.6"/><circle cx="419.0" cy="254.1" r="1.6"/><circle cx="430.4" cy="254.1" r="1.6"/><circle cx="150.9" cy="259.8" r="1.6"/><circle cx="379.1" cy="259.8" r="1.6"/><circle cx="390.5" cy="259.8" r="1.6"/><circle cx="401.9" cy="259.8" r="1.6"/><circle cx="413.3" cy="259.8" r="1.6"/><circle cx="424.7" cy="259.8" r="1.6"/><circle cx="145.2" cy="265.5" r="1.6"/><circle cx="156.6" cy="265.5" r="1.6"/><circle cx="373.4" cy="265.5" r="1.6"/><circle cx="384.8" cy="265.5" r="1.6"/><circle cx="396.2" cy="265.5" r="1.6"/><circle cx="407.6" cy="265.5" r="1.6"/><circle cx="419.0" cy="265.5" r="1.6"/><circle cx="150.9" cy="271.2" r="1.6"/><circle cx="379.1" cy="271.2" r="1.6"/><circle cx="390.5" cy="271.2" r="1.6"/><circle cx="401.9" cy="271.2" r="1.6"/><circle cx="413.3" cy="271.2" r="1.6"/><circle cx="145.2" cy="276.9" r="1.6"/><circle cx="156.6" cy="276.9" r="1.6"/><circle cx="373.4" cy="276.9" r="1.6"/><circle cx="384.8" cy="276.9" r="1.6"/><circle cx="407.6" cy="276.9" r="1.6"/><circle cx="419.0" cy="276.9" r="1.6"/><circle cx="150.9" cy="282.7" r="1.6"/><circle cx="379.1" cy="282.7" r="1.6"/><circle cx="390.5" cy="282.7" r="1.6"/><circle cx="413.3" cy="282.7" r="1.6"/><circle cx="145.2" cy="288.4" r="1.6"/><circle cx="156.6" cy="288.4" r="1.6"/><circle cx="373.4" cy="288.4" r="1.6"/><circle cx="384.8" cy="288.4" r="1.6"/><circle cx="150.9" cy="294.1" r="1.6"/><circle cx="379.1" cy="294.1" r="1.6"/><circle cx="145.2" cy="299.8" r="1.6"/><circle cx="156.6" cy="299.8" r="1.6"/><circle cx="373.4" cy="299.8" r="1.6"/><circle cx="384.8" cy="299.8" r="1.6"/><circle cx="150.9" cy="305.5" r="1.6"/><circle cx="379.1" cy="305.5" r="1.6"/><circle cx="145.2" cy="311.2" r="1.6"/><circle cx="373.4" cy="311.2" r="1.6"/><circle cx="464.7" cy="311.2" r="1.6"/><circle cx="150.9" cy="316.9" r="1.6"/><circle cx="322.0" cy="316.9" r="1.6"/><circle cx="333.4" cy="316.9" r="1.6"/><circle cx="481.8" cy="316.9" r="1.6"/><circle cx="145.2" cy="322.6" r="1.6"/><circle cx="316.3" cy="322.6" r="1.6"/><circle cx="327.7" cy="322.6" r="1.6"/><circle cx="339.2" cy="322.6" r="1.6"/><circle cx="487.5" cy="322.6" r="1.6"/><circle cx="128.1" cy="328.3" r="1.6"/><circle cx="150.9" cy="328.3" r="1.6"/><circle cx="322.0" cy="328.3" r="1.6"/><circle cx="333.4" cy="328.3" r="1.6"/><circle cx="344.9" cy="328.3" r="1.6"/><circle cx="481.8" cy="328.3" r="1.6"/><circle cx="493.2" cy="328.3" r="1.6"/><circle cx="122.4" cy="334.0" r="1.6"/><circle cx="133.8" cy="334.0" r="1.6"/><circle cx="145.2" cy="334.0" r="1.6"/><circle cx="316.3" cy="334.0" r="1.6"/><circle cx="327.7" cy="334.0" r="1.6"/><circle cx="339.2" cy="334.0" r="1.6"/><circle cx="350.6" cy="334.0" r="1.6"/><circle cx="487.5" cy="334.0" r="1.6"/><circle cx="498.9" cy="334.0" r="1.6"/><circle cx="128.1" cy="339.8" r="1.6"/><circle cx="139.5" cy="339.8" r="1.6"/><circle cx="150.9" cy="339.8" r="1.6"/><circle cx="322.0" cy="339.8" r="1.6"/><circle cx="333.4" cy="339.8" r="1.6"/><circle cx="344.9" cy="339.8" r="1.6"/><circle cx="481.8" cy="339.8" r="1.6"/><circle cx="493.2" cy="339.8" r="1.6"/><circle cx="122.4" cy="345.5" r="1.6"/><circle cx="133.8" cy="345.5" r="1.6"/><circle cx="145.2" cy="345.5" r="1.6"/><circle cx="156.6" cy="345.5" r="1.6"/><circle cx="339.2" cy="345.5" r="1.6"/><circle cx="350.6" cy="345.5" r="1.6"/><circle cx="487.5" cy="345.5" r="1.6"/><circle cx="498.9" cy="345.5" r="1.6"/><circle cx="128.1" cy="351.2" r="1.6"/><circle cx="150.9" cy="351.2" r="1.6"/><circle cx="344.9" cy="351.2" r="1.6"/><circle cx="481.8" cy="351.2" r="1.6"/><circle cx="493.2" cy="351.2" r="1.6"/><circle cx="487.5" cy="356.9" r="1.6"/><circle cx="498.9" cy="356.9" r="1.6"/><circle cx="772.7" cy="356.9" r="1.6"/><circle cx="481.8" cy="362.6" r="1.6"/><circle cx="493.2" cy="362.6" r="1.6"/><circle cx="778.4" cy="362.6" r="1.6"/><circle cx="487.5" cy="368.3" r="1.6"/><circle cx="498.9" cy="368.3" r="1.6"/><circle cx="772.7" cy="368.3" r="1.6"/><circle cx="784.1" cy="368.3" r="1.6"/></g>
<g stroke="#000" stroke-width="4" stroke-dasharray="21 6">
<line x1="324" y1="77" x2="324" y2="371" stroke-dashoffset="4"/>
<line x1="460" y1="77" x2="460" y2="371" stroke-dashoffset="19"/>
</g>
<rect x="120.0" y="76.0" width="812.4" height="295.2" fill="none" stroke="#000" stroke-width="2.6"/>
<g stroke="#000" stroke-linecap="butt"><line x1="120.0" y1="76.0" x2="120.0" y2="56.5" stroke-width="2.8"/><line x1="120.0" y1="371.2" x2="120.0" y2="390.7" stroke-width="2.8"/><line x1="188.0" y1="76.0" x2="188.0" y2="66.0" stroke-width="1.8"/><line x1="188.0" y1="371.2" x2="188.0" y2="381.2" stroke-width="1.8"/><line x1="256.0" y1="76.0" x2="256.0" y2="56.5" stroke-width="2.8"/><line x1="256.0" y1="371.2" x2="256.0" y2="390.7" stroke-width="2.8"/><line x1="324.0" y1="76.0" x2="324.0" y2="66.0" stroke-width="1.8"/><line x1="324.0" y1="371.2" x2="324.0" y2="381.2" stroke-width="1.8"/><line x1="392.0" y1="76.0" x2="392.0" y2="56.5" stroke-width="2.8"/><line x1="392.0" y1="371.2" x2="392.0" y2="390.7" stroke-width="2.8"/><line x1="460.0" y1="76.0" x2="460.0" y2="66.0" stroke-width="1.8"/><line x1="460.0" y1="371.2" x2="460.0" y2="381.2" stroke-width="1.8"/><line x1="528.0" y1="76.0" x2="528.0" y2="56.5" stroke-width="2.8"/><line x1="528.0" y1="371.2" x2="528.0" y2="390.7" stroke-width="2.8"/><line x1="596.0" y1="76.0" x2="596.0" y2="66.0" stroke-width="1.8"/><line x1="596.0" y1="371.2" x2="596.0" y2="381.2" stroke-width="1.8"/><line x1="664.0" y1="76.0" x2="664.0" y2="56.5" stroke-width="2.8"/><line x1="664.0" y1="371.2" x2="664.0" y2="390.7" stroke-width="2.8"/><line x1="732.0" y1="76.0" x2="732.0" y2="66.0" stroke-width="1.8"/><line x1="732.0" y1="371.2" x2="732.0" y2="381.2" stroke-width="1.8"/><line x1="800.0" y1="76.0" x2="800.0" y2="56.5" stroke-width="2.8"/><line x1="800.0" y1="371.2" x2="800.0" y2="390.7" stroke-width="2.8"/><line x1="868.0" y1="76.0" x2="868.0" y2="66.0" stroke-width="1.8"/><line x1="868.0" y1="371.2" x2="868.0" y2="381.2" stroke-width="1.8"/><line x1="932.4" y1="76.0" x2="932.4" y2="56.5" stroke-width="2.8"/><line x1="932.4" y1="371.2" x2="932.4" y2="390.7" stroke-width="2.8"/><line x1="120.0" y1="76.0" x2="100.5" y2="76.0" stroke-width="2.8"/><line x1="932.4" y1="76.0" x2="951.9" y2="76.0" stroke-width="2.8"/><line x1="120.0" y1="135.0" x2="100.5" y2="135.0" stroke-width="2.8"/><line x1="932.4" y1="135.0" x2="951.9" y2="135.0" stroke-width="2.8"/><line x1="120.0" y1="194.1" x2="100.5" y2="194.1" stroke-width="2.8"/><line x1="932.4" y1="194.1" x2="951.9" y2="194.1" stroke-width="2.8"/><line x1="120.0" y1="253.1" x2="100.5" y2="253.1" stroke-width="2.8"/><line x1="932.4" y1="253.1" x2="951.9" y2="253.1" stroke-width="2.8"/><line x1="120.0" y1="312.2" x2="100.5" y2="312.2" stroke-width="2.8"/><line x1="932.4" y1="312.2" x2="951.9" y2="312.2" stroke-width="2.8"/><line x1="120.0" y1="371.2" x2="100.5" y2="371.2" stroke-width="2.8"/><line x1="932.4" y1="371.2" x2="951.9" y2="371.2" stroke-width="2.8"/></g>
<text x="51" y="27.5" font-size="36.4">(A) Outgoing Longwave Radiation for NP SWI &gt; 1.0 events</text>
<text x="82.5" y="86.0" font-size="28" text-anchor="end">5</text><text x="82.5" y="145.0" font-size="28" text-anchor="end">0</text><text x="82.5" y="204.1" font-size="28" text-anchor="end">-5</text><text x="82.5" y="263.1" font-size="28" text-anchor="end">-10</text><text x="82.5" y="322.2" font-size="28" text-anchor="end">-15</text><text x="82.5" y="381.2" font-size="28" text-anchor="end">-20</text><text x="120.0" y="427.5" font-size="26.5" text-anchor="middle">0</text><text x="256.0" y="427.5" font-size="26.5" text-anchor="middle">60°E</text><text x="392.0" y="427.5" font-size="26.5" text-anchor="middle">120°E</text><text x="528.0" y="427.5" font-size="26.5" text-anchor="middle">180°E</text><text x="664.0" y="427.5" font-size="26.5" text-anchor="middle">120°W</text><text x="800.0" y="427.5" font-size="26.5" text-anchor="middle">60°W</text><text x="932.4" y="427.5" font-size="26.5" text-anchor="middle">0</text>
<text x="526" y="458.6" font-size="23" text-anchor="middle">Longitude</text>
<text transform="translate(20.6,227) rotate(-90)" font-size="28" text-anchor="middle">Lag days</text>
<rect x="122.00" y="480.5" width="18.57" height="29.9" fill="#0a1e48"/><rect x="140.56" y="480.5" width="18.57" height="29.9" fill="#0a1e48"/><rect x="159.13" y="480.5" width="18.57" height="29.9" fill="#0a1e48"/><rect x="177.69" y="480.5" width="18.57" height="29.9" fill="#08306b"/><rect x="196.26" y="480.5" width="18.57" height="29.9" fill="#08306b"/><rect x="214.82" y="480.5" width="18.57" height="29.9" fill="#08306b"/><rect x="233.39" y="480.5" width="18.57" height="29.9" fill="#08519c"/><rect x="251.96" y="480.5" width="18.57" height="29.9" fill="#08519c"/><rect x="270.52" y="480.5" width="18.57" height="29.9" fill="#2171b5"/><rect x="289.09" y="480.5" width="18.57" height="29.9" fill="#2171b5"/><rect x="307.65" y="480.5" width="18.57" height="29.9" fill="#4292c6"/><rect x="326.22" y="480.5" width="18.57" height="29.9" fill="#4292c6"/><rect x="344.78" y="480.5" width="18.57" height="29.9" fill="#5aa0cd"/><rect x="363.35" y="480.5" width="18.57" height="29.9" fill="#5aa0cd"/><rect x="381.91" y="480.5" width="18.57" height="29.9" fill="#7bc0d6"/><rect x="400.48" y="480.5" width="18.57" height="29.9" fill="#7bc0d6"/><rect x="419.04" y="480.5" width="18.57" height="29.9" fill="#a9dbe3"/><rect x="437.61" y="480.5" width="18.57" height="29.9" fill="#a9dbe3"/><rect x="456.17" y="480.5" width="18.57" height="29.9" fill="#ddf3fb"/><rect x="474.74" y="480.5" width="18.57" height="29.9" fill="#ddf3fb"/><rect x="493.30" y="480.5" width="18.57" height="29.9" fill="#ffffff"/><rect x="511.87" y="480.5" width="18.57" height="29.9" fill="#ffffff"/><rect x="530.43" y="480.5" width="18.57" height="29.9" fill="#fddcdc"/><rect x="549.00" y="480.5" width="18.57" height="29.9" fill="#fddcdc"/><rect x="567.56" y="480.5" width="18.57" height="29.9" fill="#fcb6a0"/><rect x="586.12" y="480.5" width="18.57" height="29.9" fill="#fcb6a0"/><rect x="604.69" y="480.5" width="18.57" height="29.9" fill="#fc9070"/><rect x="623.26" y="480.5" width="18.57" height="29.9" fill="#fc9070"/><rect x="641.82" y="480.5" width="18.57" height="29.9" fill="#fb6a4a"/><rect x="660.38" y="480.5" width="18.57" height="29.9" fill="#fb6a4a"/><rect x="678.95" y="480.5" width="18.57" height="29.9" fill="#ef3b2c"/><rect x="697.51" y="480.5" width="18.57" height="29.9" fill="#ef3b2c"/><rect x="716.08" y="480.5" width="18.57" height="29.9" fill="#cf1c23"/><rect x="734.65" y="480.5" width="18.57" height="29.9" fill="#cf1c23"/><rect x="753.21" y="480.5" width="18.57" height="29.9" fill="#a51218"/><rect x="771.78" y="480.5" width="18.57" height="29.9" fill="#a51218"/><rect x="790.34" y="480.5" width="18.57" height="29.9" fill="#7a0a12"/><rect x="808.91" y="480.5" width="18.57" height="29.9" fill="#7a0a12"/><rect x="827.47" y="480.5" width="18.57" height="29.9" fill="#7a0a12"/><rect x="846.04" y="480.5" width="18.57" height="29.9" fill="#5f0000"/><rect x="864.60" y="480.5" width="18.57" height="29.9" fill="#5f0000"/><rect x="883.17" y="480.5" width="18.57" height="29.9" fill="#5f0000"/><line x1="140.56" y1="480.5" x2="140.56" y2="510.4" stroke="#000" stroke-width="1.4"/><line x1="159.13" y1="480.5" x2="159.13" y2="510.4" stroke="#000" stroke-width="1.4"/><line x1="177.69" y1="480.5" x2="177.69" y2="510.4" stroke="#000" stroke-width="1.4"/><line x1="196.26" y1="480.5" x2="196.26" y2="510.4" stroke="#000" stroke-width="1.4"/><line x1="214.82" y1="480.5" x2="214.82" y2="510.4" stroke="#000" stroke-width="1.4"/><line x1="233.39" y1="480.5" x2="233.39" y2="510.4" stroke="#000" stroke-width="1.4"/><line x1="251.96" y1="480.5" x2="251.96" y2="510.4" stroke="#000" stroke-width="1.4"/><line x1="270.52" y1="480.5" x2="270.52" y2="510.4" stroke="#000" stroke-width="1.4"/><line x1="289.09" y1="480.5" x2="289.09" y2="510.4" stroke="#000" stroke-width="1.4"/><line x1="307.65" y1="480.5" x2="307.65" y2="510.4" stroke="#000" stroke-width="1.4"/><line x1="326.22" y1="480.5" x2="326.22" y2="510.4" stroke="#000" stroke-width="1.4"/><line x1="344.78" y1="480.5" x2="344.78" y2="510.4" stroke="#000" stroke-width="1.4"/><line x1="363.35" y1="480.5" x2="363.35" y2="510.4" stroke="#000" stroke-width="1.4"/><line x1="381.91" y1="480.5" x2="381.91" y2="510.4" stroke="#000" stroke-width="1.4"/><line x1="400.48" y1="480.5" x2="400.48" y2="510.4" stroke="#000" stroke-width="1.4"/><line x1="419.04" y1="480.5" x2="419.04" y2="510.4" stroke="#000" stroke-width="1.4"/><line x1="437.61" y1="480.5" x2="437.61" y2="510.4" stroke="#000" stroke-width="1.4"/><line x1="456.17" y1="480.5" x2="456.17" y2="510.4" stroke="#000" stroke-width="1.4"/><line x1="474.74" y1="480.5" x2="474.74" y2="510.4" stroke="#000" stroke-width="1.4"/><line x1="493.30" y1="480.5" x2="493.30" y2="510.4" stroke="#000" stroke-width="1.4"/><line x1="511.87" y1="480.5" x2="511.87" y2="510.4" stroke="#000" stroke-width="1.4"/><line x1="530.43" y1="480.5" x2="530.43" y2="510.4" stroke="#000" stroke-width="1.4"/><line x1="549.00" y1="480.5" x2="549.00" y2="510.4" stroke="#000" stroke-width="1.4"/><line x1="567.56" y1="480.5" x2="567.56" y2="510.4" stroke="#000" stroke-width="1.4"/><line x1="586.12" y1="480.5" x2="586.12" y2="510.4" stroke="#000" stroke-width="1.4"/><line x1="604.69" y1="480.5" x2="604.69" y2="510.4" stroke="#000" stroke-width="1.4"/><line x1="623.26" y1="480.5" x2="623.26" y2="510.4" stroke="#000" stroke-width="1.4"/><line x1="641.82" y1="480.5" x2="641.82" y2="510.4" stroke="#000" stroke-width="1.4"/><line x1="660.38" y1="480.5" x2="660.38" y2="510.4" stroke="#000" stroke-width="1.4"/><line x1="678.95" y1="480.5" x2="678.95" y2="510.4" stroke="#000" stroke-width="1.4"/><line x1="697.51" y1="480.5" x2="697.51" y2="510.4" stroke="#000" stroke-width="1.4"/><line x1="716.08" y1="480.5" x2="716.08" y2="510.4" stroke="#000" stroke-width="1.4"/><line x1="734.65" y1="480.5" x2="734.65" y2="510.4" stroke="#000" stroke-width="1.4"/><line x1="753.21" y1="480.5" x2="753.21" y2="510.4" stroke="#000" stroke-width="1.4"/><line x1="771.78" y1="480.5" x2="771.78" y2="510.4" stroke="#000" stroke-width="1.4"/><line x1="790.34" y1="480.5" x2="790.34" y2="510.4" stroke="#000" stroke-width="1.4"/><line x1="808.91" y1="480.5" x2="808.91" y2="510.4" stroke="#000" stroke-width="1.4"/><line x1="827.47" y1="480.5" x2="827.47" y2="510.4" stroke="#000" stroke-width="1.4"/><line x1="846.04" y1="480.5" x2="846.04" y2="510.4" stroke="#000" stroke-width="1.4"/><line x1="864.60" y1="480.5" x2="864.60" y2="510.4" stroke="#000" stroke-width="1.4"/><line x1="883.17" y1="480.5" x2="883.17" y2="510.4" stroke="#000" stroke-width="1.4"/><rect x="122.00" y="480.5" width="779.73" height="29.9" fill="none" stroke="#000" stroke-width="1.6"/>
<text x="177.7" y="536.4" font-size="23.8" text-anchor="middle">-5.4</text><text x="233.4" y="536.4" font-size="23.8" text-anchor="middle">-4.5</text><text x="289.1" y="536.4" font-size="23.8" text-anchor="middle">-3.6</text><text x="344.8" y="536.4" font-size="23.8" text-anchor="middle">-2.7</text><text x="400.5" y="536.4" font-size="23.8" text-anchor="middle">-1.8</text><text x="456.2" y="536.4" font-size="23.8" text-anchor="middle">-0.9</text><text x="511.9" y="536.4" font-size="23.8" text-anchor="middle">0</text><text x="567.6" y="536.4" font-size="23.8" text-anchor="middle">0.9</text><text x="623.3" y="536.4" font-size="23.8" text-anchor="middle">1.8</text><text x="679.0" y="536.4" font-size="23.8" text-anchor="middle">2.7</text><text x="734.6" y="536.4" font-size="23.8" text-anchor="middle">3.6</text><text x="790.3" y="536.4" font-size="23.8" text-anchor="middle">4.5</text><text x="846.0" y="536.4" font-size="23.8" text-anchor="middle">5.4</text>
<text x="241" y="572" font-size="25.75">Outgoing Longwave Radiation Anomaly (W m<tspan font-size="14" dy="-12.5">-2</tspan><tspan dy="12.5">)</tspan></text>
<text transform="translate(49,688.4) scale(1,1.05)" font-size="40.4">(B) Composites of Indices for NP SWI &gt; 1.0 events</text>
<g stroke="#000"><line x1="91.5" y1="741.3" x2="91.5" y2="730.8" stroke-width="1.8"/><line x1="91.5" y1="1097.3" x2="91.5" y2="1107.8" stroke-width="1.8"/><line x1="123.2" y1="741.3" x2="123.2" y2="730.8" stroke-width="1.8"/><line x1="123.2" y1="1097.3" x2="123.2" y2="1107.8" stroke-width="1.8"/><line x1="154.9" y1="741.3" x2="154.9" y2="730.8" stroke-width="1.8"/><line x1="154.9" y1="1097.3" x2="154.9" y2="1107.8" stroke-width="1.8"/><line x1="186.6" y1="741.3" x2="186.6" y2="721.3" stroke-width="3.0"/><line x1="186.6" y1="1097.3" x2="186.6" y2="1117.3" stroke-width="3.0"/><line x1="218.3" y1="741.3" x2="218.3" y2="730.8" stroke-width="1.8"/><line x1="218.3" y1="1097.3" x2="218.3" y2="1107.8" stroke-width="1.8"/><line x1="250.0" y1="741.3" x2="250.0" y2="730.8" stroke-width="1.8"/><line x1="250.0" y1="1097.3" x2="250.0" y2="1107.8" stroke-width="1.8"/><line x1="281.7" y1="741.3" x2="281.7" y2="730.8" stroke-width="1.8"/><line x1="281.7" y1="1097.3" x2="281.7" y2="1107.8" stroke-width="1.8"/><line x1="313.3" y1="741.3" x2="313.3" y2="730.8" stroke-width="1.8"/><line x1="313.3" y1="1097.3" x2="313.3" y2="1107.8" stroke-width="1.8"/><line x1="345.0" y1="741.3" x2="345.0" y2="721.3" stroke-width="3.0"/><line x1="345.0" y1="1097.3" x2="345.0" y2="1117.3" stroke-width="3.0"/><line x1="376.7" y1="741.3" x2="376.7" y2="730.8" stroke-width="1.8"/><line x1="376.7" y1="1097.3" x2="376.7" y2="1107.8" stroke-width="1.8"/><line x1="408.4" y1="741.3" x2="408.4" y2="730.8" stroke-width="1.8"/><line x1="408.4" y1="1097.3" x2="408.4" y2="1107.8" stroke-width="1.8"/><line x1="440.1" y1="741.3" x2="440.1" y2="730.8" stroke-width="1.8"/><line x1="440.1" y1="1097.3" x2="440.1" y2="1107.8" stroke-width="1.8"/><line x1="471.8" y1="741.3" x2="471.8" y2="730.8" stroke-width="1.8"/><line x1="471.8" y1="1097.3" x2="471.8" y2="1107.8" stroke-width="1.8"/><line x1="503.5" y1="741.3" x2="503.5" y2="721.3" stroke-width="3.0"/><line x1="503.5" y1="1097.3" x2="503.5" y2="1117.3" stroke-width="3.0"/><line x1="535.2" y1="741.3" x2="535.2" y2="730.8" stroke-width="1.8"/><line x1="535.2" y1="1097.3" x2="535.2" y2="1107.8" stroke-width="1.8"/><line x1="566.9" y1="741.3" x2="566.9" y2="730.8" stroke-width="1.8"/><line x1="566.9" y1="1097.3" x2="566.9" y2="1107.8" stroke-width="1.8"/><line x1="598.6" y1="741.3" x2="598.6" y2="730.8" stroke-width="1.8"/><line x1="598.6" y1="1097.3" x2="598.6" y2="1107.8" stroke-width="1.8"/><line x1="630.3" y1="741.3" x2="630.3" y2="730.8" stroke-width="1.8"/><line x1="630.3" y1="1097.3" x2="630.3" y2="1107.8" stroke-width="1.8"/><line x1="662.0" y1="741.3" x2="662.0" y2="721.3" stroke-width="3.0"/><line x1="662.0" y1="1097.3" x2="662.0" y2="1117.3" stroke-width="3.0"/><line x1="693.7" y1="741.3" x2="693.7" y2="730.8" stroke-width="1.8"/><line x1="693.7" y1="1097.3" x2="693.7" y2="1107.8" stroke-width="1.8"/><line x1="725.3" y1="741.3" x2="725.3" y2="730.8" stroke-width="1.8"/><line x1="725.3" y1="1097.3" x2="725.3" y2="1107.8" stroke-width="1.8"/><line x1="757.0" y1="741.3" x2="757.0" y2="730.8" stroke-width="1.8"/><line x1="757.0" y1="1097.3" x2="757.0" y2="1107.8" stroke-width="1.8"/><line x1="788.7" y1="741.3" x2="788.7" y2="730.8" stroke-width="1.8"/><line x1="788.7" y1="1097.3" x2="788.7" y2="1107.8" stroke-width="1.8"/><line x1="820.4" y1="741.3" x2="820.4" y2="721.3" stroke-width="3.0"/><line x1="820.4" y1="1097.3" x2="820.4" y2="1117.3" stroke-width="3.0"/><line x1="852.1" y1="741.3" x2="852.1" y2="730.8" stroke-width="1.8"/><line x1="852.1" y1="1097.3" x2="852.1" y2="1107.8" stroke-width="1.8"/><line x1="883.8" y1="741.3" x2="883.8" y2="730.8" stroke-width="1.8"/><line x1="883.8" y1="1097.3" x2="883.8" y2="1107.8" stroke-width="1.8"/><line x1="915.5" y1="741.3" x2="915.5" y2="730.8" stroke-width="1.8"/><line x1="915.5" y1="1097.3" x2="915.5" y2="1107.8" stroke-width="1.8"/><line x1="91.5" y1="1090.2" x2="81.0" y2="1090.2" stroke-width="1.8"/><line x1="915.5" y1="1090.2" x2="926.0" y2="1090.2" stroke-width="1.8"/><line x1="91.5" y1="1075.9" x2="81.0" y2="1075.9" stroke-width="1.8"/><line x1="915.5" y1="1075.9" x2="926.0" y2="1075.9" stroke-width="1.8"/><line x1="91.5" y1="1061.7" x2="70.5" y2="1061.7" stroke-width="3.5"/><line x1="915.5" y1="1061.7" x2="936.5" y2="1061.7" stroke-width="3.5"/><line x1="91.5" y1="1047.5" x2="81.0" y2="1047.5" stroke-width="1.8"/><line x1="915.5" y1="1047.5" x2="926.0" y2="1047.5" stroke-width="1.8"/><line x1="91.5" y1="1033.2" x2="81.0" y2="1033.2" stroke-width="1.8"/><line x1="915.5" y1="1033.2" x2="926.0" y2="1033.2" stroke-width="1.8"/><line x1="91.5" y1="1019.0" x2="81.0" y2="1019.0" stroke-width="1.8"/><line x1="915.5" y1="1019.0" x2="926.0" y2="1019.0" stroke-width="1.8"/><line x1="91.5" y1="1004.7" x2="81.0" y2="1004.7" stroke-width="1.8"/><line x1="915.5" y1="1004.7" x2="926.0" y2="1004.7" stroke-width="1.8"/><line x1="91.5" y1="990.5" x2="70.5" y2="990.5" stroke-width="3.5"/><line x1="915.5" y1="990.5" x2="936.5" y2="990.5" stroke-width="3.5"/><line x1="91.5" y1="976.3" x2="81.0" y2="976.3" stroke-width="1.8"/><line x1="915.5" y1="976.3" x2="926.0" y2="976.3" stroke-width="1.8"/><line x1="91.5" y1="962.0" x2="81.0" y2="962.0" stroke-width="1.8"/><line x1="915.5" y1="962.0" x2="926.0" y2="962.0" stroke-width="1.8"/><line x1="91.5" y1="947.8" x2="81.0" y2="947.8" stroke-width="1.8"/><line x1="915.5" y1="947.8" x2="926.0" y2="947.8" stroke-width="1.8"/><line x1="91.5" y1="933.5" x2="81.0" y2="933.5" stroke-width="1.8"/><line x1="915.5" y1="933.5" x2="926.0" y2="933.5" stroke-width="1.8"/><line x1="91.5" y1="919.3" x2="70.5" y2="919.3" stroke-width="3.5"/><line x1="915.5" y1="919.3" x2="936.5" y2="919.3" stroke-width="3.5"/><line x1="91.5" y1="905.1" x2="81.0" y2="905.1" stroke-width="1.8"/><line x1="915.5" y1="905.1" x2="926.0" y2="905.1" stroke-width="1.8"/><line x1="91.5" y1="890.8" x2="81.0" y2="890.8" stroke-width="1.8"/><line x1="915.5" y1="890.8" x2="926.0" y2="890.8" stroke-width="1.8"/><line x1="91.5" y1="876.6" x2="81.0" y2="876.6" stroke-width="1.8"/><line x1="915.5" y1="876.6" x2="926.0" y2="876.6" stroke-width="1.8"/><line x1="91.5" y1="862.3" x2="81.0" y2="862.3" stroke-width="1.8"/><line x1="915.5" y1="862.3" x2="926.0" y2="862.3" stroke-width="1.8"/><line x1="91.5" y1="848.1" x2="70.5" y2="848.1" stroke-width="3.5"/><line x1="915.5" y1="848.1" x2="936.5" y2="848.1" stroke-width="3.5"/><line x1="91.5" y1="833.9" x2="81.0" y2="833.9" stroke-width="1.8"/><line x1="915.5" y1="833.9" x2="926.0" y2="833.9" stroke-width="1.8"/><line x1="91.5" y1="819.6" x2="81.0" y2="819.6" stroke-width="1.8"/><line x1="915.5" y1="819.6" x2="926.0" y2="819.6" stroke-width="1.8"/><line x1="91.5" y1="805.4" x2="81.0" y2="805.4" stroke-width="1.8"/><line x1="915.5" y1="805.4" x2="926.0" y2="805.4" stroke-width="1.8"/><line x1="91.5" y1="791.1" x2="81.0" y2="791.1" stroke-width="1.8"/><line x1="915.5" y1="791.1" x2="926.0" y2="791.1" stroke-width="1.8"/><line x1="91.5" y1="776.9" x2="70.5" y2="776.9" stroke-width="3.5"/><line x1="915.5" y1="776.9" x2="936.5" y2="776.9" stroke-width="3.5"/><line x1="91.5" y1="762.7" x2="81.0" y2="762.7" stroke-width="1.8"/><line x1="915.5" y1="762.7" x2="926.0" y2="762.7" stroke-width="1.8"/><line x1="91.5" y1="748.4" x2="81.0" y2="748.4" stroke-width="1.8"/><line x1="915.5" y1="748.4" x2="926.0" y2="748.4" stroke-width="1.8"/></g>
<text x="52.5" y="786.7" font-size="27" text-anchor="end">2.0</text><text x="953.5" y="786.7" font-size="27">2.0</text><text x="52.5" y="857.9" font-size="27" text-anchor="end">1.0</text><text x="953.5" y="857.9" font-size="27">1.0</text><text x="52.5" y="929.1" font-size="27" text-anchor="end">0.0</text><text x="953.5" y="929.1" font-size="27">0.0</text><text x="52.5" y="1000.3" font-size="27" text-anchor="end">-1.0</text><text x="953.5" y="1000.3" font-size="27">-1.0</text><text x="52.5" y="1071.5" font-size="27" text-anchor="end">-2.0</text><text x="953.5" y="1071.5" font-size="27">-2.0</text><text x="186.6" y="1156" font-size="27" text-anchor="middle">-10</text><text x="345.0" y="1156" font-size="27" text-anchor="middle">-5</text><text x="503.5" y="1156" font-size="27" text-anchor="middle">0</text><text x="662.0" y="1156" font-size="27" text-anchor="middle">5</text><text x="820.4" y="1156" font-size="27" text-anchor="middle">10</text>
<text x="503" y="1193.7" font-size="27.7" text-anchor="middle">Lag (days)</text>
<defs><clipPath id="bc"><rect x="91.5" y="741.3" width="824.0" height="356.0"/></clipPath></defs>
<g clip-path="url(#bc)" fill="none" stroke-linejoin="round"><polyline points="91.5,924.0 123.2,922.5 154.9,921.7 186.6,921.7 218.3,922.9 250.0,920.0 281.7,915.0 313.3,912.9 345.0,907.2 376.7,894.4 408.4,880.1 440.1,860.9 471.8,824.1 503.5,801.8 535.2,822.5 566.9,853.1 598.6,876.6 630.3,896.2 662.0,908.1 693.7,917.2 725.3,927.5 757.0,933.9 788.7,935.7 820.4,929.3 852.1,924.6 883.8,923.2 915.5,919.3" stroke="#cc0000" stroke-width="3.5"/><polyline points="345.0,907.2 376.7,894.4 408.4,880.1 440.1,860.9 471.8,824.1 503.5,801.8 535.2,822.5 566.9,853.1 598.6,876.6 630.3,896.2" stroke="#cc0000" stroke-width="9.2" stroke-linejoin="miter"/><polyline points="757.0,933.9 788.7,935.7" stroke="#cc0000" stroke-width="9.2" stroke-linejoin="miter"/><polyline points="91.5,950.6 123.2,963.4 154.9,969.9 186.6,977.7 218.3,973.1 250.0,960.6 281.7,944.6 313.3,928.2 345.0,917.9 376.7,915.2 408.4,919.3 440.1,910.0 471.8,894.4 503.5,913.1 535.2,954.9 566.9,977.7 598.6,1026.1 630.3,1061.7 662.0,1069.5 693.7,1049.6 725.3,1018.3 757.0,1006.2 788.7,987.7 820.4,977.7 852.1,972.7 883.8,969.5 915.5,954.5" stroke="#cd919e" stroke-width="3.5"/><polyline points="598.6,1026.1 630.3,1061.7 662.0,1069.5 693.7,1049.6 725.3,1018.3" stroke="#cd919e" stroke-width="9.2" stroke-linejoin="miter"/><polyline points="91.5,969.1 123.2,983.4 154.9,996.9 186.6,1003.0 218.3,1003.3 250.0,993.3 281.7,989.1 313.3,993.3 345.0,993.3 376.7,1005.5 408.4,1016.8 440.1,1006.2 471.8,1001.2 503.5,982.7 535.2,957.4 566.9,927.1 598.6,919.3 630.3,914.3 662.0,909.5 693.7,915.6 725.3,902.2 757.0,897.6 788.7,903.6 820.4,904.5 852.1,920.0 883.8,917.2 915.5,918.9" stroke="#006400" stroke-width="3.5"/><polyline points="123.2,983.4 154.9,996.9 186.6,1003.0 218.3,1003.3 250.0,993.3 281.7,989.1 313.3,993.3 345.0,993.3 376.7,1005.5 408.4,1016.8 440.1,1006.2 471.8,1001.2 503.5,982.7" stroke="#006400" stroke-width="9.2" stroke-linejoin="miter"/><polyline points="91.5,905.8 123.2,904.7 154.9,899.4 186.6,896.2 218.3,896.5 250.0,894.0 281.7,882.3 313.3,862.3 345.0,838.8 376.7,816.3 408.4,806.1 440.1,794.7 471.8,806.1 503.5,854.7 535.2,890.8 566.9,896.5 598.6,901.1 630.3,904.5 662.0,897.6 693.7,889.5 725.3,889.4 757.0,895.4 788.7,899.7 820.4,896.7 852.1,900.1 883.8,897.6 915.5,898.7" stroke="#a020f0" stroke-width="3.5"/><polyline points="313.3,862.3 345.0,838.8 376.7,816.3 408.4,806.1 440.1,794.7 471.8,806.1 503.5,854.7" stroke="#a020f0" stroke-width="9.2" stroke-linejoin="miter"/><polyline points="91.5,884.6 123.2,897.2 154.9,934.3 186.6,947.1 218.3,964.2 250.0,967.0 281.7,959.5 313.3,963.4 345.0,951.3 376.7,941.4 408.4,930.3 440.1,887.3 471.8,894.4 503.5,885.8 535.2,921.1 566.9,940.7 598.6,949.2 630.3,943.9 662.0,933.5 693.7,921.4 725.3,928.9 757.0,947.8 788.7,941.4 820.4,941.0 852.1,932.8 883.8,942.8 915.5,953.1" stroke="#ffa500" stroke-width="3.5"/><polyline points="186.6,947.1 218.3,964.2 250.0,967.0 281.7,959.5 313.3,963.4 345.0,951.3" stroke="#ffa500" stroke-width="9.2" stroke-linejoin="miter"/><line x1="91.5" y1="919.4" x2="915.5" y2="919.4" stroke="#000" stroke-width="2.7"/><circle cx="345.0" cy="907.2" r="4.1" fill="#000" stroke="none"/><circle cx="376.7" cy="894.4" r="4.1" fill="#000" stroke="none"/><circle cx="408.4" cy="880.1" r="4.1" fill="#000" stroke="none"/><circle cx="440.1" cy="860.9" r="4.1" fill="#000" stroke="none"/><circle cx="471.8" cy="824.1" r="4.1" fill="#000" stroke="none"/><circle cx="503.5" cy="801.8" r="4.1" fill="#000" stroke="none"/><circle cx="535.2" cy="822.5" r="4.1" fill="#000" stroke="none"/><circle cx="566.9" cy="853.1" r="4.1" fill="#000" stroke="none"/><circle cx="598.6" cy="876.6" r="4.1" fill="#000" stroke="none"/><circle cx="630.3" cy="896.2" r="4.1" fill="#000" stroke="none"/><circle cx="757.0" cy="933.9" r="4.1" fill="#000" stroke="none"/><circle cx="788.7" cy="935.7" r="4.1" fill="#000" stroke="none"/><circle cx="598.6" cy="1026.1" r="4.1" fill="#000" stroke="none"/><circle cx="630.3" cy="1061.7" r="4.1" fill="#000" stroke="none"/><circle cx="662.0" cy="1069.5" r="4.1" fill="#000" stroke="none"/><circle cx="693.7" cy="1049.6" r="4.1" fill="#000" stroke="none"/><circle cx="725.3" cy="1018.3" r="4.1" fill="#000" stroke="none"/><circle cx="123.2" cy="983.4" r="4.1" fill="#000" stroke="none"/><circle cx="154.9" cy="996.9" r="4.1" fill="#000" stroke="none"/><circle cx="186.6" cy="1003.0" r="4.1" fill="#000" stroke="none"/><circle cx="218.3" cy="1003.3" r="4.1" fill="#000" stroke="none"/><circle cx="250.0" cy="993.3" r="4.1" fill="#000" stroke="none"/><circle cx="281.7" cy="989.1" r="4.1" fill="#000" stroke="none"/><circle cx="313.3" cy="993.3" r="4.1" fill="#000" stroke="none"/><circle cx="345.0" cy="993.3" r="4.1" fill="#000" stroke="none"/><circle cx="376.7" cy="1005.5" r="4.1" fill="#000" stroke="none"/><circle cx="408.4" cy="1016.8" r="4.1" fill="#000" stroke="none"/><circle cx="440.1" cy="1006.2" r="4.1" fill="#000" stroke="none"/><circle cx="471.8" cy="1001.2" r="4.1" fill="#000" stroke="none"/><circle cx="503.5" cy="982.7" r="4.1" fill="#000" stroke="none"/><circle cx="313.3" cy="862.3" r="4.1" fill="#000" stroke="none"/><circle cx="345.0" cy="838.8" r="4.1" fill="#000" stroke="none"/><circle cx="376.7" cy="816.3" r="4.1" fill="#000" stroke="none"/><circle cx="408.4" cy="806.1" r="4.1" fill="#000" stroke="none"/><circle cx="440.1" cy="794.7" r="4.1" fill="#000" stroke="none"/><circle cx="471.8" cy="806.1" r="4.1" fill="#000" stroke="none"/><circle cx="503.5" cy="854.7" r="4.1" fill="#000" stroke="none"/><circle cx="186.6" cy="947.1" r="4.1" fill="#000" stroke="none"/><circle cx="218.3" cy="964.2" r="4.1" fill="#000" stroke="none"/><circle cx="250.0" cy="967.0" r="4.1" fill="#000" stroke="none"/><circle cx="281.7" cy="959.5" r="4.1" fill="#000" stroke="none"/><circle cx="313.3" cy="963.4" r="4.1" fill="#000" stroke="none"/><circle cx="345.0" cy="951.3" r="4.1" fill="#000" stroke="none"/></g>
<rect x="91.5" y="741.3" width="824.0" height="356.0" fill="none" stroke="#000" stroke-width="2.4"/>
<line x1="642.5" y1="758.8" x2="677" y2="758.8" stroke="#cc0000" stroke-width="5" stroke-linecap="round"/><text x="700" y="764.4" font-size="15.5">SWI value</text><line x1="642.5" y1="787.3" x2="677" y2="787.3" stroke="#a020f0" stroke-width="5" stroke-linecap="round"/><text x="700" y="792.9" font-size="15.5">Eurasia wave train (m<tspan font-size="9.5" dy="-6.5">2</tspan><tspan dy="6.5"> s</tspan><tspan font-size="9.5" dy="-6.5">-2</tspan><tspan dy="6.5">)</tspan></text><line x1="642.5" y1="815.8" x2="677" y2="815.8" stroke="#006400" stroke-width="5" stroke-linecap="round"/><line x1="642.5" y1="844.3" x2="677" y2="844.3" stroke="#cd919e" stroke-width="5" stroke-linecap="round"/><text x="700" y="849.9" font-size="15.5">u50 (m s<tspan font-size="9.5" dy="-6.5">-1</tspan><tspan dy="6.5">)</tspan></text><line x1="642.5" y1="872.8" x2="677" y2="872.8" stroke="#ffa500" stroke-width="5" stroke-linecap="round"/><text x="700" y="878.4" font-size="15.5">3× Transient eddy forcing</text><text x="714.2" y="813.2" font-size="14.5" text-anchor="middle">1</text><line x1="701" y1="815.8" x2="727.5" y2="815.8" stroke="#000" stroke-width="1"/><text x="714.2" y="829.4" font-size="14.5" text-anchor="middle">3</text><text x="737" y="821.4" font-size="15.5">WP OLR (W m<tspan font-size="9.5" dy="-6.5">-2</tspan><tspan dy="6.5">)</tspan></text>
</svg></body></html>
